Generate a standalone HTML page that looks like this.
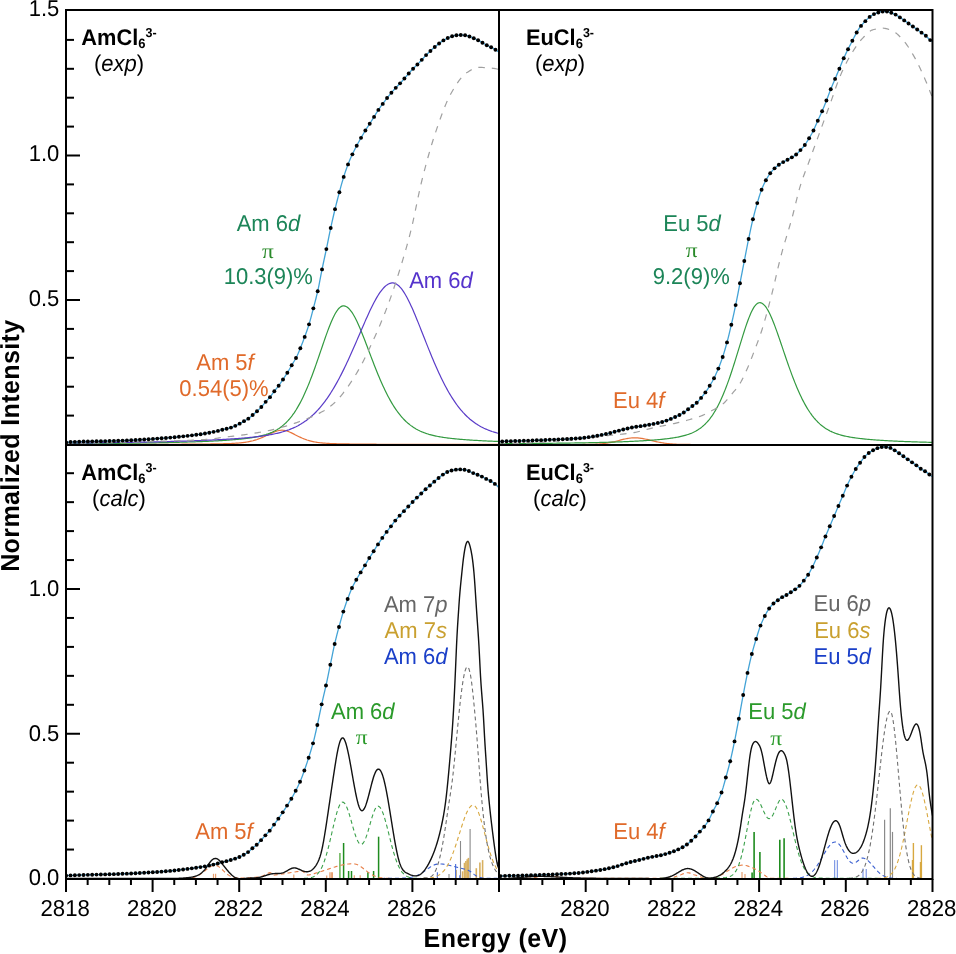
<!DOCTYPE html>
<html><head><meta charset="utf-8"><title>XANES spectra</title>
<style>html,body{margin:0;padding:0;background:#fff;}svg{display:block;}
text{font-family:"Liberation Sans",Arial,sans-serif;text-rendering:geometricPrecision;}
.t{font-size:21.5px;}
.b{font-weight:bold;}
.i{font-style:italic;}
.pi{font-family:"Liberation Serif","DejaVu Serif",serif;}
</style></head><body>
<svg width="956" height="954" viewBox="0 0 956 954">
<defs>
<clipPath id="cA"><rect x="66" y="10" width="433" height="435"/></clipPath>
<clipPath id="cB"><rect x="499" y="10" width="433.5" height="435"/></clipPath>
<clipPath id="cC"><rect x="66" y="445" width="433" height="434"/></clipPath>
<clipPath id="cD"><rect x="499" y="445" width="433.5" height="434"/></clipPath>
</defs>
<rect width="956" height="954" fill="#fff"/>
<path d="M66 444.44L67 444.44L68 444.44L69 444.44L70 444.44L71 444.44L72 444.44L73 444.43L74 444.43L75 444.43L76 444.43L77 444.43L78 444.43L79 444.43L80 444.43L81 444.43L82 444.43L83 444.43L84 444.43L85 444.43L86 444.43L87 444.42L88 444.42L89 444.42L90 444.42L91 444.42L92 444.42L93 444.42L94 444.42L95 444.42L96 444.42L97 444.42L98 444.42L99 444.41L100 444.41L101 444.41L102 444.41L103 444.41L104 444.41L105 444.41L106 444.41L107 444.41L108 444.41L109 444.4L110 444.4L111 444.4L112 444.4L113 444.4L114 444.4L115 444.4L116 444.4L117 444.4L118 444.39L119 444.39L120 444.39L121 444.39L122 444.39L123 444.39L124 444.39L125 444.38L126 444.38L127 444.38L128 444.38L129 444.38L130 444.38L131 444.38L132 444.37L133 444.37L134 444.37L135 444.37L136 444.37L137 444.37L138 444.36L139 444.36L140 444.36L141 444.36L142 444.36L143 444.35L144 444.35L145 444.35L146 444.35L147 444.34L148 444.34L149 444.34L150 444.34L151 444.34L152 444.33L153 444.33L154 444.33L155 444.33L156 444.32L157 444.32L158 444.32L159 444.31L160 444.31L161 444.31L162 444.3L163 444.3L164 444.3L165 444.3L166 444.29L167 444.29L168 444.28L169 444.28L170 444.28L171 444.27L172 444.27L173 444.26L174 444.26L175 444.26L176 444.25L177 444.25L178 444.24L179 444.24L180 444.23L181 444.23L182 444.22L183 444.22L184 444.21L185 444.21L186 444.2L187 444.19L188 444.19L189 444.18L190 444.17L191 444.17L192 444.16L193 444.15L194 444.15L195 444.14L196 444.13L197 444.12L198 444.11L199 444.1L200 444.09L201 444.09L202 444.08L203 444.06L204 444.05L205 444.04L206 444.03L207 444.02L208 444.01L209 444L210 443.98L211 443.97L212 443.95L213 443.94L214 443.92L215 443.91L216 443.89L217 443.87L218 443.85L219 443.83L220 443.81L221 443.79L222 443.77L223 443.74L224 443.72L225 443.69L226 443.66L227 443.63L228 443.59L229 443.56L230 443.52L231 443.48L232 443.43L233 443.38L234 443.33L235 443.27L236 443.21L237 443.14L238 443.06L239 442.98L240 442.89L241 442.79L242 442.69L243 442.57L244 442.44L245 442.3L246 442.15L247 441.99L248 441.82L249 441.63L250 441.42L251 441.2L252 440.96L253 440.71L254 440.43L255 440.14L256 439.83L257 439.51L258 439.16L259 438.8L260 438.42L261 438.02L262 437.6L263 437.17L264 436.73L265 436.27L266 435.81L267 435.33L268 434.85L269 434.37L270 433.9L271 433.42L272 432.96L273 432.52L274 432.1L275 431.7L276 431.34L277 431.02L278 430.75L279 430.53L280 430.36L281 430.26L282 430.22L283 430.24L284 430.34L285 430.51L286 430.74L287 431.03L288 431.38L289 431.77L290 432.2L291 432.66L292 433.14L293 433.64L294 434.15L295 434.66L296 435.18L297 435.69L298 436.19L299 436.68L300 437.15L301 437.61L302 438.06L303 438.48L304 438.89L305 439.27L306 439.63L307 439.98L308 440.3L309 440.6L310 440.88L311 441.14L312 441.38L313 441.6L314 441.81L315 442L316 442.17L317 442.33L318 442.47L319 442.61L320 442.73L321 442.84L322 442.94L323 443.03L324 443.11L325 443.19L326 443.26L327 443.32L328 443.38L329 443.43L330 443.48L331 443.52L332 443.57L333 443.6L334 443.64L335 443.67L336 443.7L337 443.73L338 443.76L339 443.78L340 443.81L341 443.83L342 443.85L343 443.87L344 443.89L345 443.91L346 443.93L347 443.94L348 443.96L349 443.97L350 443.99L351 444L352 444.02L353 444.03L354 444.04L355 444.05L356 444.06L357 444.08L358 444.09L359 444.1L360 444.11L361 444.12L362 444.12L363 444.13L364 444.14L365 444.15L366 444.16L367 444.17L368 444.17L369 444.18L370 444.19L371 444.19L372 444.2L373 444.21L374 444.21L375 444.22L376 444.22L377 444.23L378 444.24L379 444.24L380 444.25L381 444.25L382 444.26L383 444.26L384 444.26L385 444.27L386 444.27L387 444.28L388 444.28L389 444.29L390 444.29L391 444.29L392 444.3L393 444.3L394 444.3L395 444.31L396 444.31L397 444.31L398 444.32L399 444.32L400 444.32L401 444.33L402 444.33L403 444.33L404 444.33L405 444.34L406 444.34L407 444.34L408 444.34L409 444.35L410 444.35L411 444.35L412 444.35L413 444.36L414 444.36L415 444.36L416 444.36L417 444.36L418 444.37L419 444.37L420 444.37L421 444.37L422 444.37L423 444.37L424 444.38L425 444.38L426 444.38L427 444.38L428 444.38L429 444.38L430 444.39L431 444.39L432 444.39L433 444.39L434 444.39L435 444.39L436 444.39L437 444.4L438 444.4L439 444.4L440 444.4L441 444.4L442 444.4L443 444.4L444 444.4L445 444.41L446 444.41L447 444.41L448 444.41L449 444.41L450 444.41L451 444.41L452 444.41L453 444.41L454 444.42L455 444.42L456 444.42L457 444.42L458 444.42L459 444.42L460 444.42L461 444.42L462 444.42L463 444.42L464 444.42L465 444.43L466 444.43L467 444.43L468 444.43L469 444.43L470 444.43L471 444.43L472 444.43L473 444.43L474 444.43L475 444.43L476 444.43L477 444.43L478 444.43L479 444.44L480 444.44L481 444.44L482 444.44L483 444.44L484 444.44L485 444.44L486 444.44L487 444.44L488 444.44L489 444.44L490 444.44L491 444.44L492 444.44L493 444.44L494 444.44L495 444.44L496 444.45L497 444.45L498 444.45L499 444.45" fill="none" stroke="#e8743b" stroke-width="1.2" clip-path="url(#cA)"/>
<path d="M66 443.7L67 443.7L68 443.69L69 443.68L70 443.68L71 443.67L72 443.67L73 443.66L74 443.65L75 443.65L76 443.64L77 443.63L78 443.63L79 443.62L80 443.62L81 443.61L82 443.6L83 443.59L84 443.59L85 443.58L86 443.57L87 443.57L88 443.56L89 443.55L90 443.55L91 443.54L92 443.53L93 443.52L94 443.51L95 443.51L96 443.5L97 443.49L98 443.48L99 443.47L100 443.47L101 443.46L102 443.45L103 443.44L104 443.43L105 443.42L106 443.41L107 443.41L108 443.4L109 443.39L110 443.38L111 443.37L112 443.36L113 443.35L114 443.34L115 443.33L116 443.32L117 443.31L118 443.3L119 443.29L120 443.28L121 443.27L122 443.26L123 443.24L124 443.23L125 443.22L126 443.21L127 443.2L128 443.19L129 443.17L130 443.16L131 443.15L132 443.14L133 443.12L134 443.11L135 443.1L136 443.09L137 443.07L138 443.06L139 443.04L140 443.03L141 443.02L142 443L143 442.99L144 442.97L145 442.96L146 442.94L147 442.93L148 442.91L149 442.89L150 442.88L151 442.86L152 442.85L153 442.83L154 442.81L155 442.79L156 442.78L157 442.76L158 442.74L159 442.72L160 442.7L161 442.68L162 442.66L163 442.64L164 442.62L165 442.6L166 442.58L167 442.56L168 442.54L169 442.52L170 442.5L171 442.47L172 442.45L173 442.43L174 442.4L175 442.38L176 442.35L177 442.33L178 442.3L179 442.28L180 442.25L181 442.23L182 442.2L183 442.17L184 442.14L185 442.11L186 442.08L187 442.05L188 442.02L189 441.99L190 441.96L191 441.93L192 441.9L193 441.86L194 441.83L195 441.8L196 441.76L197 441.72L198 441.69L199 441.65L200 441.61L201 441.57L202 441.53L203 441.49L204 441.45L205 441.41L206 441.37L207 441.32L208 441.28L209 441.23L210 441.19L211 441.14L212 441.09L213 441.04L214 440.99L215 440.94L216 440.89L217 440.83L218 440.78L219 440.72L220 440.66L221 440.6L222 440.54L223 440.48L224 440.42L225 440.35L226 440.28L227 440.22L228 440.15L229 440.07L230 440L231 439.92L232 439.85L233 439.77L234 439.68L235 439.6L236 439.51L237 439.42L238 439.33L239 439.23L240 439.14L241 439.03L242 438.93L243 438.82L244 438.71L245 438.59L246 438.47L247 438.35L248 438.22L249 438.08L250 437.94L251 437.79L252 437.64L253 437.48L254 437.31L255 437.14L256 436.95L257 436.76L258 436.56L259 436.35L260 436.12L261 435.89L262 435.64L263 435.38L264 435.1L265 434.81L266 434.51L267 434.18L268 433.84L269 433.47L270 433.09L271 432.68L272 432.25L273 431.79L274 431.3L275 430.79L276 430.24L277 429.67L278 429.05L279 428.41L280 427.72L281 426.99L282 426.23L283 425.41L284 424.56L285 423.65L286 422.7L287 421.69L288 420.63L289 419.52L290 418.34L291 417.11L292 415.82L293 414.46L294 413.04L295 411.55L296 410L297 408.37L298 406.68L299 404.92L300 403.09L301 401.18L302 399.21L303 397.16L304 395.04L305 392.86L306 390.6L307 388.27L308 385.88L309 383.42L310 380.9L311 378.32L312 375.69L313 373L314 370.26L315 367.47L316 364.65L317 361.79L318 358.9L319 355.99L320 353.06L321 350.13L322 347.2L323 344.28L324 341.37L325 338.5L326 335.66L327 332.88L328 330.16L329 327.52L330 324.97L331 322.52L332 320.19L333 317.99L334 315.93L335 314.04L336 312.31L337 310.77L338 309.42L339 308.28L340 307.35L341 306.64L342 306.17L343 305.92L344 305.91L345 306.09L346 306.47L347 307.03L348 307.77L349 308.69L350 309.78L351 311.04L352 312.45L353 314.02L354 315.72L355 317.55L356 319.5L357 321.56L358 323.73L359 325.98L360 328.31L361 330.71L362 333.16L363 335.68L364 338.23L365 340.81L366 343.43L367 346.06L368 348.7L369 351.34L370 353.98L371 356.62L372 359.24L373 361.84L374 364.42L375 366.97L376 369.49L377 371.97L378 374.42L379 376.82L380 379.18L381 381.49L382 383.75L383 385.96L384 388.12L385 390.22L386 392.27L387 394.26L388 396.2L389 398.07L390 399.89L391 401.65L392 403.36L393 405L394 406.59L395 408.12L396 409.6L397 411.02L398 412.38L399 413.69L400 414.95L401 416.16L402 417.31L403 418.42L404 419.47L405 420.48L406 421.45L407 422.37L408 423.25L409 424.08L410 424.88L411 425.64L412 426.36L413 427.05L414 427.7L415 428.32L416 428.91L417 429.47L418 430.01L419 430.51L420 430.99L421 431.44L422 431.88L423 432.29L424 432.68L425 433.04L426 433.4L427 433.73L428 434.04L429 434.35L430 434.63L431 434.9L432 435.16L433 435.41L434 435.64L435 435.87L436 436.08L437 436.28L438 436.48L439 436.66L440 436.84L441 437.01L442 437.18L443 437.33L444 437.48L445 437.63L446 437.77L447 437.9L448 438.03L449 438.15L450 438.27L451 438.39L452 438.5L453 438.61L454 438.71L455 438.81L456 438.91L457 439.01L458 439.1L459 439.19L460 439.28L461 439.36L462 439.44L463 439.52L464 439.6L465 439.68L466 439.75L467 439.83L468 439.9L469 439.97L470 440.03L471 440.1L472 440.16L473 440.23L474 440.29L475 440.35L476 440.41L477 440.47L478 440.52L479 440.58L480 440.63L481 440.68L482 440.74L483 440.79L484 440.84L485 440.89L486 440.93L487 440.98L488 441.03L489 441.07L490 441.12L491 441.16L492 441.2L493 441.24L494 441.28L495 441.32L496 441.36L497 441.4L498 441.44L499 441.48" fill="none" stroke="#339a40" stroke-width="1.2" clip-path="url(#cA)"/>
<path d="M66 443.07L67 443.06L68 443.05L69 443.04L70 443.03L71 443.03L72 443.02L73 443.01L74 443L75 442.99L76 442.98L77 442.97L78 442.96L79 442.95L80 442.94L81 442.93L82 442.92L83 442.91L84 442.9L85 442.89L86 442.88L87 442.87L88 442.86L89 442.85L90 442.84L91 442.83L92 442.82L93 442.81L94 442.79L95 442.78L96 442.77L97 442.76L98 442.75L99 442.74L100 442.73L101 442.71L102 442.7L103 442.69L104 442.68L105 442.67L106 442.65L107 442.64L108 442.63L109 442.61L110 442.6L111 442.59L112 442.58L113 442.56L114 442.55L115 442.53L116 442.52L117 442.51L118 442.49L119 442.48L120 442.46L121 442.45L122 442.43L123 442.42L124 442.4L125 442.39L126 442.37L127 442.36L128 442.34L129 442.33L130 442.31L131 442.29L132 442.28L133 442.26L134 442.24L135 442.23L136 442.21L137 442.19L138 442.17L139 442.16L140 442.14L141 442.12L142 442.1L143 442.08L144 442.07L145 442.05L146 442.03L147 442.01L148 441.99L149 441.97L150 441.95L151 441.93L152 441.91L153 441.89L154 441.86L155 441.84L156 441.82L157 441.8L158 441.78L159 441.75L160 441.73L161 441.71L162 441.69L163 441.66L164 441.64L165 441.61L166 441.59L167 441.56L168 441.54L169 441.51L170 441.49L171 441.46L172 441.44L173 441.41L174 441.38L175 441.35L176 441.33L177 441.3L178 441.27L179 441.24L180 441.21L181 441.18L182 441.15L183 441.12L184 441.09L185 441.06L186 441.03L187 440.99L188 440.96L189 440.93L190 440.89L191 440.86L192 440.83L193 440.79L194 440.75L195 440.72L196 440.68L197 440.64L198 440.61L199 440.57L200 440.53L201 440.49L202 440.45L203 440.41L204 440.37L205 440.33L206 440.29L207 440.24L208 440.2L209 440.15L210 440.11L211 440.06L212 440.02L213 439.97L214 439.92L215 439.87L216 439.82L217 439.77L218 439.72L219 439.67L220 439.62L221 439.56L222 439.51L223 439.45L224 439.4L225 439.34L226 439.28L227 439.22L228 439.16L229 439.1L230 439.03L231 438.97L232 438.9L233 438.84L234 438.77L235 438.7L236 438.63L237 438.56L238 438.48L239 438.41L240 438.33L241 438.25L242 438.17L243 438.09L244 438L245 437.92L246 437.83L247 437.74L248 437.64L249 437.55L250 437.45L251 437.35L252 437.25L253 437.14L254 437.03L255 436.92L256 436.81L257 436.69L258 436.57L259 436.44L260 436.31L261 436.18L262 436.04L263 435.9L264 435.75L265 435.6L266 435.45L267 435.29L268 435.12L269 434.95L270 434.77L271 434.58L272 434.39L273 434.19L274 433.98L275 433.77L276 433.54L277 433.31L278 433.07L279 432.82L280 432.56L281 432.3L282 432.02L283 431.72L284 431.42L285 431.11L286 430.78L287 430.44L288 430.08L289 429.72L290 429.33L291 428.93L292 428.52L293 428.09L294 427.64L295 427.17L296 426.69L297 426.18L298 425.66L299 425.11L300 424.54L301 423.95L302 423.34L303 422.71L304 422.05L305 421.36L306 420.65L307 419.91L308 419.15L309 418.35L310 417.53L311 416.68L312 415.8L313 414.89L314 413.94L315 412.97L316 411.96L317 410.91L318 409.84L319 408.73L320 407.58L321 406.4L322 405.18L323 403.92L324 402.63L325 401.3L326 399.94L327 398.53L328 397.09L329 395.61L330 394.09L331 392.53L332 390.93L333 389.29L334 387.62L335 385.91L336 384.16L337 382.37L338 380.55L339 378.69L340 376.79L341 374.86L342 372.89L343 370.89L344 368.86L345 366.79L346 364.7L347 362.58L348 360.43L349 358.25L350 356.05L351 353.83L352 351.58L353 349.32L354 347.04L355 344.74L356 342.44L357 340.12L358 337.8L359 335.47L360 333.15L361 330.82L362 328.51L363 326.2L364 323.9L365 321.62L366 319.36L367 317.13L368 314.92L369 312.75L370 310.62L371 308.53L372 306.48L373 304.49L374 302.56L375 300.69L376 298.89L377 297.16L378 295.5L379 293.93L380 292.45L381 291.06L382 289.77L383 288.57L384 287.49L385 286.51L386 285.64L387 284.89L388 284.26L389 283.76L390 283.37L391 283.11L392 282.97L393 282.97L394 283.11L395 283.4L396 283.84L397 284.43L398 285.16L399 286.03L400 287.04L401 288.18L402 289.44L403 290.84L404 292.34L405 293.96L406 295.68L407 297.5L408 299.41L409 301.41L410 303.48L411 305.63L412 307.84L413 310.11L414 312.43L415 314.8L416 317.21L417 319.65L418 322.12L419 324.62L420 327.13L421 329.66L422 332.2L423 334.74L424 337.28L425 339.82L426 342.35L427 344.87L428 347.38L429 349.87L430 352.33L431 354.78L432 357.19L433 359.58L434 361.94L435 364.27L436 366.56L437 368.82L438 371.04L439 373.22L440 375.36L441 377.46L442 379.52L443 381.53L444 383.5L445 385.43L446 387.31L447 389.14L448 390.93L449 392.68L450 394.37L451 396.02L452 397.63L453 399.19L454 400.7L455 402.17L456 403.6L457 404.98L458 406.31L459 407.6L460 408.85L461 410.06L462 411.23L463 412.36L464 413.44L465 414.49L466 415.5L467 416.47L468 417.41L469 418.31L470 419.18L471 420.01L472 420.81L473 421.58L474 422.32L475 423.03L476 423.71L477 424.36L478 424.99L479 425.59L480 426.16L481 426.72L482 427.24L483 427.75L484 428.24L485 428.7L486 429.14L487 429.57L488 429.98L489 430.37L490 430.74L491 431.1L492 431.45L493 431.77L494 432.09L495 432.39L496 432.68L497 432.96L498 433.23L499 433.48" fill="none" stroke="#5a3cc8" stroke-width="1.2" clip-path="url(#cA)"/>
<path d="M66 443.5L67 443.48L68 443.47L69 443.45L70 443.44L71 443.42L72 443.4L73 443.39L74 443.37L75 443.35L76 443.33L77 443.32L78 443.3L79 443.28L80 443.26L81 443.24L82 443.22L83 443.2L84 443.18L85 443.16L86 443.14L87 443.12L88 443.1L89 443.08L90 443.06L91 443.04L92 443.02L93 443L94 442.98L95 442.95L96 442.93L97 442.91L98 442.89L99 442.86L100 442.84L101 442.82L102 442.79L103 442.77L104 442.75L105 442.72L106 442.7L107 442.68L108 442.65L109 442.63L110 442.6L111 442.58L112 442.55L113 442.53L114 442.5L115 442.48L116 442.45L117 442.42L118 442.4L119 442.37L120 442.35L121 442.32L122 442.29L123 442.27L124 442.24L125 442.21L126 442.19L127 442.16L128 442.13L129 442.1L130 442.08L131 442.05L132 442.02L133 441.99L134 441.96L135 441.94L136 441.91L137 441.88L138 441.85L139 441.82L140 441.79L141 441.76L142 441.74L143 441.71L144 441.68L145 441.65L146 441.62L147 441.59L148 441.56L149 441.53L150 441.5L151 441.47L152 441.44L153 441.41L154 441.38L155 441.36L156 441.33L157 441.3L158 441.27L159 441.25L160 441.22L161 441.19L162 441.17L163 441.14L164 441.11L165 441.08L166 441.06L167 441.03L168 441L169 440.98L170 440.95L171 440.92L172 440.89L173 440.86L174 440.83L175 440.8L176 440.77L177 440.74L178 440.71L179 440.68L180 440.65L181 440.61L182 440.58L183 440.55L184 440.51L185 440.47L186 440.44L187 440.4L188 440.36L189 440.32L190 440.28L191 440.24L192 440.2L193 440.15L194 440.11L195 440.06L196 440.01L197 439.96L198 439.91L199 439.86L200 439.81L201 439.76L202 439.7L203 439.64L204 439.59L205 439.53L206 439.46L207 439.4L208 439.34L209 439.27L210 439.2L211 439.12L212 439.01L213 438.89L214 438.75L215 438.6L216 438.44L217 438.27L218 438.1L219 437.93L220 437.77L221 437.61L222 437.47L223 437.34L224 437.21L225 437.09L226 436.97L227 436.86L228 436.74L229 436.63L230 436.52L231 436.41L232 436.3L233 436.19L234 436.08L235 435.96L236 435.85L237 435.73L238 435.6L239 435.47L240 435.34L241 435.21L242 435.07L243 434.94L244 434.8L245 434.66L246 434.51L247 434.37L248 434.22L249 434.07L250 433.91L251 433.76L252 433.6L253 433.44L254 433.28L255 433.12L256 432.96L257 432.79L258 432.62L259 432.45L260 432.28L261 432.1L262 431.92L263 431.73L264 431.54L265 431.35L266 431.15L267 430.95L268 430.74L269 430.52L270 430.3L271 430.07L272 429.84L273 429.6L274 429.35L275 429.1L276 428.84L277 428.58L278 428.32L279 428.05L280 427.78L281 427.5L282 427.22L283 426.94L284 426.66L285 426.37L286 426.07L287 425.77L288 425.47L289 425.16L290 424.84L291 424.52L292 424.19L293 423.86L294 423.52L295 423.17L296 422.82L297 422.46L298 422.09L299 421.73L300 421.37L301 421L302 420.63L303 420.26L304 419.88L305 419.5L306 419.12L307 418.73L308 418.33L309 417.92L310 417.51L311 417.09L312 416.66L313 416.23L314 415.78L315 415.32L316 414.86L317 414.38L318 413.89L319 413.39L320 412.87L321 412.34L322 411.8L323 411.24L324 410.66L325 410.05L326 409.41L327 408.73L328 408.03L329 407.3L330 406.54L331 405.76L332 404.94L333 404.1L334 403.24L335 402.35L336 401.43L337 400.42L338 399.34L339 398.19L340 397L341 395.78L342 394.54L343 393.26L344 391.96L345 390.64L346 389.29L347 387.91L348 386.5L349 385.07L350 383.61L351 382.12L352 380.6L353 379.06L354 377.49L355 375.89L356 374.26L357 372.6L358 370.9L359 369.15L360 367.35L361 365.51L362 363.62L363 361.69L364 359.72L365 357.72L366 355.69L367 353.62L368 351.53L369 349.42L370 347.29L371 345.14L372 342.97L373 340.79L374 338.6L375 336.39L376 334.16L377 331.91L378 329.62L379 327.3L380 324.95L381 322.57L382 320.16L383 317.71L384 315.22L385 312.69L386 310.13L387 307.52L388 304.87L389 302.16L390 299.4L391 296.58L392 293.7L393 290.76L394 287.78L395 284.75L396 281.67L397 278.55L398 275.4L399 272.21L400 268.99L401 265.74L402 262.46L403 259.15L404 255.78L405 252.36L406 248.88L407 245.32L408 241.68L409 237.96L410 234.13L411 230.2L412 226.04L413 221.62L414 217.01L415 212.27L416 207.45L417 202.61L418 197.8L419 193.07L420 188.49L421 184.12L422 180L423 176.06L424 172.17L425 168.35L426 164.59L427 160.89L428 157.27L429 153.72L430 150.24L431 146.84L432 143.52L433 140.28L434 137.13L435 134.06L436 131.09L437 128.18L438 125.29L439 122.42L440 119.59L441 116.81L442 114.08L443 111.42L444 108.82L445 106.31L446 103.89L447 101.57L448 99.35L449 97.26L450 95.29L451 93.45L452 91.72L453 90.01L454 88.33L455 86.7L456 85.1L457 83.56L458 82.08L459 80.66L460 79.32L461 78.06L462 76.88L463 75.8L464 74.83L465 73.96L466 73.2L467 72.54L468 71.89L469 71.24L470 70.62L471 70.03L472 69.48L473 68.97L474 68.52L475 68.13L476 67.82L477 67.58L478 67.44L479 67.4L480 67.41L481 67.42L482 67.45L483 67.49L484 67.54L485 67.59L486 67.66L487 67.73L488 67.81L489 67.89L490 67.98L491 68.08L492 68.18L493 68.29L494 68.4L495 68.54L496 68.74L497 68.98L498 69.24L499 69.5" fill="none" stroke="#a0a0a0" stroke-width="1.2" stroke-dasharray="6.5 7" clip-path="url(#cA)"/>
<path d="M66 442.5L67 442.38L68 442.26L69 442.16L70 442.09L71 442.04L72 441.99L73 441.94L74 441.89L75 441.85L76 441.81L77 441.77L78 441.73L79 441.69L80 441.66L81 441.63L82 441.59L83 441.56L84 441.53L85 441.51L86 441.48L87 441.45L88 441.43L89 441.4L90 441.38L91 441.36L92 441.34L93 441.32L94 441.3L95 441.28L96 441.26L97 441.24L98 441.22L99 441.2L100 441.18L101 441.16L102 441.14L103 441.12L104 441.1L105 441.08L106 441.06L107 441.04L108 441.02L109 441L110 440.98L111 440.95L112 440.93L113 440.9L114 440.88L115 440.85L116 440.82L117 440.79L118 440.76L119 440.73L120 440.69L121 440.66L122 440.62L123 440.58L124 440.54L125 440.5L126 440.46L127 440.41L128 440.37L129 440.32L130 440.27L131 440.22L132 440.18L133 440.12L134 440.07L135 440.02L136 439.97L137 439.91L138 439.86L139 439.8L140 439.74L141 439.68L142 439.62L143 439.56L144 439.5L145 439.44L146 439.37L147 439.31L148 439.25L149 439.18L150 439.11L151 439.05L152 438.98L153 438.91L154 438.84L155 438.77L156 438.7L157 438.63L158 438.55L159 438.48L160 438.41L161 438.33L162 438.26L163 438.18L164 438.1L165 438.02L166 437.94L167 437.86L168 437.78L169 437.69L170 437.61L171 437.52L172 437.43L173 437.34L174 437.25L175 437.16L176 437.07L177 436.97L178 436.87L179 436.78L180 436.68L181 436.57L182 436.47L183 436.37L184 436.26L185 436.15L186 436.04L187 435.93L188 435.81L189 435.7L190 435.58L191 435.46L192 435.34L193 435.22L194 435.09L195 434.97L196 434.84L197 434.71L198 434.57L199 434.44L200 434.29L201 434.14L202 433.99L203 433.83L204 433.66L205 433.49L206 433.31L207 433.13L208 432.95L209 432.76L210 432.57L211 432.37L212 432.17L213 431.96L214 431.76L215 431.54L216 431.33L217 431.11L218 430.87L219 430.62L220 430.36L221 430.09L222 429.83L223 429.58L224 429.34L225 429.12L226 428.89L227 428.67L228 428.43L229 428.18L230 427.9L231 427.6L232 427.25L233 426.86L234 426.44L235 425.98L236 425.49L237 424.99L238 424.48L239 423.96L240 423.44L241 422.9L242 422.33L243 421.74L244 421.16L245 420.6L246 420.05L247 419.48L248 418.87L249 418.17L250 417.36L251 416.5L252 415.62L253 414.76L254 413.92L255 413.07L256 412.2L257 411.3L258 410.36L259 409.39L260 408.38L261 407.33L262 406.23L263 405.05L264 403.83L265 402.62L266 401.46L267 400.39L268 399.34L269 398.27L270 397.12L271 395.85L272 394.48L273 393.07L274 391.67L275 390.35L276 389.09L277 387.85L278 386.58L279 385.26L280 383.88L281 382.45L282 380.98L283 379.5L284 378L285 376.48L286 374.94L287 373.35L288 371.71L289 369.99L290 368.24L291 366.49L292 364.76L293 363.11L294 361.48L295 359.8L296 357.99L297 355.98L298 353.79L299 351.46L300 349.06L301 346.62L302 344.08L303 341.46L304 338.77L305 336.02L306 333.27L307 330.46L308 327.53L309 324.42L310 321.04L311 317.4L312 313.59L313 309.73L314 305.89L315 302.09L316 298.22L317 294.18L318 289.85L319 285.02L320 279.82L321 274.55L322 269.51L323 264.75L324 260.11L325 255.5L326 250.83L327 246.01L328 241.06L329 236.1L330 231.27L331 226.65L332 222.15L333 217.76L334 213.48L335 209.3L336 205.22L337 201.24L338 197.35L339 193.56L340 189.85L341 186.19L342 182.63L343 179.2L344 175.97L345 172.89L346 169.95L347 167.15L348 164.5L349 162L350 159.62L351 157.34L352 155.15L353 153.02L354 150.97L355 148.98L356 147.05L357 145.14L358 143.29L359 141.47L360 139.69L361 137.92L362 136.18L363 134.47L364 132.78L365 131.13L366 129.52L367 127.96L368 126.43L369 124.89L370 123.33L371 121.76L372 120.18L373 118.59L374 117L375 115.37L376 113.71L377 112.07L378 110.5L379 109.03L380 107.61L381 106.24L382 104.88L383 103.51L384 102.14L385 100.79L386 99.45L387 98.14L388 96.86L389 95.59L390 94.36L391 93.15L392 91.99L393 90.86L394 89.75L395 88.66L396 87.59L397 86.53L398 85.5L399 84.47L400 83.41L401 82.32L402 81.21L403 80.09L404 78.96L405 77.81L406 76.64L407 75.46L408 74.3L409 73.16L410 72.04L411 70.93L412 69.85L413 68.8L414 67.8L415 66.83L416 65.88L417 64.9L418 63.88L419 62.83L420 61.75L421 60.67L422 59.58L423 58.48L424 57.36L425 56.26L426 55.2L427 54.2L428 53.23L429 52.29L430 51.36L431 50.43L432 49.5L433 48.59L434 47.7L435 46.83L436 45.98L437 45.16L438 44.35L439 43.58L440 42.82L441 42.07L442 41.35L443 40.68L444 40.06L445 39.48L446 38.94L447 38.43L448 37.95L449 37.48L450 37.03L451 36.62L452 36.26L453 35.96L454 35.67L455 35.43L456 35.25L457 35.16L458 35.1L459 35.05L460 35.01L461 35L462 35.01L463 35.05L464 35.11L465 35.18L466 35.3L467 35.56L468 35.91L469 36.28L470 36.64L471 37.02L472 37.42L473 37.85L474 38.29L475 38.75L476 39.23L477 39.73L478 40.25L479 40.78L480 41.33L481 41.89L482 42.46L483 43.03L484 43.63L485 44.23L486 44.81L487 45.35L488 45.83L489 46.28L490 46.72L491 47.2L492 47.72L493 48.28L494 48.87L495 49.48L496 50.13L497 50.81L498 51.54L499 52.3" fill="none" stroke="#43a3d6" stroke-width="1.3" clip-path="url(#cA)"/>
<g fill="#000" clip-path="url(#cA)"><circle cx="66.2" cy="442.48" r="1.95"/><circle cx="70.54" cy="442.06" r="1.95"/><circle cx="74.87" cy="441.86" r="1.95"/><circle cx="79.21" cy="441.69" r="1.95"/><circle cx="83.54" cy="441.55" r="1.95"/><circle cx="87.88" cy="441.43" r="1.95"/><circle cx="92.22" cy="441.33" r="1.95"/><circle cx="96.55" cy="441.25" r="1.95"/><circle cx="100.89" cy="441.16" r="1.95"/><circle cx="105.22" cy="441.08" r="1.95"/><circle cx="109.56" cy="440.99" r="1.95"/><circle cx="113.9" cy="440.88" r="1.95"/><circle cx="118.23" cy="440.75" r="1.95"/><circle cx="122.57" cy="440.6" r="1.95"/><circle cx="126.9" cy="440.42" r="1.95"/><circle cx="131.24" cy="440.21" r="1.95"/><circle cx="135.58" cy="439.99" r="1.95"/><circle cx="139.91" cy="439.75" r="1.95"/><circle cx="144.25" cy="439.49" r="1.95"/><circle cx="148.58" cy="439.21" r="1.95"/><circle cx="152.92" cy="438.91" r="1.95"/><circle cx="157.26" cy="438.61" r="1.95"/><circle cx="161.59" cy="438.29" r="1.95"/><circle cx="165.93" cy="437.95" r="1.95"/><circle cx="170.26" cy="437.59" r="1.95"/><circle cx="174.6" cy="437.2" r="1.95"/><circle cx="178.94" cy="436.78" r="1.95"/><circle cx="183.27" cy="436.34" r="1.95"/><circle cx="187.61" cy="435.86" r="1.95"/><circle cx="191.94" cy="435.35" r="1.95"/><circle cx="196.28" cy="434.8" r="1.95"/><circle cx="200.62" cy="434.2" r="1.95"/><circle cx="204.95" cy="433.5" r="1.95"/><circle cx="209.29" cy="432.71" r="1.95"/><circle cx="213.62" cy="431.83" r="1.95"/><circle cx="217.96" cy="430.88" r="1.95"/><circle cx="222.3" cy="429.75" r="1.95"/><circle cx="226.63" cy="428.75" r="1.95"/><circle cx="230.97" cy="427.61" r="1.95"/><circle cx="235.3" cy="425.83" r="1.95"/><circle cx="239.64" cy="423.63" r="1.95"/><circle cx="243.98" cy="421.17" r="1.95"/><circle cx="248.31" cy="418.66" r="1.95"/><circle cx="252.65" cy="415.06" r="1.95"/><circle cx="256.98" cy="411.31" r="1.95"/><circle cx="261.32" cy="406.99" r="1.95"/><circle cx="265.66" cy="401.85" r="1.95"/><circle cx="269.99" cy="397.13" r="1.95"/><circle cx="274.33" cy="391.23" r="1.95"/><circle cx="278.66" cy="385.72" r="1.95"/><circle cx="283" cy="379.5" r="1.95"/><circle cx="287.34" cy="372.8" r="1.95"/><circle cx="291.67" cy="365.32" r="1.95"/><circle cx="296.01" cy="357.97" r="1.95"/><circle cx="300.34" cy="348.22" r="1.95"/><circle cx="304.68" cy="336.91" r="1.95"/><circle cx="309.02" cy="324.37" r="1.95"/><circle cx="313.35" cy="308.37" r="1.95"/><circle cx="317.69" cy="291.24" r="1.95"/><circle cx="322.02" cy="269.4" r="1.95"/><circle cx="326.36" cy="249.11" r="1.95"/><circle cx="330.7" cy="228.04" r="1.95"/><circle cx="335.03" cy="209.17" r="1.95"/><circle cx="339.37" cy="192.19" r="1.95"/><circle cx="343.7" cy="176.9" r="1.95"/><circle cx="348.04" cy="164.4" r="1.95"/><circle cx="352.38" cy="154.34" r="1.95"/><circle cx="356.71" cy="145.69" r="1.95"/><circle cx="361.05" cy="137.84" r="1.95"/><circle cx="365.38" cy="130.5" r="1.95"/><circle cx="369.72" cy="123.77" r="1.95"/><circle cx="374.06" cy="116.91" r="1.95"/><circle cx="378.39" cy="109.91" r="1.95"/><circle cx="382.73" cy="103.89" r="1.95"/><circle cx="387.06" cy="98.06" r="1.95"/><circle cx="391.4" cy="92.68" r="1.95"/><circle cx="395.74" cy="87.87" r="1.95"/><circle cx="400.07" cy="83.33" r="1.95"/><circle cx="404.41" cy="78.49" r="1.95"/><circle cx="408.74" cy="73.45" r="1.95"/><circle cx="413.08" cy="68.72" r="1.95"/><circle cx="417.42" cy="64.49" r="1.95"/><circle cx="421.75" cy="59.85" r="1.95"/><circle cx="426.09" cy="55.11" r="1.95"/><circle cx="430.42" cy="50.96" r="1.95"/><circle cx="434.76" cy="47.03" r="1.95"/><circle cx="439.1" cy="43.5" r="1.95"/><circle cx="443.43" cy="40.4" r="1.95"/><circle cx="447.77" cy="38.06" r="1.95"/><circle cx="452.1" cy="36.23" r="1.95"/><circle cx="456.44" cy="35.2" r="1.95"/><circle cx="460.78" cy="35" r="1.95"/><circle cx="465.11" cy="35.19" r="1.95"/><circle cx="469.45" cy="36.45" r="1.95"/><circle cx="473.78" cy="38.19" r="1.95"/><circle cx="478.12" cy="40.31" r="1.95"/><circle cx="482.46" cy="42.72" r="1.95"/><circle cx="486.79" cy="45.24" r="1.95"/><circle cx="491.13" cy="47.26" r="1.95"/><circle cx="495.46" cy="49.78" r="1.95"/></g>
<path d="M499 444.5L500 444.5L501 444.5L502 444.5L503 444.5L504 444.5L505 444.5L506 444.5L507 444.5L508 444.5L509 444.5L510 444.5L511 444.5L512 444.5L513 444.5L514 444.5L515 444.5L516 444.5L517 444.5L518 444.5L519 444.5L520 444.5L521 444.5L522 444.5L523 444.5L524 444.5L525 444.5L526 444.5L527 444.5L528 444.5L529 444.5L530 444.5L531 444.5L532 444.5L533 444.5L534 444.5L535 444.5L536 444.5L537 444.5L538 444.5L539 444.5L540 444.5L541 444.5L542 444.5L543 444.5L544 444.5L545 444.5L546 444.5L547 444.5L548 444.5L549 444.5L550 444.5L551 444.5L552 444.5L553 444.5L554 444.5L555 444.5L556 444.5L557 444.5L558 444.5L559 444.5L560 444.5L561 444.5L562 444.5L563 444.5L564 444.5L565 444.5L566 444.5L567 444.5L568 444.5L569 444.5L570 444.5L571 444.5L572 444.5L573 444.5L574 444.5L575 444.5L576 444.49L577 444.49L578 444.49L579 444.49L580 444.49L581 444.48L582 444.48L583 444.47L584 444.47L585 444.46L586 444.45L587 444.44L588 444.43L589 444.41L590 444.39L591 444.37L592 444.35L593 444.32L594 444.28L595 444.24L596 444.2L597 444.15L598 444.09L599 444.02L600 443.94L601 443.86L602 443.76L603 443.66L604 443.54L605 443.42L606 443.28L607 443.12L608 442.96L609 442.78L610 442.6L611 442.4L612 442.18L613 441.96L614 441.73L615 441.49L616 441.24L617 440.98L618 440.72L619 440.46L620 440.2L621 439.94L622 439.69L623 439.44L624 439.2L625 438.98L626 438.76L627 438.57L628 438.39L629 438.24L630 438.1L631 438L632 437.91L633 437.86L634 437.83L635 437.83L636 437.85L637 437.9L638 437.97L639 438.06L640 438.17L641 438.31L642 438.46L643 438.63L644 438.82L645 439.01L646 439.23L647 439.45L648 439.68L649 439.91L650 440.15L651 440.39L652 440.64L653 440.88L654 441.12L655 441.35L656 441.58L657 441.8L658 442.01L659 442.22L660 442.41L661 442.6L662 442.77L663 442.94L664 443.09L665 443.24L666 443.37L667 443.49L668 443.6L669 443.71L670 443.8L671 443.89L672 443.96L673 444.03L674 444.09L675 444.15L676 444.19L677 444.24L678 444.27L679 444.31L680 444.34L681 444.36L682 444.38L683 444.4L684 444.42L685 444.43L686 444.44L687 444.45L688 444.46L689 444.47L690 444.47L691 444.48L692 444.48L693 444.49L694 444.49L695 444.49L696 444.49L697 444.49L698 444.5L699 444.5L700 444.5L701 444.5L702 444.5L703 444.5L704 444.5L705 444.5L706 444.5L707 444.5L708 444.5L709 444.5L710 444.5L711 444.5L712 444.5L713 444.5L714 444.5L715 444.5L716 444.5L717 444.5L718 444.5L719 444.5L720 444.5L721 444.5L722 444.5L723 444.5L724 444.5L725 444.5L726 444.5L727 444.5L728 444.5L729 444.5L730 444.5L731 444.5L732 444.5L733 444.5L734 444.5L735 444.5L736 444.5L737 444.5L738 444.5L739 444.5L740 444.5L741 444.5L742 444.5L743 444.5L744 444.5L745 444.5L746 444.5L747 444.5L748 444.5L749 444.5L750 444.5L751 444.5L752 444.5L753 444.5L754 444.5L755 444.5L756 444.5L757 444.5L758 444.5L759 444.5L760 444.5L761 444.5L762 444.5L763 444.5L764 444.5L765 444.5L766 444.5L767 444.5L768 444.5L769 444.5L770 444.5L771 444.5L772 444.5L773 444.5L774 444.5L775 444.5L776 444.5L777 444.5L778 444.5L779 444.5L780 444.5L781 444.5L782 444.5L783 444.5L784 444.5L785 444.5L786 444.5L787 444.5L788 444.5L789 444.5L790 444.5L791 444.5L792 444.5L793 444.5L794 444.5L795 444.5L796 444.5L797 444.5L798 444.5L799 444.5L800 444.5L801 444.5L802 444.5L803 444.5L804 444.5L805 444.5L806 444.5L807 444.5L808 444.5L809 444.5L810 444.5L811 444.5L812 444.5L813 444.5L814 444.5L815 444.5L816 444.5L817 444.5L818 444.5L819 444.5L820 444.5L821 444.5L822 444.5L823 444.5L824 444.5L825 444.5L826 444.5L827 444.5L828 444.5L829 444.5L830 444.5L831 444.5L832 444.5L833 444.5L834 444.5L835 444.5L836 444.5L837 444.5L838 444.5L839 444.5L840 444.5L841 444.5L842 444.5L843 444.5L844 444.5L845 444.5L846 444.5L847 444.5L848 444.5L849 444.5L850 444.5L851 444.5L852 444.5L853 444.5L854 444.5L855 444.5L856 444.5L857 444.5L858 444.5L859 444.5L860 444.5L861 444.5L862 444.5L863 444.5L864 444.5L865 444.5L866 444.5L867 444.5L868 444.5L869 444.5L870 444.5L871 444.5L872 444.5L873 444.5L874 444.5L875 444.5L876 444.5L877 444.5L878 444.5L879 444.5L880 444.5L881 444.5L882 444.5L883 444.5L884 444.5L885 444.5L886 444.5L887 444.5L888 444.5L889 444.5L890 444.5L891 444.5L892 444.5L893 444.5L894 444.5L895 444.5L896 444.5L897 444.5L898 444.5L899 444.5L900 444.5L901 444.5L902 444.5L903 444.5L904 444.5L905 444.5L906 444.5L907 444.5L908 444.5L909 444.5L910 444.5L911 444.5L912 444.5L913 444.5L914 444.5L915 444.5L916 444.5L917 444.5L918 444.5L919 444.5L920 444.5L921 444.5L922 444.5L923 444.5L924 444.5L925 444.5L926 444.5L927 444.5L928 444.5L929 444.5L930 444.5L931 444.5L932 444.5" fill="none" stroke="#e8743b" stroke-width="1.2" clip-path="url(#cB)"/>
<path d="M499 443.72L500 443.71L501 443.71L502 443.7L503 443.69L504 443.69L505 443.68L506 443.68L507 443.67L508 443.66L509 443.66L510 443.65L511 443.64L512 443.64L513 443.63L514 443.62L515 443.61L516 443.61L517 443.6L518 443.59L519 443.59L520 443.58L521 443.57L522 443.56L523 443.55L524 443.55L525 443.54L526 443.53L527 443.52L528 443.51L529 443.51L530 443.5L531 443.49L532 443.48L533 443.47L534 443.46L535 443.45L536 443.44L537 443.43L538 443.42L539 443.41L540 443.41L541 443.4L542 443.39L543 443.38L544 443.36L545 443.35L546 443.34L547 443.33L548 443.32L549 443.31L550 443.3L551 443.29L552 443.28L553 443.27L554 443.25L555 443.24L556 443.23L557 443.22L558 443.2L559 443.19L560 443.18L561 443.17L562 443.15L563 443.14L564 443.13L565 443.11L566 443.1L567 443.08L568 443.07L569 443.05L570 443.04L571 443.02L572 443.01L573 442.99L574 442.98L575 442.96L576 442.95L577 442.93L578 442.91L579 442.89L580 442.88L581 442.86L582 442.84L583 442.82L584 442.8L585 442.79L586 442.77L587 442.75L588 442.73L589 442.71L590 442.69L591 442.66L592 442.64L593 442.62L594 442.6L595 442.58L596 442.55L597 442.53L598 442.51L599 442.48L600 442.46L601 442.43L602 442.41L603 442.38L604 442.36L605 442.33L606 442.3L607 442.27L608 442.25L609 442.22L610 442.19L611 442.16L612 442.13L613 442.09L614 442.06L615 442.03L616 442L617 441.96L618 441.93L619 441.89L620 441.86L621 441.82L622 441.78L623 441.75L624 441.71L625 441.67L626 441.63L627 441.58L628 441.54L629 441.5L630 441.45L631 441.41L632 441.36L633 441.31L634 441.27L635 441.22L636 441.17L637 441.11L638 441.06L639 441.01L640 440.95L641 440.9L642 440.84L643 440.78L644 440.72L645 440.65L646 440.59L647 440.52L648 440.46L649 440.39L650 440.32L651 440.24L652 440.17L653 440.09L654 440.01L655 439.93L656 439.85L657 439.76L658 439.67L659 439.58L660 439.49L661 439.39L662 439.29L663 439.19L664 439.08L665 438.97L666 438.86L667 438.74L668 438.61L669 438.48L670 438.35L671 438.21L672 438.07L673 437.92L674 437.76L675 437.59L676 437.42L677 437.24L678 437.05L679 436.85L680 436.64L681 436.42L682 436.19L683 435.94L684 435.68L685 435.4L686 435.11L687 434.8L688 434.47L689 434.12L690 433.74L691 433.35L692 432.93L693 432.48L694 432L695 431.49L696 430.95L697 430.37L698 429.76L699 429.11L700 428.41L701 427.67L702 426.88L703 426.04L704 425.15L705 424.2L706 423.2L707 422.13L708 421.01L709 419.81L710 418.55L711 417.22L712 415.81L713 414.33L714 412.77L715 411.14L716 409.42L717 407.61L718 405.73L719 403.76L720 401.7L721 399.55L722 397.32L723 395L724 392.6L725 390.11L726 387.53L727 384.88L728 382.14L729 379.33L730 376.45L731 373.49L732 370.47L733 367.4L734 364.27L735 361.09L736 357.88L737 354.64L738 351.37L739 348.1L740 344.82L741 341.56L742 338.32L743 335.12L744 331.98L745 328.9L746 325.91L747 323.02L748 320.25L749 317.62L750 315.15L751 312.85L752 310.75L753 308.86L754 307.19L755 305.77L756 304.6L757 303.7L758 303.08L759 302.74L760 302.68L761 302.87L762 303.29L763 303.94L764 304.81L765 305.91L766 307.21L767 308.71L768 310.39L769 312.26L770 314.28L771 316.46L772 318.76L773 321.2L774 323.74L775 326.37L776 329.09L777 331.87L778 334.72L779 337.6L780 340.53L781 343.47L782 346.43L783 349.4L784 352.36L785 355.31L786 358.24L787 361.15L788 364.02L789 366.86L790 369.66L791 372.4L792 375.1L793 377.75L794 380.33L795 382.85L796 385.31L797 387.71L798 390.04L799 392.3L800 394.49L801 396.61L802 398.66L803 400.63L804 402.54L805 404.37L806 406.14L807 407.83L808 409.46L809 411.02L810 412.51L811 413.93L812 415.3L813 416.59L814 417.83L815 419.01L816 420.14L817 421.2L818 422.22L819 423.18L820 424.09L821 424.95L822 425.77L823 426.55L824 427.28L825 427.98L826 428.63L827 429.25L828 429.84L829 430.39L830 430.92L831 431.41L832 431.88L833 432.32L834 432.73L835 433.13L836 433.5L837 433.85L838 434.18L839 434.49L840 434.79L841 435.07L842 435.34L843 435.6L844 435.84L845 436.07L846 436.28L847 436.49L848 436.69L849 436.88L850 437.06L851 437.23L852 437.39L853 437.55L854 437.7L855 437.85L856 437.99L857 438.12L858 438.25L859 438.38L860 438.5L861 438.61L862 438.72L863 438.83L864 438.94L865 439.04L866 439.14L867 439.23L868 439.32L869 439.41L870 439.5L871 439.59L872 439.67L873 439.75L874 439.83L875 439.9L876 439.98L877 440.05L878 440.12L879 440.19L880 440.26L881 440.32L882 440.39L883 440.45L884 440.51L885 440.57L886 440.63L887 440.69L888 440.74L889 440.8L890 440.85L891 440.9L892 440.95L893 441.01L894 441.05L895 441.1L896 441.15L897 441.2L898 441.24L899 441.29L900 441.33L901 441.37L902 441.41L903 441.45L904 441.49L905 441.53L906 441.57L907 441.61L908 441.65L909 441.68L910 441.72L911 441.75L912 441.79L913 441.82L914 441.86L915 441.89L916 441.92L917 441.95L918 441.98L919 442.01L920 442.04L921 442.07L922 442.1L923 442.13L924 442.16L925 442.18L926 442.21L927 442.24L928 442.26L929 442.29L930 442.31L931 442.34L932 442.36" fill="none" stroke="#339a40" stroke-width="1.2" clip-path="url(#cB)"/>
<path d="M499 443.8L500 443.79L501 443.78L502 443.77L503 443.76L504 443.75L505 443.73L506 443.71L507 443.69L508 443.67L509 443.65L510 443.62L511 443.6L512 443.57L513 443.54L514 443.51L515 443.48L516 443.44L517 443.41L518 443.37L519 443.33L520 443.3L521 443.25L522 443.21L523 443.17L524 443.13L525 443.08L526 443.03L527 442.99L528 442.94L529 442.89L530 442.84L531 442.79L532 442.73L533 442.68L534 442.63L535 442.57L536 442.52L537 442.46L538 442.4L539 442.34L540 442.28L541 442.22L542 442.16L543 442.1L544 442.04L545 441.98L546 441.92L547 441.85L548 441.79L549 441.73L550 441.66L551 441.6L552 441.53L553 441.47L554 441.4L555 441.33L556 441.27L557 441.2L558 441.13L559 441.07L560 441L561 440.93L562 440.86L563 440.78L564 440.7L565 440.61L566 440.53L567 440.43L568 440.34L569 440.24L570 440.14L571 440.03L572 439.93L573 439.82L574 439.71L575 439.59L576 439.47L577 439.36L578 439.24L579 439.12L580 438.99L581 438.87L582 438.74L583 438.62L584 438.49L585 438.36L586 438.23L587 438.1L588 437.97L589 437.84L590 437.71L591 437.58L592 437.45L593 437.32L594 437.2L595 437.07L596 436.94L597 436.82L598 436.69L599 436.57L600 436.45L601 436.33L602 436.21L603 436.09L604 435.98L605 435.87L606 435.76L607 435.65L608 435.55L609 435.45L610 435.35L611 435.25L612 435.15L613 435.05L614 434.95L615 434.86L616 434.76L617 434.66L618 434.56L619 434.46L620 434.36L621 434.25L622 434.15L623 434.04L624 433.93L625 433.81L626 433.69L627 433.57L628 433.45L629 433.32L630 433.18L631 433.04L632 432.89L633 432.74L634 432.58L635 432.41L636 432.22L637 432.01L638 431.78L639 431.54L640 431.29L641 431.03L642 430.76L643 430.48L644 430.2L645 429.92L646 429.64L647 429.36L648 429.08L649 428.81L650 428.55L651 428.3L652 428.06L653 427.83L654 427.61L655 427.4L656 427.19L657 426.99L658 426.79L659 426.6L660 426.4L661 426.21L662 426.02L663 425.82L664 425.63L665 425.44L666 425.24L667 425.04L668 424.84L669 424.64L670 424.43L671 424.21L672 423.99L673 423.76L674 423.54L675 423.31L676 423.08L677 422.84L678 422.6L679 422.36L680 422.12L681 421.87L682 421.61L683 421.36L684 421.1L685 420.83L686 420.56L687 420.29L688 420.02L689 419.74L690 419.46L691 419.18L692 418.9L693 418.61L694 418.31L695 418.01L696 417.7L697 417.37L698 417.04L699 416.7L700 416.34L701 415.97L702 415.58L703 415.17L704 414.72L705 414.26L706 413.76L707 413.26L708 412.73L709 412.2L710 411.65L711 411.1L712 410.55L713 410L714 409.46L715 408.93L716 408.4L717 407.86L718 407.3L719 406.71L720 406.09L721 405.42L722 404.7L723 403.91L724 403.01L725 402.01L726 400.93L727 399.79L728 398.6L729 397.39L730 396.17L731 394.95L732 393.77L733 392.61L734 391.45L735 390.29L736 389.09L737 387.83L738 386.49L739 385.06L740 383.48L741 381.75L742 379.88L743 377.9L744 375.83L745 373.68L746 371.49L747 369.28L748 366.99L749 364.6L750 362.13L751 359.59L752 357L753 354.38L754 351.75L755 349.13L756 346.51L757 343.88L758 341.21L759 338.48L760 335.66L761 332.74L762 329.69L763 326.49L764 323.16L765 319.7L766 316.15L767 312.5L768 308.78L769 305L770 301.17L771 297.32L772 293.44L773 289.4L774 285.22L775 280.95L776 276.62L777 272.28L778 267.98L779 263.76L780 259.67L781 255.76L782 252.04L783 248.46L784 245L785 241.63L786 238.31L787 235.03L788 231.74L789 228.42L790 225.04L791 221.58L792 218L793 214.23L794 210.27L795 206.21L796 202.1L797 198.04L798 194.09L799 190.34L800 186.86L801 183.66L802 180.63L803 177.74L804 174.96L805 172.27L806 169.62L807 167.01L808 164.39L809 161.75L810 159.05L811 156.3L812 153.55L813 150.8L814 148.06L815 145.32L816 142.58L817 139.84L818 137.1L819 134.36L820 131.62L821 128.88L822 126.14L823 123.4L824 120.66L825 117.92L826 115.18L827 112.44L828 109.69L829 106.95L830 104.2L831 101.43L832 98.6L833 95.72L834 92.81L835 89.91L836 87.05L837 84.24L838 81.52L839 78.91L840 76.44L841 74.12L842 71.86L843 69.67L844 67.54L845 65.47L846 63.47L847 61.53L848 59.66L849 57.86L850 56.14L851 54.47L852 52.84L853 51.24L854 49.66L855 48.13L856 46.64L857 45.19L858 43.8L859 42.47L860 41.19L861 39.99L862 38.86L863 37.8L864 36.79L865 35.76L866 34.75L867 33.77L868 32.84L869 31.99L870 31.23L871 30.59L872 30.08L873 29.73L874 29.48L875 29.25L876 29.03L877 28.83L878 28.66L879 28.51L880 28.38L881 28.29L882 28.23L883 28.2L884 28.23L885 28.35L886 28.54L887 28.8L888 29.12L889 29.49L890 29.9L891 30.34L892 30.79L893 31.26L894 31.76L895 32.37L896 33.08L897 33.88L898 34.76L899 35.72L900 36.73L901 37.78L902 38.86L903 39.97L904 41.1L905 42.33L906 43.65L907 45.05L908 46.51L909 48.04L910 49.63L911 51.26L912 52.92L913 54.62L914 56.34L915 58.14L916 60.01L917 61.95L918 63.94L919 65.99L920 68.09L921 70.23L922 72.41L923 74.61L924 76.85L925 79.14L926 81.49L927 83.89L928 86.35L929 88.86L930 91.41L931 94.01L932 96.66" fill="none" stroke="#a0a0a0" stroke-width="1.2" stroke-dasharray="6.5 7" clip-path="url(#cB)"/>
<path d="M499 441.8L500 441.67L501 441.55L502 441.48L503 441.42L504 441.37L505 441.33L506 441.29L507 441.25L508 441.22L509 441.19L510 441.16L511 441.13L512 441.1L513 441.08L514 441.06L515 441.04L516 441.01L517 440.99L518 440.97L519 440.94L520 440.92L521 440.89L522 440.86L523 440.83L524 440.8L525 440.76L526 440.73L527 440.69L528 440.66L529 440.62L530 440.58L531 440.54L532 440.51L533 440.47L534 440.43L535 440.39L536 440.35L537 440.31L538 440.27L539 440.23L540 440.19L541 440.15L542 440.11L543 440.06L544 440.02L545 439.98L546 439.94L547 439.89L548 439.85L549 439.81L550 439.76L551 439.72L552 439.67L553 439.63L554 439.59L555 439.55L556 439.5L557 439.46L558 439.42L559 439.38L560 439.34L561 439.3L562 439.26L563 439.21L564 439.17L565 439.13L566 439.08L567 439.03L568 438.98L569 438.93L570 438.88L571 438.83L572 438.77L573 438.71L574 438.65L575 438.58L576 438.51L577 438.44L578 438.37L579 438.29L580 438.2L581 438.1L582 438L583 437.89L584 437.77L585 437.65L586 437.52L587 437.38L588 437.24L589 437.1L590 436.94L591 436.79L592 436.63L593 436.46L594 436.3L595 436.12L596 435.95L597 435.77L598 435.59L599 435.41L600 435.22L601 435.03L602 434.84L603 434.65L604 434.46L605 434.26L606 434.04L607 433.81L608 433.57L609 433.32L610 433.06L611 432.79L612 432.52L613 432.25L614 431.97L615 431.7L616 431.42L617 431.15L618 430.89L619 430.63L620 430.37L621 430.12L622 429.86L623 429.59L624 429.33L625 429.07L626 428.82L627 428.57L628 428.33L629 428.11L630 427.9L631 427.7L632 427.52L633 427.34L634 427.17L635 427.01L636 426.85L637 426.69L638 426.54L639 426.38L640 426.23L641 426.08L642 425.92L643 425.76L644 425.6L645 425.42L646 425.25L647 425.07L648 424.89L649 424.72L650 424.55L651 424.37L652 424.19L653 424.01L654 423.83L655 423.64L656 423.44L657 423.23L658 423.02L659 422.79L660 422.55L661 422.3L662 422.04L663 421.75L664 421.44L665 421.11L666 420.77L667 420.4L668 420.02L669 419.63L670 419.22L671 418.81L672 418.38L673 417.94L674 417.5L675 417.05L676 416.6L677 416.15L678 415.68L679 415.21L680 414.71L681 414.19L682 413.63L683 413.05L684 412.41L685 411.69L686 410.92L687 410.14L688 409.37L689 408.6L690 407.83L691 407.06L692 406.3L693 405.59L694 404.91L695 404.21L696 403.44L697 402.54L698 401.49L699 400.33L700 399.13L701 397.95L702 396.75L703 395.53L704 394.26L705 392.94L706 391.54L707 390.06L708 388.53L709 386.94L710 385.33L711 383.68L712 381.98L713 380.19L714 378.3L715 376.27L716 374.09L717 371.81L718 369.43L719 366.97L720 364.42L721 361.75L722 358.95L723 355.99L724 352.85L725 349.52L726 346.03L727 342.4L728 338.58L729 334.55L730 330.36L731 326.09L732 321.76L733 317.32L734 312.78L735 308.12L736 303.36L737 298.42L738 293.35L739 288.22L740 283.1L741 277.99L742 272.84L743 267.69L744 262.54L745 257.38L746 252.18L747 247L748 241.94L749 237.08L750 232.31L751 227.67L752 223.21L753 218.99L754 214.99L755 211.16L756 207.49L757 203.98L758 200.59L759 197.29L760 194.16L761 191.27L762 188.67L763 186.26L764 184.03L765 181.96L766 180.04L767 178.25L768 176.57L769 175.02L770 173.6L771 172.29L772 171.08L773 169.95L774 168.9L775 167.92L776 167.01L777 166.16L778 165.37L779 164.65L780 163.98L781 163.36L782 162.76L783 162.19L784 161.63L785 161.11L786 160.59L787 160.05L788 159.51L789 158.97L790 158.42L791 157.85L792 157.26L793 156.66L794 156.04L795 155.37L796 154.62L797 153.74L798 152.76L799 151.7L800 150.62L801 149.54L802 148.43L803 147.28L804 146.05L805 144.72L806 143.25L807 141.68L808 140.05L809 138.41L810 136.75L811 135.04L812 133.27L813 131.39L814 129.35L815 127.11L816 124.76L817 122.43L818 120.2L819 118.04L820 115.89L821 113.71L822 111.44L823 109.08L824 106.65L825 104.17L826 101.65L827 99.07L828 96.41L829 93.73L830 91.12L831 88.61L832 86.18L833 83.79L834 81.42L835 79.05L836 76.71L837 74.38L838 72.04L839 69.66L840 67.21L841 64.71L842 62.23L843 59.86L844 57.62L845 55.46L846 53.37L847 51.32L848 49.29L849 47.31L850 45.36L851 43.43L852 41.5L853 39.53L854 37.54L855 35.58L856 33.73L857 31.99L858 30.3L859 28.7L860 27.22L861 25.89L862 24.7L863 23.6L864 22.55L865 21.51L866 20.44L867 19.38L868 18.36L869 17.43L870 16.63L871 15.89L872 15.21L873 14.62L874 14.11L875 13.65L876 13.24L877 12.88L878 12.57L879 12.26L880 11.96L881 11.72L882 11.6L883 11.6L884 11.6L885 11.6L886 11.6L887 11.62L888 11.79L889 12.06L890 12.38L891 12.69L892 13.03L893 13.41L894 13.84L895 14.3L896 14.83L897 15.44L898 16.1L899 16.77L900 17.43L901 18.12L902 18.83L903 19.54L904 20.24L905 20.93L906 21.63L907 22.33L908 23.03L909 23.74L910 24.47L911 25.19L912 25.92L913 26.62L914 27.32L915 28.01L916 28.71L917 29.41L918 30.13L919 30.84L920 31.56L921 32.27L922 32.95L923 33.61L924 34.29L925 35.04L926 35.92L927 36.93L928 38L929 39.04L930 39.97L931 40.82L932 41.62" fill="none" stroke="#43a3d6" stroke-width="1.3" clip-path="url(#cB)"/>
<g fill="#000" clip-path="url(#cB)"><circle cx="502.2" cy="441.47" r="1.95"/><circle cx="506.52" cy="441.27" r="1.95"/><circle cx="510.85" cy="441.13" r="1.95"/><circle cx="515.17" cy="441.03" r="1.95"/><circle cx="519.49" cy="440.93" r="1.95"/><circle cx="523.81" cy="440.81" r="1.95"/><circle cx="528.14" cy="440.65" r="1.95"/><circle cx="532.46" cy="440.49" r="1.95"/><circle cx="536.78" cy="440.32" r="1.95"/><circle cx="541.11" cy="440.14" r="1.95"/><circle cx="545.43" cy="439.96" r="1.95"/><circle cx="549.75" cy="439.77" r="1.95"/><circle cx="554.08" cy="439.58" r="1.95"/><circle cx="558.4" cy="439.41" r="1.95"/><circle cx="562.72" cy="439.23" r="1.95"/><circle cx="567.04" cy="439.03" r="1.95"/><circle cx="571.37" cy="438.8" r="1.95"/><circle cx="575.69" cy="438.54" r="1.95"/><circle cx="580.01" cy="438.2" r="1.95"/><circle cx="584.34" cy="437.73" r="1.95"/><circle cx="588.66" cy="437.15" r="1.95"/><circle cx="592.98" cy="436.47" r="1.95"/><circle cx="597.31" cy="435.72" r="1.95"/><circle cx="601.63" cy="434.91" r="1.95"/><circle cx="605.95" cy="434.05" r="1.95"/><circle cx="610.27" cy="432.98" r="1.95"/><circle cx="614.6" cy="431.81" r="1.95"/><circle cx="618.92" cy="430.65" r="1.95"/><circle cx="623.24" cy="429.53" r="1.95"/><circle cx="627.57" cy="428.43" r="1.95"/><circle cx="631.89" cy="427.54" r="1.95"/><circle cx="636.21" cy="426.81" r="1.95"/><circle cx="640.54" cy="426.15" r="1.95"/><circle cx="644.86" cy="425.45" r="1.95"/><circle cx="649.18" cy="424.69" r="1.95"/><circle cx="653.5" cy="423.92" r="1.95"/><circle cx="657.83" cy="423.05" r="1.95"/><circle cx="662.15" cy="422" r="1.95"/><circle cx="666.47" cy="420.6" r="1.95"/><circle cx="670.8" cy="418.89" r="1.95"/><circle cx="675.12" cy="417" r="1.95"/><circle cx="679.44" cy="414.99" r="1.95"/><circle cx="683.77" cy="412.57" r="1.95"/><circle cx="688.09" cy="409.3" r="1.95"/><circle cx="692.41" cy="406" r="1.95"/><circle cx="696.73" cy="402.79" r="1.95"/><circle cx="701.06" cy="397.88" r="1.95"/><circle cx="705.38" cy="392.41" r="1.95"/><circle cx="709.7" cy="385.81" r="1.95"/><circle cx="714.03" cy="378.25" r="1.95"/><circle cx="718.35" cy="368.58" r="1.95"/><circle cx="722.67" cy="356.98" r="1.95"/><circle cx="727" cy="342.41" r="1.95"/><circle cx="731.32" cy="324.72" r="1.95"/><circle cx="735.64" cy="305.08" r="1.95"/><circle cx="739.96" cy="283.28" r="1.95"/><circle cx="744.29" cy="261.06" r="1.95"/><circle cx="748.61" cy="238.95" r="1.95"/><circle cx="752.93" cy="219.26" r="1.95"/><circle cx="757.26" cy="203.11" r="1.95"/><circle cx="761.58" cy="189.73" r="1.95"/><circle cx="765.9" cy="180.22" r="1.95"/><circle cx="770.23" cy="173.3" r="1.95"/><circle cx="774.55" cy="168.36" r="1.95"/><circle cx="778.87" cy="164.73" r="1.95"/><circle cx="783.19" cy="162.08" r="1.95"/><circle cx="787.52" cy="159.77" r="1.95"/><circle cx="791.84" cy="157.36" r="1.95"/><circle cx="796.16" cy="154.49" r="1.95"/><circle cx="800.49" cy="150.09" r="1.95"/><circle cx="804.81" cy="144.98" r="1.95"/><circle cx="809.13" cy="138.19" r="1.95"/><circle cx="813.46" cy="130.49" r="1.95"/><circle cx="817.78" cy="120.68" r="1.95"/><circle cx="822.1" cy="111.2" r="1.95"/><circle cx="826.42" cy="100.57" r="1.95"/><circle cx="830.75" cy="89.23" r="1.95"/><circle cx="835.07" cy="78.89" r="1.95"/><circle cx="839.39" cy="68.7" r="1.95"/><circle cx="843.72" cy="58.24" r="1.95"/><circle cx="848.04" cy="49.21" r="1.95"/><circle cx="852.36" cy="40.79" r="1.95"/><circle cx="856.69" cy="32.53" r="1.95"/><circle cx="861.01" cy="25.88" r="1.95"/><circle cx="865.33" cy="21.15" r="1.95"/><circle cx="869.65" cy="16.9" r="1.95"/><circle cx="873.98" cy="14.12" r="1.95"/><circle cx="878.3" cy="12.48" r="1.95"/><circle cx="882.62" cy="11.6" r="1.95"/><circle cx="886.95" cy="11.62" r="1.95"/><circle cx="891.27" cy="12.78" r="1.95"/><circle cx="895.59" cy="14.6" r="1.95"/><circle cx="899.92" cy="17.38" r="1.95"/><circle cx="904.24" cy="20.41" r="1.95"/><circle cx="908.56" cy="23.43" r="1.95"/><circle cx="912.88" cy="26.54" r="1.95"/><circle cx="917.21" cy="29.56" r="1.95"/><circle cx="921.53" cy="32.63" r="1.95"/><circle cx="925.85" cy="35.78" r="1.95"/><circle cx="930.18" cy="40.12" r="1.95"/></g>
<g stroke="#e8a070" stroke-width="1.2"><line x1="326.7" y1="878.5" x2="326.7" y2="875.5"/><line x1="329.9" y1="878.5" x2="329.9" y2="872.3"/><line x1="331.3" y1="878.5" x2="331.3" y2="872.3"/><line x1="332.4" y1="878.5" x2="332.4" y2="872.3"/><line x1="354.3" y1="878.5" x2="354.3" y2="875.2"/><line x1="360.2" y1="878.5" x2="360.2" y2="875.2"/><line x1="213.5" y1="878.5" x2="213.5" y2="873.8"/><line x1="215.6" y1="878.5" x2="215.6" y2="873.8"/><line x1="293.8" y1="878.5" x2="293.8" y2="874.5"/></g>
<g stroke="#7fbf6f" stroke-width="1.8"><line x1="339.9" y1="878.5" x2="339.9" y2="853.1"/></g>
<g stroke="#1f8c1f" stroke-width="1.5"><line x1="343.6" y1="878.5" x2="343.6" y2="843"/><line x1="348.6" y1="878.5" x2="348.6" y2="871"/><line x1="351.5" y1="878.5" x2="351.5" y2="871"/><line x1="367.9" y1="878.5" x2="367.9" y2="872.3"/><line x1="373.6" y1="878.5" x2="373.6" y2="871"/><line x1="378.6" y1="878.5" x2="378.6" y2="836.7"/></g>
<g stroke="#d8b060" stroke-width="1.6"><line x1="456.1" y1="878.5" x2="456.1" y2="869.9"/><line x1="462.6" y1="878.5" x2="462.6" y2="871.3"/><line x1="464.5" y1="878.5" x2="464.5" y2="862.8"/><line x1="465.9" y1="878.5" x2="465.9" y2="861"/><line x1="467.2" y1="878.5" x2="467.2" y2="859.2"/><line x1="468.4" y1="878.5" x2="468.4" y2="857.9"/><line x1="476.3" y1="878.5" x2="476.3" y2="868.2"/><line x1="479.9" y1="878.5" x2="479.9" y2="862.4"/><line x1="482.6" y1="878.5" x2="482.6" y2="860.1"/></g>
<g stroke="#8a8a8a" stroke-width="1.1"><line x1="449" y1="878.5" x2="449" y2="874"/><line x1="460.5" y1="878.5" x2="460.5" y2="841"/><line x1="470.1" y1="878.5" x2="470.1" y2="829"/></g>
<g stroke="#5577dd" stroke-width="1.2"><line x1="437.4" y1="878.5" x2="437.4" y2="872.3"/><line x1="455.6" y1="878.5" x2="455.6" y2="864"/><line x1="459.8" y1="878.5" x2="459.8" y2="875.3"/></g>
<path d="M66 878.5L67 878.5L68 878.5L69 878.5L70 878.5L71 878.5L72 878.5L73 878.5L74 878.5L75 878.5L76 878.5L77 878.5L78 878.5L79 878.5L80 878.5L81 878.5L82 878.5L83 878.5L84 878.5L85 878.5L86 878.5L87 878.5L88 878.5L89 878.5L90 878.5L91 878.5L92 878.5L93 878.5L94 878.5L95 878.5L96 878.5L97 878.5L98 878.5L99 878.5L100 878.5L101 878.5L102 878.5L103 878.5L104 878.5L105 878.5L106 878.5L107 878.5L108 878.5L109 878.5L110 878.5L111 878.5L112 878.5L113 878.5L114 878.5L115 878.5L116 878.5L117 878.5L118 878.5L119 878.5L120 878.5L121 878.5L122 878.5L123 878.5L124 878.5L125 878.5L126 878.5L127 878.5L128 878.5L129 878.5L130 878.5L131 878.5L132 878.5L133 878.5L134 878.5L135 878.5L136 878.5L137 878.5L138 878.5L139 878.5L140 878.5L141 878.5L142 878.5L143 878.5L144 878.5L145 878.5L146 878.5L147 878.5L148 878.5L149 878.5L150 878.5L151 878.5L152 878.5L153 878.5L154 878.5L155 878.5L156 878.5L157 878.5L158 878.5L159 878.5L160 878.5L161 878.5L162 878.5L163 878.5L164 878.5L165 878.5L166 878.5L167 878.5L168 878.5L169 878.5L170 878.5L171 878.5L172 878.5L173 878.5L174 878.5L175 878.5L176 878.5L177 878.49L178 878.49L179 878.49L180 878.48L181 878.47L182 878.46L183 878.45L184 878.42L185 878.39L186 878.35L187 878.3L188 878.23L189 878.15L190 878.03L191 877.89L192 877.72L193 877.51L194 877.25L195 876.94L196 876.58L197 876.16L198 875.68L199 875.13L200 874.52L201 873.85L202 873.13L203 872.36L204 871.56L205 870.74L206 869.91L207 869.1L208 868.32L209 867.59L210 866.94L211 866.37L212 865.92L213 865.59L214 865.39L215 865.33L216 865.45L217 865.75L218 866.23L219 866.87L220 867.63L221 868.49L222 869.41L223 870.37L224 871.33L225 872.27L226 873.15L227 873.98L228 874.72L229 875.38L230 875.95L231 876.43L232 876.84L233 877.16L234 877.42L235 877.62L236 877.77L237 877.88L238 877.95L239 878L240 878.02L241 878.03L242 878.02L243 878L244 877.97L245 877.94L246 877.9L247 877.85L248 877.81L249 877.75L250 877.69L251 877.63L252 877.57L253 877.5L254 877.42L255 877.34L256 877.26L257 877.16L258 877.04L259 876.9L260 876.72L261 876.48L262 876.18L263 875.81L264 875.36L265 874.84L266 874.29L267 873.74L268 873.25L269 872.87L270 872.64L271 872.99L272 874.03L273 874.83L274 875.08L275 875.04L276 874.91L277 874.77L278 874.62L279 874.46L280 874.31L281 874.16L282 874L283 873.85L284 873.69L285 873.53L286 873.37L287 873.22L288 873.06L289 872.9L290 872.74L291 872.58L292 872.42L293 872.26L294 872.11L295 871.95L296 871.79L297 871.63L298 871.47L299 871.31L300 871.15L301 870.99L302 870.84L303 871.28L304 872.35L305 873.52L306 874.4L307 874.85L308 874.96L309 874.86L310 874.67L311 874.44L312 874.19L313 873.93L314 873.66L315 873.38L316 873.09L317 872.8L318 872.49L319 872.18L320 871.87L321 871.55L322 871.22L323 870.89L324 870.56L325 870.22L326 869.88L327 869.54L328 869.2L329 868.86L330 868.53L331 868.19L332 867.86L333 867.54L334 867.22L335 866.91L336 866.61L337 866.32L338 866.04L339 865.77L340 865.52L341 865.28L342 865.05L343 864.84L344 864.65L345 864.47L346 864.31L347 864.18L348 864.06L349 863.96L350 863.88L351 863.82L352 863.78L353 863.77L354 863.8L355 863.95L356 864.2L357 864.55L358 865L359 865.54L360 866.15L361 866.82L362 867.53L363 868.29L364 869.06L365 869.84L366 870.62L367 871.38L368 872.12L369 872.83L370 873.49L371 874.11L372 874.69L373 875.21L374 875.68L375 876.11L376 876.48L377 876.81L378 877.1L379 877.35L380 877.56L381 877.73L382 877.88L383 878.01L384 878.11L385 878.19L386 878.26L387 878.31L388 878.36L389 878.39L390 878.42L391 878.44L392 878.45L393 878.47L394 878.47L395 878.48L396 878.49L397 878.49L398 878.49L399 878.5L400 878.5L401 878.5L402 878.5L403 878.5L404 878.5L405 878.5L406 878.5L407 878.5L408 878.5L409 878.5L410 878.5L411 878.5L412 878.5L413 878.5L414 878.5L415 878.5L416 878.5L417 878.5L418 878.5L419 878.5L420 878.5L421 878.5L422 878.5L423 878.5L424 878.5L425 878.5L426 878.5L427 878.5L428 878.5L429 878.5L430 878.5L431 878.5L432 878.5L433 878.5L434 878.5L435 878.5L436 878.5L437 878.5L438 878.5L439 878.5L440 878.5L441 878.5L442 878.5L443 878.5L444 878.5L445 878.5L446 878.5L447 878.5L448 878.5L449 878.5L450 878.5L451 878.5L452 878.5L453 878.5L454 878.5L455 878.5L456 878.5L457 878.5L458 878.5L459 878.5L460 878.5L461 878.5L462 878.5L463 878.5L464 878.5L465 878.5L466 878.5L467 878.5L468 878.5L469 878.5L470 878.5L471 878.5L472 878.5L473 878.5L474 878.5L475 878.5L476 878.5L477 878.5L478 878.5L479 878.5L480 878.5L481 878.5L482 878.5L483 878.5L484 878.5L485 878.5L486 878.5L487 878.5L488 878.5L489 878.5L490 878.5L491 878.5L492 878.5L493 878.5L494 878.5L495 878.5L496 878.5L497 878.5L498 878.5L499 878.5" fill="none" stroke="#e8804a" stroke-width="1.1" stroke-dasharray="4 3" clip-path="url(#cC)"/>
<path d="M66 878.5L67 878.5L68 878.5L69 878.5L70 878.5L71 878.5L72 878.5L73 878.5L74 878.5L75 878.5L76 878.5L77 878.5L78 878.5L79 878.5L80 878.5L81 878.5L82 878.5L83 878.5L84 878.5L85 878.5L86 878.5L87 878.5L88 878.5L89 878.5L90 878.5L91 878.5L92 878.5L93 878.5L94 878.5L95 878.5L96 878.5L97 878.5L98 878.5L99 878.5L100 878.5L101 878.5L102 878.5L103 878.5L104 878.5L105 878.5L106 878.5L107 878.5L108 878.5L109 878.5L110 878.5L111 878.5L112 878.5L113 878.5L114 878.5L115 878.5L116 878.5L117 878.5L118 878.5L119 878.5L120 878.5L121 878.5L122 878.5L123 878.5L124 878.5L125 878.5L126 878.5L127 878.5L128 878.5L129 878.5L130 878.5L131 878.5L132 878.5L133 878.5L134 878.5L135 878.5L136 878.5L137 878.5L138 878.5L139 878.5L140 878.5L141 878.5L142 878.5L143 878.5L144 878.5L145 878.5L146 878.5L147 878.5L148 878.5L149 878.5L150 878.5L151 878.5L152 878.5L153 878.5L154 878.5L155 878.5L156 878.5L157 878.5L158 878.5L159 878.5L160 878.5L161 878.5L162 878.5L163 878.5L164 878.5L165 878.5L166 878.5L167 878.5L168 878.5L169 878.5L170 878.5L171 878.5L172 878.5L173 878.5L174 878.5L175 878.5L176 878.5L177 878.5L178 878.5L179 878.5L180 878.5L181 878.5L182 878.5L183 878.5L184 878.5L185 878.5L186 878.5L187 878.5L188 878.5L189 878.5L190 878.5L191 878.5L192 878.5L193 878.5L194 878.5L195 878.5L196 878.5L197 878.5L198 878.5L199 878.5L200 878.5L201 878.5L202 878.5L203 878.5L204 878.5L205 878.5L206 878.5L207 878.5L208 878.5L209 878.5L210 878.5L211 878.5L212 878.5L213 878.5L214 878.5L215 878.5L216 878.5L217 878.5L218 878.5L219 878.5L220 878.5L221 878.49L222 878.49L223 878.49L224 878.49L225 878.49L226 878.49L227 878.49L228 878.49L229 878.49L230 878.49L231 878.49L232 878.49L233 878.49L234 878.49L235 878.49L236 878.49L237 878.49L238 878.49L239 878.49L240 878.49L241 878.49L242 878.49L243 878.49L244 878.49L245 878.49L246 878.49L247 878.49L248 878.49L249 878.49L250 878.49L251 878.49L252 878.49L253 878.49L254 878.49L255 878.49L256 878.49L257 878.49L258 878.49L259 878.49L260 878.49L261 878.49L262 878.49L263 878.49L264 878.49L265 878.49L266 878.49L267 878.49L268 878.49L269 878.49L270 878.49L271 878.49L272 878.49L273 878.49L274 878.49L275 878.49L276 878.49L277 878.49L278 878.49L279 878.49L280 878.49L281 878.49L282 878.49L283 878.49L284 878.49L285 878.49L286 878.49L287 878.49L288 878.49L289 878.49L290 878.49L291 878.49L292 878.49L293 878.49L294 878.49L295 878.49L296 878.49L297 878.49L298 878.49L299 878.49L300 878.49L301 878.49L302 878.49L303 878.49L304 878.49L305 878.49L306 878.49L307 878.49L308 878.49L309 878.49L310 878.49L311 878.49L312 878.49L313 878.48L314 878.48L315 878.48L316 878.48L317 878.48L318 878.48L319 878.48L320 878.48L321 878.48L322 878.48L323 878.48L324 878.48L325 878.48L326 878.48L327 878.48L328 878.48L329 878.48L330 878.48L331 878.48L332 878.48L333 878.48L334 878.48L335 878.48L336 878.48L337 878.48L338 878.48L339 878.48L340 878.48L341 878.48L342 878.47L343 878.47L344 878.47L345 878.47L346 878.47L347 878.47L348 878.47L349 878.47L350 878.47L351 878.47L352 878.47L353 878.47L354 878.47L355 878.47L356 878.47L357 878.46L358 878.46L359 878.46L360 878.46L361 878.46L362 878.46L363 878.46L364 878.46L365 878.46L366 878.46L367 878.45L368 878.45L369 878.45L370 878.45L371 878.45L372 878.45L373 878.45L374 878.44L375 878.44L376 878.44L377 878.44L378 878.44L379 878.43L380 878.43L381 878.43L382 878.43L383 878.43L384 878.42L385 878.42L386 878.42L387 878.41L388 878.41L389 878.41L390 878.4L391 878.4L392 878.39L393 878.38L394 878.37L395 878.37L396 878.35L397 878.34L398 878.32L399 878.3L400 878.28L401 878.25L402 878.21L403 878.17L404 878.12L405 878.05L406 877.97L407 877.88L408 877.76L409 877.63L410 877.47L411 877.29L412 877.07L413 876.82L414 876.54L415 876.22L416 875.85L417 875.45L418 875L419 874.51L420 873.98L421 873.4L422 872.79L423 872.14L424 871.47L425 870.77L426 870.06L427 869.34L428 868.63L429 867.93L430 867.25L431 866.61L432 866.02L433 865.49L434 865.03L435 864.64L436 864.34L437 864.13L438 864.01L439 863.95L440 863.94L441 863.96L442 864.03L443 864.14L444 864.27L445 864.44L446 864.63L447 864.83L448 865.06L449 865.29L450 865.53L451 865.78L452 866.03L453 866.28L454 866.53L455 866.78L456 867.02L457 867.27L458 867.51L459 867.75L460 867.99L461 868.23L462 868.47L463 868.72L464 868.98L465 869.24L466 869.52L467 869.8L468 870.17L469 870.68L470 871.31L471 872.04L472 872.81L473 873.6L474 874.37L475 875.08L476 875.72L477 876.27L478 876.74L479 877.12L480 877.42L481 877.65L482 877.82L483 877.96L484 878.05L485 878.13L486 878.18L487 878.22L488 878.25L489 878.28L490 878.3L491 878.32L492 878.33L493 878.34L494 878.35L495 878.36L496 878.37L497 878.38L498 878.38L499 878.39" fill="none" stroke="#3a5fd0" stroke-width="1.1" stroke-dasharray="4 3" clip-path="url(#cC)"/>
<path d="M66 878.5L67 878.5L68 878.5L69 878.5L70 878.5L71 878.5L72 878.5L73 878.5L74 878.5L75 878.5L76 878.5L77 878.5L78 878.5L79 878.5L80 878.5L81 878.5L82 878.5L83 878.5L84 878.5L85 878.5L86 878.5L87 878.5L88 878.5L89 878.5L90 878.5L91 878.5L92 878.5L93 878.5L94 878.5L95 878.5L96 878.5L97 878.5L98 878.5L99 878.5L100 878.5L101 878.5L102 878.5L103 878.5L104 878.5L105 878.5L106 878.5L107 878.5L108 878.5L109 878.5L110 878.5L111 878.5L112 878.5L113 878.5L114 878.5L115 878.5L116 878.5L117 878.5L118 878.5L119 878.5L120 878.5L121 878.5L122 878.5L123 878.5L124 878.5L125 878.5L126 878.5L127 878.5L128 878.5L129 878.5L130 878.5L131 878.5L132 878.5L133 878.5L134 878.5L135 878.5L136 878.5L137 878.5L138 878.5L139 878.5L140 878.5L141 878.5L142 878.5L143 878.5L144 878.5L145 878.5L146 878.5L147 878.5L148 878.5L149 878.5L150 878.5L151 878.5L152 878.5L153 878.5L154 878.5L155 878.5L156 878.5L157 878.5L158 878.5L159 878.5L160 878.5L161 878.5L162 878.5L163 878.5L164 878.5L165 878.5L166 878.5L167 878.5L168 878.5L169 878.5L170 878.5L171 878.5L172 878.5L173 878.5L174 878.5L175 878.5L176 878.5L177 878.5L178 878.5L179 878.5L180 878.5L181 878.5L182 878.5L183 878.5L184 878.5L185 878.5L186 878.5L187 878.5L188 878.5L189 878.5L190 878.5L191 878.5L192 878.5L193 878.5L194 878.5L195 878.5L196 878.5L197 878.5L198 878.5L199 878.5L200 878.5L201 878.5L202 878.5L203 878.5L204 878.5L205 878.5L206 878.5L207 878.5L208 878.5L209 878.5L210 878.5L211 878.5L212 878.5L213 878.5L214 878.5L215 878.5L216 878.5L217 878.5L218 878.5L219 878.5L220 878.5L221 878.5L222 878.5L223 878.5L224 878.5L225 878.5L226 878.5L227 878.5L228 878.5L229 878.5L230 878.5L231 878.5L232 878.5L233 878.5L234 878.5L235 878.5L236 878.5L237 878.5L238 878.5L239 878.5L240 878.5L241 878.5L242 878.5L243 878.5L244 878.5L245 878.5L246 878.5L247 878.5L248 878.5L249 878.5L250 878.5L251 878.5L252 878.5L253 878.5L254 878.5L255 878.5L256 878.5L257 878.5L258 878.5L259 878.5L260 878.5L261 878.5L262 878.5L263 878.5L264 878.5L265 878.5L266 878.5L267 878.5L268 878.5L269 878.5L270 878.5L271 878.5L272 878.5L273 878.5L274 878.5L275 878.5L276 878.5L277 878.5L278 878.5L279 878.5L280 878.5L281 878.5L282 878.5L283 878.5L284 878.5L285 878.5L286 878.5L287 878.5L288 878.5L289 878.5L290 878.5L291 878.5L292 878.5L293 878.5L294 878.5L295 878.5L296 878.5L297 878.5L298 878.5L299 878.5L300 878.5L301 878.5L302 878.5L303 878.5L304 878.5L305 878.5L306 878.5L307 878.5L308 878.5L309 878.5L310 878.5L311 878.5L312 878.5L313 878.5L314 878.5L315 878.5L316 878.5L317 878.5L318 878.5L319 878.5L320 878.5L321 878.5L322 878.5L323 878.5L324 878.5L325 878.5L326 878.5L327 878.5L328 878.5L329 878.5L330 878.5L331 878.5L332 878.5L333 878.5L334 878.5L335 878.5L336 878.5L337 878.5L338 878.5L339 878.5L340 878.5L341 878.5L342 878.5L343 878.5L344 878.5L345 878.5L346 878.5L347 878.5L348 878.5L349 878.5L350 878.5L351 878.5L352 878.5L353 878.5L354 878.5L355 878.5L356 878.5L357 878.5L358 878.5L359 878.5L360 878.5L361 878.5L362 878.5L363 878.5L364 878.5L365 878.5L366 878.5L367 878.5L368 878.5L369 878.5L370 878.5L371 878.5L372 878.5L373 878.5L374 878.5L375 878.5L376 878.5L377 878.5L378 878.5L379 878.5L380 878.5L381 878.5L382 878.5L383 878.5L384 878.5L385 878.5L386 878.5L387 878.5L388 878.5L389 878.5L390 878.5L391 878.5L392 878.5L393 878.5L394 878.5L395 878.5L396 878.5L397 878.5L398 878.5L399 878.5L400 878.5L401 878.5L402 878.5L403 878.5L404 878.5L405 878.5L406 878.5L407 878.5L408 878.5L409 878.5L410 878.5L411 878.5L412 878.5L413 878.49L414 878.49L415 878.49L416 878.49L417 878.48L418 878.47L419 878.47L420 878.46L421 878.44L422 878.42L423 878.4L424 878.37L425 878.33L426 878.28L427 878.22L428 878.15L429 878.06L430 877.94L431 877.8L432 877.63L433 877.43L434 877.18L435 876.88L436 876.53L437 876.11L438 875.62L439 875.05L440 874.38L441 873.61L442 872.73L443 871.72L444 870.58L445 869.3L446 867.86L447 866.26L448 864.5L449 862.57L450 860.47L451 858.19L452 855.75L453 853.15L454 850.4L455 847.51L456 844.51L457 841.41L458 838.23L459 835.02L460 831.8L461 828.6L462 825.46L463 822.42L464 819.52L465 816.79L466 814.27L467 812L468 810.01L469 808.33L470 806.99L471 806L472 805.39L473 805.15L474 805.36L475 806.09L476 807.34L477 809.07L478 811.25L479 813.82L480 816.76L481 819.98L482 823.44L483 827.06L484 830.8L485 834.58L486 838.36L487 842.08L488 845.69L489 849.15L490 852.45L491 855.53L492 858.4L493 861.04L494 863.44L495 865.61L496 867.54L497 869.25L498 870.75L499 872.06" fill="none" stroke="#d8a840" stroke-width="1.1" stroke-dasharray="4 3" clip-path="url(#cC)"/>
<path d="M66 878.5L67 884.96L68 891.35L69 897.66L70 903.91L71 910.08L72 916.19L73 922.22L74 928.18L75 934.08L76 939.9L77 945.66L78 951.34L79 956.96L80 962.51L81 967.99L82 973.4L83 978.75L84 984.03L85 989.24L86 994.38L87 999.46L88 1004.48L89 1009.43L90 1014.31L91 1019.13L92 1023.88L93 1028.57L94 1033.19L95 1037.75L96 1042.25L97 1046.69L98 1051.06L99 1055.37L100 1059.61L101 1063.8L102 1067.92L103 1071.98L104 1075.98L105 1079.92L106 1083.8L107 1087.62L108 1091.38L109 1095.08L110 1098.72L111 1102.3L112 1105.83L113 1109.29L114 1112.7L115 1116.05L116 1119.34L117 1122.57L118 1125.75L119 1128.87L120 1131.93L121 1134.94L122 1137.9L123 1140.79L124 1143.64L125 1146.42L126 1149.16L127 1151.84L128 1154.46L129 1157.03L130 1159.55L131 1162.02L132 1164.43L133 1166.79L134 1169.1L135 1171.36L136 1173.56L137 1175.72L138 1177.82L139 1179.88L140 1181.88L141 1183.83L142 1185.74L143 1187.59L144 1189.39L145 1191.15L146 1192.86L147 1194.52L148 1196.13L149 1197.69L150 1199.21L151 1200.68L152 1202.1L153 1203.48L154 1204.81L155 1206.1L156 1207.34L157 1208.53L158 1209.68L159 1210.79L160 1211.85L161 1212.87L162 1213.84L163 1214.77L164 1215.66L165 1216.51L166 1217.31L167 1218.07L168 1218.79L169 1219.46L170 1220.1L171 1220.69L172 1221.25L173 1221.76L174 1222.24L175 1222.67L176 1223.07L177 1223.42L178 1223.74L179 1224.02L180 1224.26L181 1224.46L182 1224.62L183 1224.75L184 1224.84L185 1224.89L186 1224.91L187 1224.89L188 1224.84L189 1224.75L190 1224.62L191 1224.46L192 1224.27L193 1224.04L194 1223.78L195 1223.48L196 1223.15L197 1222.79L198 1222.39L199 1221.96L200 1221.5L201 1221.01L202 1220.48L203 1219.93L204 1219.34L205 1218.72L206 1218.08L207 1217.4L208 1216.69L209 1215.95L210 1215.19L211 1214.39L212 1213.57L213 1212.72L214 1211.84L215 1210.93L216 1210L217 1209.03L218 1208.05L219 1207.03L220 1205.99L221 1204.92L222 1203.83L223 1202.71L224 1201.57L225 1200.4L226 1199.21L227 1197.99L228 1196.75L229 1195.49L230 1194.2L231 1192.89L232 1191.56L233 1190.2L234 1188.83L235 1187.43L236 1186.01L237 1184.57L238 1183.11L239 1181.63L240 1180.13L241 1178.6L242 1177.06L243 1175.5L244 1173.92L245 1172.32L246 1170.71L247 1169.07L248 1167.42L249 1165.75L250 1164.06L251 1162.36L252 1160.64L253 1158.9L254 1157.15L255 1155.38L256 1153.6L257 1151.8L258 1149.99L259 1148.16L260 1146.32L261 1144.46L262 1142.59L263 1140.71L264 1138.81L265 1136.91L266 1134.98L267 1133.05L268 1131.11L269 1129.15L270 1127.18L271 1125.21L272 1123.22L273 1121.22L274 1119.21L275 1117.19L276 1115.17L277 1113.13L278 1111.08L279 1109.03L280 1106.97L281 1104.9L282 1102.82L283 1100.74L284 1098.65L285 1096.55L286 1094.44L287 1092.33L288 1090.22L289 1088.1L290 1085.97L291 1083.84L292 1081.7L293 1079.56L294 1077.42L295 1075.27L296 1073.12L297 1070.96L298 1068.81L299 1066.65L300 1064.49L301 1062.32L302 1060.16L303 1057.99L304 1055.82L305 1053.66L306 1051.49L307 1049.32L308 1047.15L309 1044.99L310 1042.82L311 1040.65L312 1038.49L313 1036.33L314 1034.17L315 1032.01L316 1029.86L317 1027.71L318 1025.56L319 1023.41L320 1021.27L321 1019.14L322 1017L323 1014.88L324 1012.75L325 1010.64L326 1008.53L327 1006.42L328 1004.32L329 1002.23L330 1000.14L331 998.07L332 996L333 993.93L334 991.88L335 989.83L336 987.79L337 985.77L338 983.75L339 981.74L340 979.74L341 977.75L342 975.77L343 973.8L344 971.84L345 969.9L346 967.96L347 966.04L348 964.13L349 962.23L350 960.35L351 958.48L352 956.62L353 954.78L354 952.95L355 951.13L356 949.33L357 947.54L358 945.77L359 944.02L360 942.28L361 940.56L362 938.85L363 937.16L364 935.49L365 933.84L366 932.2L367 930.58L368 928.98L369 927.4L370 925.84L371 924.29L372 922.77L373 921.26L374 919.78L375 918.31L376 916.87L377 915.45L378 914.05L379 912.67L380 911.31L381 909.98L382 908.66L383 907.38L384 906.11L385 904.87L386 903.65L387 902.45L388 901.28L389 900.13L390 899.01L391 897.92L392 896.85L393 895.8L394 894.78L395 893.79L396 892.82L397 891.89L398 890.97L399 890.09L400 889.24L401 888.41L402 887.61L403 886.84L404 886.1L405 885.39L406 884.71L407 884.06L408 883.43L409 882.84L410 882.28L411 881.76L412 881.26L413 880.79L414 880.36L415 879.96L416 879.59L417 879.26L418 878.96L419 878.69L420 878.46L421 878.26L422 878.09L423 877.96L424 877.87L425 877.81L426 877.78L427 877.74L428 877.65L429 877.46L430 877.13L431 876.61L432 875.87L433 874.85L434 873.51L435 871.82L436 869.71L437 867.16L438 864.16L439 860.69L440 856.75L441 852.35L442 847.46L443 842.09L444 836.22L445 829.88L446 823.2L447 816.34L448 809.46L449 802.74L450 796.32L451 789.9L452 782.85L453 774.58L454 765.15L455 754.99L456 744.51L457 733.96L458 723.56L459 713.51L460 704.04L461 695.33L462 687.59L463 680.91L464 675.4L465 671.16L466 668.29L467 666.89L468 667.06L469 668.9L470 672.52L471 678.02L472 685.45L473 694.39L474 704.33L475 714.86L476 726.1L477 738.33L478 751.54L479 765.15L480 778.51L481 790.99L482 802.34L483 812.55L484 821.64L485 829.69L486 836.76L487 842.95L488 848.32L489 852.95L490 856.91L491 860.3L492 863.17L493 865.61L494 867.7L495 869.51L496 871.11L497 872.51L498 873.74L499 874.8" fill="none" stroke="#707070" stroke-width="1.1" stroke-dasharray="4 3" clip-path="url(#cC)"/>
<path d="M66 878.5L67 878.5L68 878.5L69 878.5L70 878.5L71 878.5L72 878.5L73 878.5L74 878.5L75 878.5L76 878.5L77 878.5L78 878.5L79 878.5L80 878.5L81 878.5L82 878.5L83 878.5L84 878.5L85 878.5L86 878.5L87 878.5L88 878.5L89 878.5L90 878.5L91 878.5L92 878.5L93 878.5L94 878.5L95 878.5L96 878.5L97 878.5L98 878.5L99 878.5L100 878.5L101 878.5L102 878.5L103 878.5L104 878.5L105 878.5L106 878.5L107 878.5L108 878.5L109 878.5L110 878.5L111 878.5L112 878.5L113 878.5L114 878.5L115 878.5L116 878.5L117 878.5L118 878.5L119 878.5L120 878.5L121 878.5L122 878.5L123 878.5L124 878.5L125 878.5L126 878.5L127 878.5L128 878.5L129 878.5L130 878.5L131 878.5L132 878.5L133 878.5L134 878.5L135 878.5L136 878.5L137 878.5L138 878.5L139 878.5L140 878.5L141 878.5L142 878.5L143 878.5L144 878.5L145 878.5L146 878.5L147 878.5L148 878.5L149 878.5L150 878.5L151 878.5L152 878.5L153 878.5L154 878.5L155 878.5L156 878.5L157 878.5L158 878.5L159 878.5L160 878.5L161 878.5L162 878.5L163 878.5L164 878.5L165 878.5L166 878.5L167 878.5L168 878.5L169 878.5L170 878.5L171 878.5L172 878.5L173 878.5L174 878.5L175 878.5L176 878.5L177 878.5L178 878.5L179 878.5L180 878.5L181 878.5L182 878.5L183 878.5L184 878.5L185 878.5L186 878.5L187 878.5L188 878.5L189 878.5L190 878.5L191 878.5L192 878.5L193 878.5L194 878.5L195 878.5L196 878.5L197 878.5L198 878.5L199 878.5L200 878.5L201 878.5L202 878.5L203 878.5L204 878.5L205 878.5L206 878.5L207 878.5L208 878.5L209 878.5L210 878.5L211 878.5L212 878.5L213 878.5L214 878.5L215 878.5L216 878.5L217 878.5L218 878.5L219 878.5L220 878.5L221 878.5L222 878.5L223 878.5L224 878.5L225 878.5L226 878.5L227 878.5L228 878.5L229 878.5L230 878.5L231 878.5L232 878.5L233 878.5L234 878.5L235 878.5L236 878.5L237 878.5L238 878.5L239 878.5L240 878.5L241 878.5L242 878.5L243 878.5L244 878.5L245 878.5L246 878.5L247 878.5L248 878.5L249 878.5L250 878.5L251 878.5L252 878.5L253 878.5L254 878.5L255 878.5L256 878.5L257 878.5L258 878.5L259 878.5L260 878.5L261 878.5L262 878.5L263 878.5L264 878.5L265 878.5L266 878.5L267 878.5L268 878.5L269 878.5L270 878.5L271 878.5L272 878.5L273 878.5L274 878.5L275 878.5L276 878.5L277 878.5L278 878.5L279 878.5L280 878.5L281 878.5L282 878.5L283 878.5L284 878.5L285 878.5L286 878.5L287 878.5L288 878.5L289 878.5L290 878.5L291 878.5L292 878.5L293 878.5L294 878.5L295 878.5L296 878.5L297 878.49L298 878.49L299 878.48L300 878.48L301 878.47L302 878.45L303 878.43L304 878.4L305 878.36L306 878.3L307 878.23L308 878.13L309 878L310 877.83L311 877.61L312 877.32L313 876.96L314 876.5L315 875.94L316 875.24L317 874.38L318 873.35L319 872.12L320 870.66L321 868.95L322 866.98L323 864.72L324 862.16L325 859.3L326 856.14L327 852.69L328 848.98L329 845.03L330 840.88L331 836.6L332 832.25L333 827.89L334 823.61L335 819.51L336 815.65L337 812.14L338 809.05L339 806.46L340 804.43L341 803.01L342 802.25L343 802.14L344 802.66L345 803.79L346 805.48L347 807.69L348 810.35L349 813.38L350 816.68L351 820.18L352 823.76L353 827.32L354 830.76L355 833.99L356 836.9L357 839.43L358 841.49L359 843.03L360 844L361 844.38L362 844.13L363 843.28L364 841.84L365 839.86L366 837.38L367 834.5L368 831.29L369 827.87L370 824.34L371 820.83L372 817.45L373 814.34L374 811.6L375 809.33L376 807.63L377 806.57L378 806.18L379 806.46L380 807.32L381 808.76L382 810.72L383 813.19L384 816.09L385 819.36L386 822.93L387 826.73L388 830.67L389 834.69L390 838.71L391 842.67L392 846.51L393 850.17L394 853.63L395 856.86L396 859.82L397 862.52L398 864.94L399 867.09L400 868.99L401 870.63L402 872.05L403 873.25L404 874.27L405 875.12L406 875.82L407 876.39L408 876.86L409 877.23L410 877.53L411 877.76L412 877.94L413 878.09L414 878.19L415 878.27L416 878.34L417 878.38L418 878.42L419 878.44L420 878.46L421 878.47L422 878.48L423 878.49L424 878.49L425 878.49L426 878.5L427 878.5L428 878.5L429 878.5L430 878.5L431 878.5L432 878.5L433 878.5L434 878.5L435 878.5L436 878.5L437 878.5L438 878.5L439 878.5L440 878.5L441 878.5L442 878.5L443 878.5L444 878.5L445 878.5L446 878.5L447 878.5L448 878.5L449 878.5L450 878.5L451 878.5L452 878.5L453 878.5L454 878.5L455 878.5L456 878.5L457 878.5L458 878.5L459 878.5L460 878.5L461 878.5L462 878.5L463 878.5L464 878.5L465 878.5L466 878.5L467 878.5L468 878.5L469 878.5L470 878.5L471 878.5L472 878.5L473 878.5L474 878.5L475 878.5L476 878.5L477 878.5L478 878.5L479 878.5L480 878.5L481 878.5L482 878.5L483 878.5L484 878.5L485 878.5L486 878.5L487 878.5L488 878.5L489 878.5L490 878.5L491 878.5L492 878.5L493 878.5L494 878.5L495 878.5L496 878.5L497 878.5L498 878.5L499 878.5" fill="none" stroke="#3aa04a" stroke-width="1.1" stroke-dasharray="4 3" clip-path="url(#cC)"/>
<path d="M66 878.43L66.5 878.43L67 878.43L67.5 878.43L68 878.43L68.5 878.44L69 878.44L69.5 878.44L70 878.44L70.5 878.44L71 878.44L71.5 878.44L72 878.44L72.5 878.44L73 878.44L73.5 878.44L74 878.44L74.5 878.44L75 878.44L75.5 878.44L76 878.44L76.5 878.44L77 878.44L77.5 878.44L78 878.44L78.5 878.44L79 878.44L79.5 878.44L80 878.44L80.5 878.44L81 878.44L81.5 878.44L82 878.44L82.5 878.44L83 878.43L83.5 878.43L84 878.43L84.5 878.43L85 878.43L85.5 878.43L86 878.43L86.5 878.43L87 878.43L87.5 878.43L88 878.43L88.5 878.43L89 878.43L89.5 878.43L90 878.42L90.5 878.42L91 878.42L91.5 878.42L92 878.42L92.5 878.42L93 878.42L93.5 878.42L94 878.42L94.5 878.42L95 878.41L95.5 878.41L96 878.41L96.5 878.41L97 878.41L97.5 878.41L98 878.41L98.5 878.41L99 878.41L99.5 878.4L100 878.4L100.5 878.4L101 878.4L101.5 878.4L102 878.4L102.5 878.4L103 878.4L103.5 878.4L104 878.39L104.5 878.39L105 878.39L105.5 878.39L106 878.39L106.5 878.39L107 878.39L107.5 878.39L108 878.38L108.5 878.38L109 878.38L109.5 878.38L110 878.38L110.5 878.38L111 878.38L111.5 878.38L112 878.37L112.5 878.37L113 878.37L113.5 878.37L114 878.37L114.5 878.37L115 878.37L115.5 878.37L116 878.37L116.5 878.36L117 878.36L117.5 878.36L118 878.36L118.5 878.36L119 878.36L119.5 878.36L120 878.36L120.5 878.36L121 878.35L121.5 878.35L122 878.35L122.5 878.35L123 878.35L123.5 878.35L124 878.35L124.5 878.35L125 878.35L125.5 878.35L126 878.35L126.5 878.35L127 878.35L127.5 878.34L128 878.34L128.5 878.34L129 878.34L129.5 878.34L130 878.34L130.5 878.34L131 878.34L131.5 878.34L132 878.34L132.5 878.34L133 878.34L133.5 878.34L134 878.34L134.5 878.34L135 878.34L135.5 878.34L136 878.34L136.5 878.34L137 878.34L137.5 878.34L138 878.34L138.5 878.34L139 878.34L139.5 878.34L140 878.34L140.5 878.34L141 878.34L141.5 878.34L142 878.34L142.5 878.34L143 878.34L143.5 878.34L144 878.34L144.5 878.34L145 878.34L145.5 878.35L146 878.35L146.5 878.35L147 878.35L147.5 878.35L148 878.35L148.5 878.35L149 878.35L149.5 878.35L150 878.35L150.5 878.36L151 878.36L151.5 878.36L152 878.36L152.5 878.36L153 878.36L153.5 878.37L154 878.37L154.5 878.37L155 878.37L155.5 878.37L156 878.37L156.5 878.38L157 878.38L157.5 878.38L158 878.38L158.5 878.39L159 878.39L159.5 878.39L160 878.39L160.5 878.4L161 878.4L161.5 878.4L162 878.4L162.5 878.41L163 878.41L163.5 878.41L164 878.42L164.5 878.42L165 878.42L165.5 878.43L166 878.43L166.5 878.43L167 878.44L167.5 878.44L168 878.44L168.5 878.44L169 878.45L169.5 878.45L170 878.45L170.5 878.45L171 878.45L171.5 878.45L172 878.45L172.5 878.45L173 878.44L173.5 878.44L174 878.43L174.5 878.43L175 878.42L175.5 878.41L176 878.4L176.5 878.39L177 878.38L177.5 878.37L178 878.35L178.5 878.34L179 878.32L179.5 878.3L180 878.28L180.5 878.25L181 878.23L181.5 878.2L182 878.17L182.5 878.14L183 878.11L183.5 878.07L184 878.04L184.5 878L185 877.95L185.5 877.91L186 877.86L186.5 877.81L187 877.76L187.5 877.7L188 877.65L188.5 877.59L189 877.52L189.5 877.46L190 877.39L190.5 877.32L191 877.24L191.5 877.16L192 877.07L192.5 876.98L193 876.87L193.5 876.76L194 876.64L194.5 876.5L195 876.36L195.5 876.2L196 876.03L196.5 875.84L197 875.63L197.5 875.41L198 875.17L198.5 874.91L199 874.63L199.5 874.33L200 874.01L200.5 873.66L201 873.29L201.5 872.89L202 872.47L202.5 872.02L203 871.55L203.5 871.05L204 870.52L204.5 869.96L205 869.37L205.5 868.75L206 868.1L206.5 867.42L207 866.71L207.5 865.96L208 865.21L208.5 864.45L209 863.7L209.5 862.97L210 862.27L210.5 861.62L211 861.03L211.5 860.49L212 860.02L212.5 859.6L213 859.25L213.5 858.96L214 858.73L214.5 858.57L215 858.47L215.5 858.44L216 858.47L216.5 858.58L217 858.75L217.5 858.99L218 859.3L218.5 859.68L219 860.13L219.5 860.62L220 861.17L220.5 861.75L221 862.35L221.5 862.97L222 863.61L222.5 864.24L223 864.88L223.5 865.52L224 866.16L224.5 866.8L225 867.43L225.5 868.06L226 868.68L226.5 869.29L227 869.9L227.5 870.5L228 871.08L228.5 871.66L229 872.21L229.5 872.76L230 873.28L230.5 873.79L231 874.28L231.5 874.75L232 875.2L232.5 875.62L233 876.02L233.5 876.39L234 876.74L234.5 877.05L235 877.34L235.5 877.6L236 877.82L236.5 878.02L237 878.18L237.5 878.33L238 878.44L238.5 878.54L239 878.61L239.5 878.66L240 878.7L240.5 878.72L241 878.72L241.5 878.72L242 878.7L242.5 878.67L243 878.63L243.5 878.59L244 878.54L244.5 878.49L245 878.43L245.5 878.38L246 878.33L246.5 878.28L247 878.23L247.5 878.2L248 878.17L248.5 878.14L249 878.11L249.5 878.09L250 878.08L250.5 878.06L251 878.05L251.5 878.04L252 878.02L252.5 878.01L253 877.99L253.5 877.98L254 877.96L254.5 877.94L255 877.91L255.5 877.88L256 877.84L256.5 877.8L257 877.75L257.5 877.69L258 877.63L258.5 877.56L259 877.48L259.5 877.38L260 877.28L260.5 877.17L261 877.04L261.5 876.91L262 876.76L262.5 876.61L263 876.45L263.5 876.29L264 876.12L264.5 875.95L265 875.78L265.5 875.6L266 875.43L266.5 875.26L267 875.09L267.5 874.92L268 874.76L268.5 874.61L269 874.46L269.5 874.32L270 874.19L270.5 874.07L271 873.97L271.5 873.87L272 873.79L272.5 873.73L273 873.68L273.5 873.64L274 873.61L274.5 873.59L275 873.57L275.5 873.56L276 873.55L276.5 873.55L277 873.54L277.5 873.54L278 873.52L278.5 873.51L279 873.48L279.5 873.45L280 873.4L280.5 873.34L281 873.27L281.5 873.18L282 873.08L282.5 872.95L283 872.8L283.5 872.63L284 872.44L284.5 872.21L285 871.97L285.5 871.71L286 871.44L286.5 871.16L287 870.86L287.5 870.57L288 870.27L288.5 869.98L289 869.69L289.5 869.41L290 869.15L290.5 868.9L291 868.67L291.5 868.47L292 868.29L292.5 868.14L293 868.03L293.5 867.95L294 867.92L294.5 867.92L295 867.96L295.5 868.04L296 868.15L296.5 868.29L297 868.44L297.5 868.63L298 868.82L298.5 869.03L299 869.26L299.5 869.49L300 869.72L300.5 869.95L301 870.18L301.5 870.4L302 870.62L302.5 870.81L303 871L303.5 871.16L304 871.31L304.5 871.44L305 871.54L305.5 871.62L306 871.68L306.5 871.71L307 871.71L307.5 871.69L308 871.63L308.5 871.54L309 871.42L309.5 871.26L310 871.06L310.5 870.83L311 870.56L311.5 870.25L312 869.89L312.5 869.49L313 869.04L313.5 868.55L314 868.01L314.5 867.42L315 866.78L315.5 866.08L316 865.33L316.5 864.52L317 863.66L317.5 862.74L318 861.74L318.5 860.64L319 859.45L319.5 858.12L320 856.66L320.5 855.05L321 853.26L321.5 851.28L322 849.11L322.5 846.74L323 844.21L323.5 841.52L324 838.7L324.5 835.75L325 832.7L325.5 829.56L326 826.35L326.5 823.09L327 819.77L327.5 816.41L328 813.03L328.5 809.63L329 806.22L329.5 802.81L330 799.41L330.5 796.01L331 792.62L331.5 789.24L332 785.87L332.5 782.53L333 779.2L333.5 775.9L334 772.64L334.5 769.4L335 766.2L335.5 763.04L336 759.97L336.5 757L337 754.18L337.5 751.54L338 749.1L338.5 746.88L339 744.88L339.5 743.12L340 741.6L340.5 740.32L341 739.3L341.5 738.54L342 738.06L342.5 737.85L343 737.93L343.5 738.29L344 738.92L344.5 739.8L345 740.93L345.5 742.27L346 743.82L346.5 745.57L347 747.49L347.5 749.57L348 751.8L348.5 754.16L349 756.64L349.5 759.21L350 761.87L350.5 764.6L351 767.39L351.5 770.21L352 773.05L352.5 775.91L353 778.75L353.5 781.57L354 784.35L354.5 787.08L355 789.73L355.5 792.29L356 794.76L356.5 797.1L357 799.31L357.5 801.36L358 803.25L358.5 804.96L359 806.47L359.5 807.76L360 808.82L360.5 809.64L361 810.21L361.5 810.55L362 810.66L362.5 810.55L363 810.24L363.5 809.73L364 809.03L364.5 808.16L365 807.12L365.5 805.93L366 804.59L366.5 803.12L367 801.52L367.5 799.81L368 798.02L368.5 796.15L369 794.23L369.5 792.27L370 790.29L370.5 788.31L371 786.34L371.5 784.4L372 782.51L372.5 780.69L373 778.95L373.5 777.31L374 775.79L374.5 774.4L375 773.16L375.5 772.09L376 771.18L376.5 770.44L377 769.87L377.5 769.46L378 769.22L378.5 769.16L379 769.27L379.5 769.56L380 770.02L380.5 770.66L381 771.49L381.5 772.49L382 773.67L382.5 775.04L383 776.59L383.5 778.3L384 780.18L384.5 782.21L385 784.38L385.5 786.69L386 789.13L386.5 791.68L387 794.35L387.5 797.11L388 799.96L388.5 802.88L389 805.86L389.5 808.9L390 811.97L390.5 815.07L391 818.19L391.5 821.31L392 824.43L392.5 827.53L393 830.6L393.5 833.62L394 836.6L394.5 839.51L395 842.34L395.5 845.08L396 847.73L396.5 850.26L397 852.67L397.5 854.95L398 857.08L398.5 859.06L399 860.86L399.5 862.5L400 863.97L400.5 865.29L401 866.47L401.5 867.52L402 868.45L402.5 869.26L403 869.97L403.5 870.59L404 871.13L404.5 871.6L405 872.01L405.5 872.36L406 872.68L406.5 872.96L407 873.22L407.5 873.47L408 873.72L408.5 873.96L409 874.2L409.5 874.42L410 874.64L410.5 874.84L411 875.03L411.5 875.21L412 875.37L412.5 875.51L413 875.64L413.5 875.74L414 875.82L414.5 875.87L415 875.9L415.5 875.91L416 875.88L416.5 875.83L417 875.75L417.5 875.63L418 875.49L418.5 875.31L419 875.09L419.5 874.84L420 874.55L420.5 874.23L421 873.87L421.5 873.47L422 873.03L422.5 872.56L423 872.05L423.5 871.5L424 870.91L424.5 870.29L425 869.64L425.5 868.95L426 868.22L426.5 867.46L427 866.67L427.5 865.84L428 864.97L428.5 864.07L429 863.14L429.5 862.18L430 861.18L430.5 860.15L431 859.09L431.5 857.99L432 856.86L432.5 855.7L433 854.5L433.5 853.26L434 851.98L434.5 850.65L435 849.27L435.5 847.84L436 846.36L436.5 844.82L437 843.22L437.5 841.55L438 839.82L438.5 838.02L439 836.15L439.5 834.21L440 832.19L440.5 830.08L441 827.9L441.5 825.62L442 823.26L442.5 820.81L443 818.25L443.5 815.54L444 812.66L444.5 809.56L445 806.22L445.5 802.59L446 798.63L446.5 794.36L447 789.78L447.5 784.94L448 779.86L448.5 774.57L449 769.1L449.5 763.49L450 757.77L450.5 751.96L451 746.05L451.5 739.91L452 733.42L452.5 726.44L453 718.84L453.5 710.48L454 701.33L454.5 691.41L455 680.77L455.5 669.44L456 657.66L456.5 646.21L457 635.91L457.5 627.16L458 619.39L458.5 611.93L459 604.55L459.5 597.57L460 591.37L460.5 585.98L461 581.04L461.5 576.18L462 571.27L462.5 566.47L463 562L463.5 557.94L464 554.31L464.5 551.11L465 548.35L465.5 546.03L466 544.18L466.5 542.79L467 541.88L467.5 541.45L468 541.51L468.5 542.05L469 543.03L469.5 544.41L470 546.14L470.5 548.17L471 550.46L471.5 553.03L472 555.96L472.5 559.35L473 563.3L473.5 567.91L474 573.27L474.5 579.48L475 586.56L475.5 594.18L476 601.92L476.5 609.51L477 616.87L477.5 623.97L478 630.97L478.5 638.38L479 646.8L479.5 656.37L480 666.3L480.5 675.69L481 683.74L481.5 690.62L482 696.87L482.5 703.07L483 709.79L483.5 717.6L484 726.59L484.5 735.86L485 744.4L485.5 752.09L486 759.52L486.5 767.23L487 775.13L487.5 782.66L488 789.31L488.5 795.1L489 800.34L489.5 805.28L490 810.03L490.5 814.6L491 819.01L491.5 823.28L492 827.43L492.5 831.47L493 835.43L493.5 839.32L494 843.16L494.5 846.9L495 850.5L495.5 853.92L496 857.09L496.5 859.98L497 862.53L497.5 864.71L498 866.45L498.5 867.78L499 868.83" fill="none" stroke="#111" stroke-width="1.4" clip-path="url(#cC)"/>
<path d="M66 875.6L67 875.55L68 875.5L69 875.46L70 875.41L71 875.37L72 875.33L73 875.3L74 875.26L75 875.23L76 875.19L77 875.16L78 875.12L79 875.09L80 875.06L81 875.03L82 875L83 874.97L84 874.94L85 874.91L86 874.88L87 874.86L88 874.83L89 874.8L90 874.78L91 874.75L92 874.72L93 874.7L94 874.67L95 874.64L96 874.62L97 874.59L98 874.57L99 874.54L100 874.52L101 874.49L102 874.46L103 874.44L104 874.41L105 874.38L106 874.36L107 874.33L108 874.3L109 874.27L110 874.24L111 874.21L112 874.18L113 874.15L114 874.12L115 874.09L116 874.06L117 874.02L118 873.99L119 873.95L120 873.92L121 873.88L122 873.84L123 873.8L124 873.76L125 873.72L126 873.68L127 873.64L128 873.59L129 873.55L130 873.5L131 873.46L132 873.41L133 873.36L134 873.32L135 873.27L136 873.22L137 873.17L138 873.12L139 873.06L140 873.01L141 872.96L142 872.9L143 872.85L144 872.79L145 872.73L146 872.67L147 872.61L148 872.55L149 872.49L150 872.43L151 872.37L152 872.3L153 872.24L154 872.17L155 872.1L156 872.03L157 871.96L158 871.89L159 871.82L160 871.74L161 871.67L162 871.59L163 871.51L164 871.43L165 871.35L166 871.27L167 871.19L168 871.1L169 871.01L170 870.93L171 870.84L172 870.75L173 870.66L174 870.56L175 870.47L176 870.37L177 870.25L178 870.12L179 869.98L180 869.83L181 869.69L182 869.56L183 869.44L184 869.32L185 869.21L186 869.09L187 868.98L188 868.85L189 868.72L190 868.59L191 868.45L192 868.32L193 868.18L194 868.04L195 867.9L196 867.75L197 867.61L198 867.46L199 867.3L200 867.15L201 866.99L202 866.82L203 866.66L204 866.49L205 866.32L206 866.14L207 865.96L208 865.76L209 865.57L210 865.36L211 865.15L212 864.94L213 864.71L214 864.48L215 864.24L216 863.98L217 863.72L218 863.45L219 863.17L220 862.89L221 862.62L222 862.35L223 862.08L224 861.81L225 861.55L226 861.28L227 861.01L228 860.73L229 860.45L230 860.16L231 859.87L232 859.57L233 859.28L234 858.98L235 858.67L236 858.35L237 858L238 857.63L239 857.24L240 856.79L241 856.3L242 855.77L243 855.22L244 854.66L245 854.08L246 853.47L247 852.83L248 852.14L249 851.39L250 850.51L251 849.57L252 848.62L253 847.73L254 846.93L255 846.16L256 845.37L257 844.5L258 843.52L259 842.45L260 841.33L261 840.22L262 839.12L263 838.01L264 836.89L265 835.78L266 834.67L267 833.61L268 832.56L269 831.47L270 830.3L271 828.99L272 827.58L273 826.12L274 824.68L275 823.29L276 821.92L277 820.55L278 819.16L279 817.75L280 816.32L281 814.87L282 813.4L283 811.9L284 810.37L285 808.81L286 807.23L287 805.66L288 804.09L289 802.54L290 800.97L291 799.34L292 797.64L293 795.87L294 794.04L295 792.15L296 790.21L297 788.23L298 786.21L299 784.09L300 781.86L301 779.47L302 776.92L303 774.24L304 771.48L305 768.67L306 765.8L307 762.84L308 759.8L309 756.67L310 753.5L311 750.27L312 746.91L313 743.36L314 739.55L315 735.4L316 731.01L317 726.48L318 721.93L319 717.19L320 712.34L321 707.51L322 702.85L323 698.42L324 694.12L325 689.84L326 685.46L327 680.87L328 676.09L329 671.19L330 666.29L331 661.45L332 656.55L333 651.65L334 646.91L335 642.47L336 638.35L337 634.42L338 630.64L339 626.94L340 623.26L341 619.62L342 616.07L343 612.66L344 609.46L345 606.45L346 603.57L347 600.79L348 598.07L349 595.36L350 592.7L351 590.19L352 587.93L353 585.86L354 583.93L355 582.09L356 580.28L357 578.51L358 576.79L359 575.12L360 573.46L361 571.81L362 570.19L363 568.57L364 566.95L365 565.3L366 563.61L367 561.89L368 560.2L369 558.54L370 556.93L371 555.35L372 553.78L373 552.22L374 550.63L375 549.04L376 547.45L377 545.88L378 544.33L379 542.79L380 541.27L381 539.77L382 538.31L383 536.87L384 535.45L385 534.06L386 532.7L387 531.38L388 530.1L389 528.84L390 527.58L391 526.27L392 524.92L393 523.56L394 522.22L395 520.95L396 519.74L397 518.57L398 517.43L399 516.31L400 515.23L401 514.18L402 513.16L403 512.12L404 511.06L405 509.99L406 508.92L407 507.84L408 506.78L409 505.73L410 504.68L411 503.64L412 502.6L413 501.56L414 500.52L415 499.5L416 498.5L417 497.54L418 496.61L419 495.7L420 494.78L421 493.81L422 492.8L423 491.78L424 490.77L425 489.8L426 488.88L427 488L428 487.13L429 486.26L430 485.38L431 484.49L432 483.61L433 482.72L434 481.85L435 480.98L436 480.11L437 479.25L438 478.42L439 477.6L440 476.79L441 476.01L442 475.27L443 474.56L444 473.85L445 473.19L446 472.61L447 472.11L448 471.67L449 471.26L450 470.91L451 470.61L452 470.34L453 470.09L454 469.88L455 469.72L456 469.62L457 469.52L458 469.45L459 469.41L460 469.41L461 469.45L462 469.52L463 469.62L464 469.72L465 469.89L466 470.12L467 470.39L468 470.7L469 471.08L470 471.56L471 472.08L472 472.57L473 472.99L474 473.39L475 473.78L476 474.16L477 474.56L478 474.94L479 475.32L480 475.72L481 476.15L482 476.64L483 477.19L484 477.75L485 478.3L486 478.79L487 479.24L488 479.68L489 480.14L490 480.66L491 481.23L492 481.83L493 482.49L494 483.2L495 483.98L496 484.84L497 485.76L498 486.75L499 487.8" fill="none" stroke="#43a3d6" stroke-width="1.3" clip-path="url(#cC)"/>
<g fill="#000" clip-path="url(#cC)"><circle cx="66.2" cy="875.59" r="1.95"/><circle cx="70.53" cy="875.39" r="1.95"/><circle cx="74.86" cy="875.23" r="1.95"/><circle cx="79.19" cy="875.09" r="1.95"/><circle cx="83.52" cy="874.95" r="1.95"/><circle cx="87.85" cy="874.83" r="1.95"/><circle cx="92.18" cy="874.72" r="1.95"/><circle cx="96.51" cy="874.61" r="1.95"/><circle cx="100.84" cy="874.49" r="1.95"/><circle cx="105.17" cy="874.38" r="1.95"/><circle cx="109.5" cy="874.26" r="1.95"/><circle cx="113.83" cy="874.13" r="1.95"/><circle cx="118.16" cy="873.98" r="1.95"/><circle cx="122.49" cy="873.82" r="1.95"/><circle cx="126.82" cy="873.64" r="1.95"/><circle cx="131.15" cy="873.45" r="1.95"/><circle cx="135.48" cy="873.24" r="1.95"/><circle cx="139.81" cy="873.02" r="1.95"/><circle cx="144.14" cy="872.78" r="1.95"/><circle cx="148.47" cy="872.53" r="1.95"/><circle cx="152.8" cy="872.25" r="1.95"/><circle cx="157.13" cy="871.95" r="1.95"/><circle cx="161.46" cy="871.63" r="1.95"/><circle cx="165.79" cy="871.29" r="1.95"/><circle cx="170.12" cy="870.92" r="1.95"/><circle cx="174.45" cy="870.52" r="1.95"/><circle cx="178.78" cy="870.01" r="1.95"/><circle cx="183.11" cy="869.43" r="1.95"/><circle cx="187.44" cy="868.92" r="1.95"/><circle cx="191.77" cy="868.35" r="1.95"/><circle cx="196.1" cy="867.74" r="1.95"/><circle cx="200.43" cy="867.08" r="1.95"/><circle cx="204.76" cy="866.36" r="1.95"/><circle cx="209.09" cy="865.55" r="1.95"/><circle cx="213.42" cy="864.62" r="1.95"/><circle cx="217.75" cy="863.51" r="1.95"/><circle cx="222.08" cy="862.32" r="1.95"/><circle cx="226.41" cy="861.17" r="1.95"/><circle cx="230.74" cy="859.94" r="1.95"/><circle cx="235.07" cy="858.65" r="1.95"/><circle cx="239.4" cy="857.06" r="1.95"/><circle cx="243.73" cy="854.81" r="1.95"/><circle cx="248.06" cy="852.1" r="1.95"/><circle cx="252.39" cy="848.26" r="1.95"/><circle cx="256.72" cy="844.75" r="1.95"/><circle cx="261.05" cy="840.16" r="1.95"/><circle cx="265.38" cy="835.35" r="1.95"/><circle cx="269.71" cy="830.65" r="1.95"/><circle cx="274.04" cy="824.62" r="1.95"/><circle cx="278.37" cy="818.64" r="1.95"/><circle cx="282.7" cy="812.35" r="1.95"/><circle cx="287.03" cy="805.61" r="1.95"/><circle cx="291.36" cy="798.74" r="1.95"/><circle cx="295.69" cy="790.81" r="1.95"/><circle cx="300.02" cy="781.82" r="1.95"/><circle cx="304.35" cy="770.5" r="1.95"/><circle cx="308.68" cy="757.68" r="1.95"/><circle cx="313.01" cy="743.33" r="1.95"/><circle cx="317.34" cy="724.94" r="1.95"/><circle cx="321.67" cy="704.36" r="1.95"/><circle cx="326" cy="685.46" r="1.95"/><circle cx="330.33" cy="664.68" r="1.95"/><circle cx="334.66" cy="643.94" r="1.95"/><circle cx="338.99" cy="626.97" r="1.95"/><circle cx="343.32" cy="611.62" r="1.95"/><circle cx="347.65" cy="599.02" r="1.95"/><circle cx="351.98" cy="587.97" r="1.95"/><circle cx="356.31" cy="579.72" r="1.95"/><circle cx="360.64" cy="572.4" r="1.95"/><circle cx="364.97" cy="565.35" r="1.95"/><circle cx="369.3" cy="558.05" r="1.95"/><circle cx="373.63" cy="551.22" r="1.95"/><circle cx="377.96" cy="544.39" r="1.95"/><circle cx="382.29" cy="537.89" r="1.95"/><circle cx="386.62" cy="531.88" r="1.95"/><circle cx="390.95" cy="526.34" r="1.95"/><circle cx="395.28" cy="520.61" r="1.95"/><circle cx="399.61" cy="515.65" r="1.95"/><circle cx="403.94" cy="511.13" r="1.95"/><circle cx="408.27" cy="506.5" r="1.95"/><circle cx="412.6" cy="501.98" r="1.95"/><circle cx="416.93" cy="497.6" r="1.95"/><circle cx="421.26" cy="493.55" r="1.95"/><circle cx="425.59" cy="489.25" r="1.95"/><circle cx="429.92" cy="485.45" r="1.95"/><circle cx="434.25" cy="481.63" r="1.95"/><circle cx="438.58" cy="477.94" r="1.95"/><circle cx="442.91" cy="474.62" r="1.95"/><circle cx="447.24" cy="472" r="1.95"/><circle cx="451.57" cy="470.46" r="1.95"/><circle cx="455.9" cy="469.63" r="1.95"/><circle cx="460.23" cy="469.41" r="1.95"/><circle cx="464.56" cy="469.81" r="1.95"/><circle cx="468.89" cy="471.04" r="1.95"/><circle cx="473.22" cy="473.08" r="1.95"/><circle cx="477.55" cy="474.77" r="1.95"/><circle cx="481.88" cy="476.58" r="1.95"/><circle cx="486.21" cy="478.89" r="1.95"/><circle cx="490.54" cy="480.96" r="1.95"/><circle cx="494.87" cy="483.88" r="1.95"/></g>
<g stroke="#1f8c1f" stroke-width="1.6"><line x1="752.1" y1="878.5" x2="752.1" y2="872.4"/><line x1="754.1" y1="878.5" x2="754.1" y2="832"/><line x1="759.9" y1="878.5" x2="759.9" y2="851.9"/><line x1="779.8" y1="878.5" x2="779.8" y2="839.7"/><line x1="784.1" y1="878.5" x2="784.1" y2="838.2"/></g>
<g stroke="#5577dd" stroke-width="0.9"><line x1="834.7" y1="878.5" x2="834.7" y2="860.1"/><line x1="837.3" y1="878.5" x2="837.3" y2="860.1"/><line x1="863" y1="878.5" x2="863" y2="868.5"/><line x1="866.2" y1="878.5" x2="866.2" y2="869"/></g>
<g stroke="#8a8a8a" stroke-width="1.2"><line x1="884.6" y1="878.5" x2="884.6" y2="819.7"/><line x1="890.3" y1="878.5" x2="890.3" y2="808.2"/><line x1="892.5" y1="878.5" x2="892.5" y2="831.9"/></g>
<g stroke="#d8a840" stroke-width="1.4"><line x1="912.5" y1="878.5" x2="912.5" y2="860"/><line x1="913.4" y1="878.5" x2="913.4" y2="843"/><line x1="921.4" y1="878.5" x2="921.4" y2="845.2"/><line x1="920.5" y1="878.5" x2="920.5" y2="862"/></g>
<g stroke="#e8a070" stroke-width="1.2"><line x1="742" y1="878.5" x2="742" y2="872"/><line x1="745" y1="878.5" x2="745" y2="874"/></g>
<path d="M499 878.5L500 878.5L501 878.5L502 878.5L503 878.5L504 878.5L505 878.5L506 878.5L507 878.5L508 878.49L509 878.49L510 878.49L511 878.49L512 878.49L513 878.48L514 878.48L515 878.48L516 878.48L517 878.47L518 878.47L519 878.47L520 878.46L521 878.46L522 878.45L523 878.45L524 878.44L525 878.44L526 878.43L527 878.42L528 878.42L529 878.41L530 878.4L531 878.33L532 878.17L533 877.95L534 877.69L535 877.42L536 877.18L537 877L538 876.85L539 876.7L540 876.55L541 876.41L542 876.27L543 876.14L544 876.03L545 875.93L546 875.86L547 875.82L548 875.8L549 875.82L550 875.88L551 875.97L552 876.08L553 876.22L554 876.38L555 876.54L556 876.71L557 876.88L558 877.05L559 877.2L560 877.37L561 877.59L562 877.82L563 878.04L564 878.22L565 878.35L566 878.4L567 878.4L568 878.4L569 878.4L570 878.4L571 878.4L572 878.4L573 878.4L574 878.4L575 878.4L576 878.4L577 878.4L578 878.4L579 878.4L580 878.4L581 878.4L582 878.4L583 878.4L584 878.4L585 878.4L586 878.4L587 878.4L588 878.4L589 878.4L590 878.4L591 878.4L592 878.4L593 878.4L594 878.4L595 878.4L596 878.4L597 878.4L598 878.4L599 878.4L600 878.4L601 878.4L602 878.4L603 878.4L604 878.4L605 878.4L606 878.4L607 878.4L608 878.4L609 878.4L610 878.4L611 878.4L612 878.4L613 878.4L614 878.4L615 878.4L616 878.4L617 878.4L618 878.4L619 878.4L620 878.4L621 878.4L622 878.4L623 878.4L624 878.4L625 878.4L626 878.4L627 878.4L628 878.4L629 878.4L630 878.4L631 878.4L632 878.4L633 878.4L634 878.4L635 878.4L636 878.4L637 878.4L638 878.4L639 878.4L640 878.4L641 878.4L642 878.4L643 878.4L644 878.4L645 878.4L646 878.4L647 878.4L648 878.4L649 878.4L650 878.4L651 878.4L652 878.4L653 878.39L654 878.38L655 878.38L656 878.37L657 878.35L658 878.34L659 878.32L660 878.3L661 878.28L662 878.26L663 878.24L664 878.21L665 878.18L666 878.15L667 878.11L668 878.08L669 878.04L670 878L671 877.91L672 877.73L673 877.48L674 877.17L675 876.82L676 876.45L677 876.06L678 875.68L679 875.32L680 875L681 874.66L682 874.28L683 873.88L684 873.49L685 873.15L686 872.88L687 872.73L688 872.71L689 872.85L690 873.11L691 873.45L692 873.85L693 874.26L694 874.66L695 875L696 875.32L697 875.67L698 876.04L699 876.41L700 876.77L701 877.1L702 877.41L703 877.67L704 877.87L705 878L706 878.09L707 878.17L708 878.25L709 878.31L710 878.36L711 878.39L712 878.4L713 878.31L714 878.08L715 877.76L716 877.41L717 877.06L718 876.65L719 876.19L720 875.68L721 875.13L722 874.56L723 873.99L724 873.41L725 872.78L726 872.11L727 871.42L728 870.75L729 870.1L730 869.5L731 868.93L732 868.35L733 867.79L734 867.28L735 866.84L736 866.5L737 866.21L738 865.93L739 865.67L740 865.45L741 865.27L742 865.15L743 865.1L744 865.15L745 865.29L746 865.52L747 865.81L748 866.13L749 866.47L750 866.8L751 867.15L752 867.54L753 867.97L754 868.44L755 868.94L756 869.46L757 870L758 870.59L759 871.24L760 871.93L761 872.64L762 873.34L763 874L764 874.69L765 875.44L766 876.19L767 876.87L768 877.41L769 877.76L770 877.94L771 878.09L772 878.21L773 878.31L774 878.38L775 878.4L776 878.4L777 878.4L778 878.41L779 878.41L780 878.41L781 878.41L782 878.41L783 878.41L784 878.42L785 878.42L786 878.42L787 878.42L788 878.42L789 878.42L790 878.42L791 878.43L792 878.43L793 878.43L794 878.43L795 878.43L796 878.43L797 878.43L798 878.44L799 878.44L800 878.44L801 878.44L802 878.44L803 878.44L804 878.44L805 878.45L806 878.45L807 878.45L808 878.45L809 878.45L810 878.45L811 878.45L812 878.45L813 878.45L814 878.46L815 878.46L816 878.46L817 878.46L818 878.46L819 878.46L820 878.46L821 878.46L822 878.46L823 878.46L824 878.47L825 878.47L826 878.47L827 878.47L828 878.47L829 878.47L830 878.47L831 878.47L832 878.47L833 878.47L834 878.47L835 878.47L836 878.48L837 878.48L838 878.48L839 878.48L840 878.48L841 878.48L842 878.48L843 878.48L844 878.48L845 878.48L846 878.48L847 878.48L848 878.48L849 878.48L850 878.48L851 878.48L852 878.48L853 878.49L854 878.49L855 878.49L856 878.49L857 878.49L858 878.49L859 878.49L860 878.49L861 878.49L862 878.49L863 878.49L864 878.49L865 878.49L866 878.49L867 878.49L868 878.49L869 878.49L870 878.49L871 878.49L872 878.49L873 878.49L874 878.49L875 878.49L876 878.49L877 878.49L878 878.49L879 878.5L880 878.5L881 878.5L882 878.5L883 878.5L884 878.5L885 878.5L886 878.5L887 878.5L888 878.5L889 878.5L890 878.5L891 878.5L892 878.5L893 878.5L894 878.5L895 878.5L896 878.5L897 878.5L898 878.5L899 878.5L900 878.5L901 878.5L902 878.5L903 878.5L904 878.5L905 878.5L906 878.5L907 878.5L908 878.5L909 878.5L910 878.5L911 878.5L912 878.5L913 878.5L914 878.5L915 878.5L916 878.5L917 878.5L918 878.5L919 878.5L920 878.5L921 878.5L922 878.5L923 878.5L924 878.5L925 878.5L926 878.5L927 878.5L928 878.5L929 878.5L930 878.5L931 878.5L932 878.5" fill="none" stroke="#e8804a" stroke-width="1.1" stroke-dasharray="4 3" clip-path="url(#cD)"/>
<path d="M499 878.5L500 878.5L501 878.5L502 878.5L503 878.5L504 878.5L505 878.5L506 878.5L507 878.5L508 878.5L509 878.5L510 878.5L511 878.5L512 878.5L513 878.5L514 878.5L515 878.5L516 878.5L517 878.5L518 878.5L519 878.5L520 878.5L521 878.5L522 878.5L523 878.5L524 878.5L525 878.5L526 878.5L527 878.5L528 878.5L529 878.5L530 878.5L531 878.5L532 878.5L533 878.5L534 878.5L535 878.5L536 878.5L537 878.5L538 878.5L539 878.5L540 878.5L541 878.5L542 878.5L543 878.5L544 878.5L545 878.5L546 878.5L547 878.5L548 878.5L549 878.5L550 878.5L551 878.5L552 878.5L553 878.5L554 878.5L555 878.5L556 878.5L557 878.5L558 878.5L559 878.5L560 878.5L561 878.5L562 878.5L563 878.5L564 878.5L565 878.5L566 878.5L567 878.5L568 878.5L569 878.5L570 878.5L571 878.5L572 878.5L573 878.5L574 878.5L575 878.5L576 878.5L577 878.5L578 878.5L579 878.5L580 878.5L581 878.5L582 878.5L583 878.5L584 878.5L585 878.5L586 878.5L587 878.5L588 878.5L589 878.5L590 878.5L591 878.5L592 878.5L593 878.5L594 878.5L595 878.5L596 878.5L597 878.5L598 878.5L599 878.5L600 878.5L601 878.5L602 878.5L603 878.5L604 878.5L605 878.5L606 878.5L607 878.5L608 878.5L609 878.5L610 878.5L611 878.5L612 878.5L613 878.5L614 878.5L615 878.5L616 878.5L617 878.5L618 878.5L619 878.5L620 878.5L621 878.5L622 878.5L623 878.5L624 878.5L625 878.5L626 878.5L627 878.5L628 878.5L629 878.5L630 878.5L631 878.5L632 878.5L633 878.5L634 878.5L635 878.5L636 878.5L637 878.5L638 878.5L639 878.5L640 878.5L641 878.5L642 878.5L643 878.5L644 878.5L645 878.5L646 878.5L647 878.5L648 878.5L649 878.5L650 878.5L651 878.5L652 878.5L653 878.5L654 878.5L655 878.5L656 878.5L657 878.5L658 878.5L659 878.5L660 878.5L661 878.5L662 878.5L663 878.5L664 878.5L665 878.5L666 878.5L667 878.5L668 878.5L669 878.5L670 878.5L671 878.5L672 878.5L673 878.5L674 878.5L675 878.5L676 878.5L677 878.5L678 878.5L679 878.5L680 878.5L681 878.5L682 878.5L683 878.5L684 878.5L685 878.5L686 878.5L687 878.5L688 878.5L689 878.5L690 878.5L691 878.5L692 878.5L693 878.5L694 878.5L695 878.5L696 878.5L697 878.5L698 878.5L699 878.5L700 878.5L701 878.5L702 878.5L703 878.5L704 878.5L705 878.5L706 878.5L707 878.5L708 878.5L709 878.5L710 878.5L711 878.5L712 878.5L713 878.5L714 878.5L715 878.5L716 878.5L717 878.5L718 878.5L719 878.5L720 878.5L721 878.5L722 878.5L723 878.5L724 878.5L725 878.5L726 878.5L727 878.5L728 878.5L729 878.5L730 878.5L731 878.5L732 878.5L733 878.5L734 878.5L735 878.5L736 878.5L737 878.5L738 878.5L739 878.5L740 878.5L741 878.5L742 878.5L743 878.5L744 878.5L745 878.5L746 878.5L747 878.5L748 878.5L749 878.5L750 878.5L751 878.5L752 878.5L753 878.5L754 878.5L755 878.5L756 878.5L757 878.5L758 878.5L759 878.5L760 878.5L761 878.5L762 878.5L763 878.5L764 878.5L765 878.5L766 878.5L767 878.5L768 878.5L769 878.5L770 878.5L771 878.5L772 878.5L773 878.5L774 878.5L775 878.5L776 878.5L777 878.5L778 878.5L779 878.5L780 878.5L781 878.5L782 878.5L783 878.49L784 878.49L785 878.49L786 878.48L787 878.48L788 878.47L789 878.46L790 878.44L791 878.42L792 878.4L793 878.37L794 878.33L795 878.28L796 878.22L797 878.14L798 878.04L799 877.92L800 877.77L801 877.6L802 877.38L803 877.13L804 876.82L805 876.47L806 876.05L807 875.56L808 875L809 874.36L810 873.63L811 872.81L812 871.89L813 870.87L814 869.75L815 868.53L816 867.21L817 865.79L818 864.28L819 862.7L820 861.05L821 859.34L822 857.6L823 855.85L824 854.1L825 852.39L826 850.72L827 849.13L828 847.65L829 846.3L830 845.09L831 844.06L832 843.22L833 842.58L834 842.16L835 841.96L836 842.01L837 842.38L838 843.07L839 844.05L840 845.29L841 846.76L842 848.41L843 850.19L844 852.05L845 853.92L846 855.76L847 857.5L848 859.08L849 860.46L850 861.59L851 862.44L852 862.99L853 863.23L854 863.17L855 862.84L856 862.28L857 861.55L858 860.74L859 859.91L860 859.15L861 858.54L862 858.16L863 858.06L864 858.26L865 858.63L866 859.15L867 859.82L868 860.62L869 861.55L870 862.57L871 863.67L872 864.83L873 866.03L874 867.22L875 868.41L876 869.56L877 870.66L878 871.69L879 872.64L880 873.51L881 874.3L882 874.99L883 875.6L884 876.13L885 876.58L886 876.96L887 877.28L888 877.54L889 877.76L890 877.93L891 878.06L892 878.17L893 878.25L894 878.32L895 878.37L896 878.4L897 878.43L898 878.45L899 878.47L900 878.48L901 878.48L902 878.49L903 878.49L904 878.49L905 878.5L906 878.5L907 878.5L908 878.5L909 878.5L910 878.5L911 878.5L912 878.5L913 878.5L914 878.5L915 878.5L916 878.5L917 878.5L918 878.5L919 878.5L920 878.5L921 878.5L922 878.5L923 878.5L924 878.5L925 878.5L926 878.5L927 878.5L928 878.5L929 878.5L930 878.5L931 878.5L932 878.5" fill="none" stroke="#3a5fd0" stroke-width="1.1" stroke-dasharray="4 3" clip-path="url(#cD)"/>
<path d="M499 878.5L500 878.5L501 878.5L502 878.5L503 878.5L504 878.5L505 878.5L506 878.5L507 878.5L508 878.5L509 878.5L510 878.5L511 878.5L512 878.5L513 878.5L514 878.5L515 878.5L516 878.5L517 878.5L518 878.5L519 878.5L520 878.5L521 878.5L522 878.5L523 878.5L524 878.5L525 878.5L526 878.5L527 878.5L528 878.5L529 878.5L530 878.5L531 878.5L532 878.5L533 878.5L534 878.5L535 878.5L536 878.5L537 878.5L538 878.5L539 878.5L540 878.5L541 878.5L542 878.5L543 878.5L544 878.5L545 878.5L546 878.5L547 878.5L548 878.5L549 878.5L550 878.5L551 878.5L552 878.5L553 878.5L554 878.5L555 878.5L556 878.5L557 878.5L558 878.5L559 878.5L560 878.5L561 878.5L562 878.5L563 878.5L564 878.5L565 878.5L566 878.5L567 878.5L568 878.5L569 878.5L570 878.5L571 878.5L572 878.5L573 878.5L574 878.5L575 878.5L576 878.5L577 878.5L578 878.5L579 878.5L580 878.5L581 878.5L582 878.5L583 878.5L584 878.5L585 878.5L586 878.5L587 878.5L588 878.5L589 878.5L590 878.5L591 878.5L592 878.5L593 878.5L594 878.5L595 878.5L596 878.5L597 878.5L598 878.5L599 878.5L600 878.5L601 878.5L602 878.5L603 878.5L604 878.5L605 878.5L606 878.5L607 878.5L608 878.5L609 878.5L610 878.5L611 878.5L612 878.5L613 878.5L614 878.5L615 878.5L616 878.5L617 878.5L618 878.5L619 878.5L620 878.5L621 878.5L622 878.5L623 878.5L624 878.5L625 878.5L626 878.5L627 878.5L628 878.5L629 878.5L630 878.5L631 878.5L632 878.5L633 878.5L634 878.5L635 878.5L636 878.5L637 878.5L638 878.5L639 878.5L640 878.5L641 878.5L642 878.5L643 878.5L644 878.5L645 878.5L646 878.5L647 878.5L648 878.5L649 878.5L650 878.5L651 878.5L652 878.5L653 878.5L654 878.5L655 878.5L656 878.5L657 878.5L658 878.5L659 878.5L660 878.5L661 878.5L662 878.5L663 878.5L664 878.5L665 878.5L666 878.5L667 878.5L668 878.5L669 878.5L670 878.5L671 878.5L672 878.5L673 878.5L674 878.5L675 878.5L676 878.5L677 878.5L678 878.5L679 878.5L680 878.5L681 878.5L682 878.5L683 878.5L684 878.5L685 878.5L686 878.5L687 878.5L688 878.5L689 878.5L690 878.5L691 878.5L692 878.5L693 878.5L694 878.5L695 878.5L696 878.5L697 878.5L698 878.5L699 878.5L700 878.5L701 878.5L702 878.5L703 878.5L704 878.5L705 878.5L706 878.5L707 878.5L708 878.5L709 878.5L710 878.5L711 878.5L712 878.5L713 878.5L714 878.5L715 878.5L716 878.5L717 878.5L718 878.5L719 878.5L720 878.5L721 878.5L722 878.5L723 878.5L724 878.5L725 878.5L726 878.5L727 878.5L728 878.5L729 878.5L730 878.5L731 878.5L732 878.5L733 878.5L734 878.5L735 878.5L736 878.5L737 878.5L738 878.5L739 878.5L740 878.5L741 878.5L742 878.5L743 878.5L744 878.5L745 878.5L746 878.5L747 878.5L748 878.5L749 878.5L750 878.5L751 878.5L752 878.5L753 878.5L754 878.5L755 878.5L756 878.5L757 878.5L758 878.5L759 878.5L760 878.5L761 878.5L762 878.5L763 878.5L764 878.5L765 878.5L766 878.5L767 878.5L768 878.5L769 878.5L770 878.5L771 878.5L772 878.5L773 878.5L774 878.5L775 878.5L776 878.5L777 878.5L778 878.5L779 878.5L780 878.5L781 878.5L782 878.5L783 878.5L784 878.5L785 878.5L786 878.5L787 878.5L788 878.5L789 878.5L790 878.5L791 878.5L792 878.5L793 878.5L794 878.5L795 878.5L796 878.5L797 878.5L798 878.5L799 878.5L800 878.5L801 878.5L802 878.5L803 878.5L804 878.5L805 878.5L806 878.5L807 878.5L808 878.5L809 878.5L810 878.5L811 878.5L812 878.5L813 878.5L814 878.5L815 878.5L816 878.5L817 878.5L818 878.5L819 878.5L820 878.5L821 878.5L822 878.5L823 878.5L824 878.5L825 878.5L826 878.5L827 878.5L828 878.5L829 878.5L830 878.5L831 878.5L832 878.5L833 878.5L834 878.5L835 878.5L836 878.5L837 878.5L838 878.5L839 878.5L840 878.5L841 878.5L842 878.5L843 878.5L844 878.5L845 878.5L846 878.5L847 878.5L848 878.5L849 878.5L850 878.5L851 878.5L852 878.5L853 878.5L854 878.5L855 878.5L856 878.5L857 878.5L858 878.5L859 878.5L860 878.5L861 878.5L862 878.5L863 878.5L864 878.5L865 878.5L866 878.5L867 878.5L868 878.5L869 878.5L870 878.49L871 878.49L872 878.49L873 878.48L874 878.48L875 878.46L876 878.45L877 878.43L878 878.4L879 878.35L880 878.3L881 878.22L882 878.12L883 877.98L884 877.81L885 877.58L886 877.28L887 876.9L888 876.43L889 875.84L890 875.1L891 874.21L892 873.12L893 871.81L894 870.26L895 868.43L896 866.31L897 863.86L898 861.07L899 857.93L900 854.42L901 850.57L902 846.37L903 841.86L904 837.07L905 832.06L906 826.89L907 821.63L908 816.38L909 811.22L910 806.25L911 801.59L912 797.32L913 793.55L914 790.36L915 787.84L916 786.05L917 785.03L918 784.8L919 785.37L920 786.72L921 788.82L922 791.6L923 795.02L924 798.97L925 803.38L926 808.14L927 813.16L928 818.33L929 823.56L930 828.76L931 833.84L932 838.75" fill="none" stroke="#d8a840" stroke-width="1.1" stroke-dasharray="4 3" clip-path="url(#cD)"/>
<path d="M499 878.5L500 878.5L501 878.5L502 878.5L503 878.5L504 878.5L505 878.5L506 878.5L507 878.5L508 878.5L509 878.5L510 878.5L511 878.5L512 878.5L513 878.5L514 878.5L515 878.5L516 878.5L517 878.5L518 878.5L519 878.5L520 878.5L521 878.5L522 878.5L523 878.5L524 878.5L525 878.5L526 878.5L527 878.5L528 878.5L529 878.5L530 878.5L531 878.5L532 878.5L533 878.5L534 878.5L535 878.5L536 878.5L537 878.5L538 878.5L539 878.5L540 878.5L541 878.5L542 878.5L543 878.5L544 878.5L545 878.5L546 878.5L547 878.5L548 878.5L549 878.5L550 878.5L551 878.5L552 878.5L553 878.5L554 878.5L555 878.5L556 878.5L557 878.5L558 878.5L559 878.5L560 878.5L561 878.5L562 878.5L563 878.5L564 878.5L565 878.5L566 878.5L567 878.5L568 878.5L569 878.5L570 878.5L571 878.5L572 878.5L573 878.5L574 878.5L575 878.5L576 878.5L577 878.5L578 878.5L579 878.5L580 878.5L581 878.5L582 878.5L583 878.5L584 878.5L585 878.5L586 878.5L587 878.5L588 878.5L589 878.5L590 878.5L591 878.5L592 878.5L593 878.5L594 878.5L595 878.5L596 878.5L597 878.5L598 878.5L599 878.5L600 878.5L601 878.5L602 878.5L603 878.5L604 878.5L605 878.5L606 878.5L607 878.5L608 878.5L609 878.5L610 878.5L611 878.5L612 878.5L613 878.5L614 878.5L615 878.5L616 878.5L617 878.5L618 878.5L619 878.5L620 878.5L621 878.5L622 878.5L623 878.5L624 878.5L625 878.5L626 878.5L627 878.5L628 878.5L629 878.5L630 878.5L631 878.5L632 878.5L633 878.5L634 878.5L635 878.5L636 878.5L637 878.5L638 878.5L639 878.5L640 878.5L641 878.5L642 878.5L643 878.5L644 878.5L645 878.5L646 878.5L647 878.5L648 878.5L649 878.5L650 878.5L651 878.5L652 878.5L653 878.5L654 878.5L655 878.5L656 878.5L657 878.5L658 878.5L659 878.5L660 878.5L661 878.5L662 878.5L663 878.5L664 878.5L665 878.5L666 878.5L667 878.5L668 878.5L669 878.5L670 878.5L671 878.5L672 878.5L673 878.5L674 878.5L675 878.5L676 878.5L677 878.5L678 878.5L679 878.5L680 878.5L681 878.5L682 878.5L683 878.5L684 878.5L685 878.5L686 878.5L687 878.5L688 878.5L689 878.5L690 878.5L691 878.5L692 878.5L693 878.5L694 878.5L695 878.5L696 878.5L697 878.5L698 878.5L699 878.5L700 878.5L701 878.5L702 878.5L703 878.5L704 878.5L705 878.5L706 878.5L707 878.5L708 878.5L709 878.5L710 878.5L711 878.5L712 878.5L713 878.5L714 878.5L715 878.5L716 878.5L717 878.5L718 878.5L719 878.5L720 878.5L721 878.5L722 878.5L723 878.5L724 878.5L725 878.5L726 878.5L727 878.5L728 878.5L729 878.5L730 878.5L731 878.5L732 878.5L733 878.5L734 878.5L735 878.5L736 878.5L737 878.5L738 878.5L739 878.5L740 878.5L741 878.5L742 878.5L743 878.5L744 878.5L745 878.5L746 878.5L747 878.5L748 878.5L749 878.5L750 878.5L751 878.5L752 878.5L753 878.5L754 878.5L755 878.5L756 878.5L757 878.5L758 878.5L759 878.5L760 878.5L761 878.5L762 878.5L763 878.5L764 878.5L765 878.5L766 878.5L767 878.5L768 878.5L769 878.5L770 878.5L771 878.5L772 878.5L773 878.5L774 878.5L775 878.5L776 878.5L777 878.5L778 878.5L779 878.5L780 878.5L781 878.5L782 878.5L783 878.5L784 878.5L785 878.5L786 878.5L787 878.5L788 878.5L789 878.5L790 878.5L791 878.5L792 878.5L793 878.5L794 878.5L795 878.5L796 878.5L797 878.5L798 878.5L799 878.5L800 878.5L801 878.5L802 878.5L803 878.5L804 878.5L805 878.5L806 878.5L807 878.5L808 878.5L809 878.5L810 878.5L811 878.5L812 878.5L813 878.5L814 878.5L815 878.5L816 878.5L817 878.5L818 878.5L819 878.5L820 878.5L821 878.5L822 878.5L823 878.5L824 878.5L825 878.5L826 878.5L827 878.5L828 878.5L829 878.5L830 878.5L831 878.5L832 878.5L833 878.5L834 878.5L835 878.5L836 878.5L837 878.5L838 878.5L839 878.5L840 878.49L841 878.49L842 878.49L843 878.48L844 878.47L845 878.46L846 878.44L847 878.41L848 878.38L849 878.33L850 878.26L851 878.17L852 878.04L853 877.88L854 877.66L855 877.38L856 877.02L857 876.56L858 875.97L859 875.23L860 874.31L861 873.17L862 871.77L863 870.08L864 868.05L865 865.64L866 862.79L867 859.47L868 855.63L869 851.24L870 846.27L871 840.7L872 834.53L873 827.76L874 820.43L875 812.56L876 804.24L877 795.55L878 786.58L879 777.46L880 768.34L881 759.37L882 750.7L883 742.51L884 734.96L885 728.22L886 722.43L887 717.73L888 714.22L889 711.99L890 711.09L891 711.86L892 714.84L893 719.91L894 726.88L895 735.48L896 745.4L897 756.29L898 767.79L899 779.55L900 791.25L901 802.59L902 813.34L903 823.31L904 832.39L905 840.49L906 847.58L907 853.69L908 858.86L909 863.16L910 866.67L911 869.51L912 871.75L913 873.51L914 874.85L915 875.87L916 876.63L917 877.19L918 877.59L919 877.88L920 878.08L921 878.22L922 878.32L923 878.38L924 878.43L925 878.45L926 878.47L927 878.48L928 878.49L929 878.49L930 878.5L931 878.5L932 878.5" fill="none" stroke="#707070" stroke-width="1.1" stroke-dasharray="4 3" clip-path="url(#cD)"/>
<path d="M499 878.49L500 878.49L501 878.49L502 878.49L503 878.49L504 878.49L505 878.49L506 878.49L507 878.49L508 878.49L509 878.49L510 878.49L511 878.49L512 878.49L513 878.49L514 878.49L515 878.49L516 878.49L517 878.49L518 878.49L519 878.49L520 878.49L521 878.49L522 878.49L523 878.49L524 878.49L525 878.49L526 878.49L527 878.49L528 878.49L529 878.49L530 878.49L531 878.49L532 878.49L533 878.49L534 878.49L535 878.49L536 878.49L537 878.49L538 878.49L539 878.49L540 878.49L541 878.49L542 878.48L543 878.48L544 878.48L545 878.48L546 878.48L547 878.48L548 878.48L549 878.48L550 878.48L551 878.48L552 878.48L553 878.48L554 878.48L555 878.48L556 878.48L557 878.48L558 878.48L559 878.48L560 878.48L561 878.48L562 878.48L563 878.48L564 878.48L565 878.48L566 878.48L567 878.48L568 878.48L569 878.48L570 878.48L571 878.48L572 878.48L573 878.48L574 878.48L575 878.48L576 878.48L577 878.48L578 878.48L579 878.48L580 878.48L581 878.48L582 878.48L583 878.48L584 878.48L585 878.48L586 878.48L587 878.48L588 878.48L589 878.48L590 878.48L591 878.47L592 878.47L593 878.47L594 878.47L595 878.47L596 878.47L597 878.47L598 878.47L599 878.47L600 878.47L601 878.47L602 878.47L603 878.47L604 878.47L605 878.47L606 878.47L607 878.47L608 878.47L609 878.47L610 878.47L611 878.47L612 878.47L613 878.47L614 878.47L615 878.47L616 878.46L617 878.46L618 878.46L619 878.46L620 878.46L621 878.46L622 878.46L623 878.46L624 878.46L625 878.46L626 878.46L627 878.46L628 878.46L629 878.46L630 878.46L631 878.46L632 878.46L633 878.45L634 878.45L635 878.45L636 878.45L637 878.45L638 878.45L639 878.45L640 878.45L641 878.45L642 878.45L643 878.45L644 878.45L645 878.44L646 878.44L647 878.44L648 878.44L649 878.44L650 878.44L651 878.44L652 878.44L653 878.44L654 878.43L655 878.43L656 878.43L657 878.43L658 878.43L659 878.43L660 878.43L661 878.42L662 878.42L663 878.42L664 878.42L665 878.42L666 878.42L667 878.41L668 878.41L669 878.41L670 878.41L671 878.41L672 878.4L673 878.4L674 878.4L675 878.4L676 878.39L677 878.39L678 878.39L679 878.39L680 878.38L681 878.38L682 878.38L683 878.37L684 878.37L685 878.37L686 878.36L687 878.36L688 878.36L689 878.35L690 878.35L691 878.34L692 878.34L693 878.33L694 878.33L695 878.32L696 878.32L697 878.31L698 878.3L699 878.3L700 878.29L701 878.28L702 878.27L703 878.27L704 878.26L705 878.25L706 878.24L707 878.23L708 878.22L709 878.21L710 878.19L711 878.18L712 878.17L713 878.15L714 878.14L715 878.12L716 878.1L717 878.08L718 878.05L719 878.03L720 877.99L721 877.95L722 877.91L723 877.85L724 877.77L725 877.68L726 877.55L727 877.38L728 877.17L729 876.88L730 876.51L731 876.03L732 875.41L733 874.62L734 873.63L735 872.4L736 870.88L737 869.05L738 866.86L739 864.27L740 861.28L741 857.85L742 854L743 849.75L744 845.13L745 840.2L746 835.04L747 829.76L748 824.49L749 819.35L750 814.5L751 810.09L752 806.26L753 803.16L754 800.89L755 799.54L756 799.13L757 799.4L758 800.21L759 801.51L760 803.21L761 805.23L762 807.44L763 809.74L764 811.99L765 814.07L766 815.88L767 817.3L768 818.25L769 818.68L770 818.53L771 817.82L772 816.57L773 814.84L774 812.73L775 810.35L776 807.85L777 805.39L778 803.13L779 801.25L780 799.89L781 799.18L782 799.21L783 800.03L784 801.39L785 803.26L786 805.6L787 808.41L788 811.62L789 815.18L790 819.03L791 823.1L792 827.31L793 831.59L794 835.86L795 840.07L796 844.14L797 848.04L798 851.72L799 855.14L800 858.29L801 861.16L802 863.74L803 866.03L804 868.04L805 869.8L806 871.3L807 872.59L808 873.67L809 874.58L810 875.33L811 875.94L812 876.44L813 876.84L814 877.16L815 877.41L816 877.61L817 877.77L818 877.89L819 877.98L820 878.05L821 878.11L822 878.15L823 878.18L824 878.21L825 878.23L826 878.25L827 878.26L828 878.27L829 878.28L830 878.29L831 878.29L832 878.3L833 878.31L834 878.31L835 878.32L836 878.32L837 878.33L838 878.33L839 878.34L840 878.34L841 878.34L842 878.35L843 878.35L844 878.35L845 878.36L846 878.36L847 878.36L848 878.37L849 878.37L850 878.37L851 878.38L852 878.38L853 878.38L854 878.38L855 878.39L856 878.39L857 878.39L858 878.39L859 878.39L860 878.4L861 878.4L862 878.4L863 878.4L864 878.4L865 878.41L866 878.41L867 878.41L868 878.41L869 878.41L870 878.41L871 878.42L872 878.42L873 878.42L874 878.42L875 878.42L876 878.42L877 878.42L878 878.43L879 878.43L880 878.43L881 878.43L882 878.43L883 878.43L884 878.43L885 878.43L886 878.43L887 878.44L888 878.44L889 878.44L890 878.44L891 878.44L892 878.44L893 878.44L894 878.44L895 878.44L896 878.44L897 878.44L898 878.45L899 878.45L900 878.45L901 878.45L902 878.45L903 878.45L904 878.45L905 878.45L906 878.45L907 878.45L908 878.45L909 878.45L910 878.45L911 878.45L912 878.45L913 878.46L914 878.46L915 878.46L916 878.46L917 878.46L918 878.46L919 878.46L920 878.46L921 878.46L922 878.46L923 878.46L924 878.46L925 878.46L926 878.46L927 878.46L928 878.46L929 878.46L930 878.46L931 878.46L932 878.46" fill="none" stroke="#3aa04a" stroke-width="1.1" stroke-dasharray="4 3" clip-path="url(#cD)"/>
<path d="M499 879.12L499.5 879.11L500 879.09L500.5 879.06L501 879.04L501.5 879.02L502 878.99L502.5 878.96L503 878.94L503.5 878.91L504 878.88L504.5 878.84L505 878.81L505.5 878.78L506 878.74L506.5 878.71L507 878.67L507.5 878.63L508 878.59L508.5 878.55L509 878.51L509.5 878.47L510 878.43L510.5 878.39L511 878.34L511.5 878.3L512 878.26L512.5 878.21L513 878.17L513.5 878.12L514 878.08L514.5 878.03L515 877.98L515.5 877.94L516 877.89L516.5 877.85L517 877.8L517.5 877.75L518 877.71L518.5 877.66L519 877.61L519.5 877.57L520 877.52L520.5 877.48L521 877.43L521.5 877.39L522 877.34L522.5 877.3L523 877.25L523.5 877.21L524 877.17L524.5 877.13L525 877.09L525.5 877.05L526 877.01L526.5 876.97L527 876.93L527.5 876.89L528 876.86L528.5 876.82L529 876.79L529.5 876.75L530 876.72L530.5 876.69L531 876.66L531.5 876.63L532 876.61L532.5 876.58L533 876.56L533.5 876.53L534 876.51L534.5 876.49L535 876.47L535.5 876.46L536 876.44L536.5 876.43L537 876.42L537.5 876.41L538 876.4L538.5 876.39L539 876.39L539.5 876.39L540 876.38L540.5 876.38L541 876.39L541.5 876.39L542 876.39L542.5 876.4L543 876.41L543.5 876.42L544 876.43L544.5 876.44L545 876.45L545.5 876.46L546 876.48L546.5 876.49L547 876.51L547.5 876.53L548 876.55L548.5 876.57L549 876.59L549.5 876.61L550 876.63L550.5 876.65L551 876.68L551.5 876.7L552 876.72L552.5 876.75L553 876.78L553.5 876.8L554 876.83L554.5 876.86L555 876.88L555.5 876.91L556 876.94L556.5 876.97L557 877L557.5 877.03L558 877.06L558.5 877.09L559 877.12L559.5 877.15L560 877.18L560.5 877.21L561 877.23L561.5 877.26L562 877.29L562.5 877.32L563 877.35L563.5 877.38L564 877.41L564.5 877.44L565 877.46L565.5 877.49L566 877.52L566.5 877.54L567 877.57L567.5 877.59L568 877.62L568.5 877.64L569 877.66L569.5 877.69L570 877.71L570.5 877.73L571 877.75L571.5 877.77L572 877.79L572.5 877.81L573 877.83L573.5 877.85L574 877.87L574.5 877.89L575 877.91L575.5 877.92L576 877.94L576.5 877.96L577 877.97L577.5 877.99L578 878L578.5 878.02L579 878.03L579.5 878.05L580 878.06L580.5 878.07L581 878.09L581.5 878.1L582 878.11L582.5 878.12L583 878.13L583.5 878.14L584 878.16L584.5 878.17L585 878.18L585.5 878.19L586 878.19L586.5 878.2L587 878.21L587.5 878.22L588 878.23L588.5 878.24L589 878.24L589.5 878.25L590 878.26L590.5 878.27L591 878.27L591.5 878.28L592 878.28L592.5 878.29L593 878.3L593.5 878.3L594 878.31L594.5 878.31L595 878.31L595.5 878.32L596 878.32L596.5 878.33L597 878.33L597.5 878.33L598 878.34L598.5 878.34L599 878.34L599.5 878.35L600 878.35L600.5 878.35L601 878.35L601.5 878.35L602 878.36L602.5 878.36L603 878.36L603.5 878.36L604 878.36L604.5 878.36L605 878.36L605.5 878.37L606 878.37L606.5 878.37L607 878.37L607.5 878.37L608 878.37L608.5 878.37L609 878.37L609.5 878.37L610 878.37L610.5 878.37L611 878.37L611.5 878.37L612 878.37L612.5 878.37L613 878.37L613.5 878.37L614 878.37L614.5 878.37L615 878.37L615.5 878.37L616 878.37L616.5 878.37L617 878.37L617.5 878.37L618 878.36L618.5 878.36L619 878.36L619.5 878.36L620 878.36L620.5 878.36L621 878.36L621.5 878.36L622 878.36L622.5 878.36L623 878.36L623.5 878.36L624 878.36L624.5 878.36L625 878.36L625.5 878.36L626 878.36L626.5 878.37L627 878.37L627.5 878.37L628 878.37L628.5 878.37L629 878.37L629.5 878.37L630 878.37L630.5 878.37L631 878.38L631.5 878.38L632 878.38L632.5 878.38L633 878.39L633.5 878.39L634 878.39L634.5 878.39L635 878.4L635.5 878.4L636 878.4L636.5 878.41L637 878.41L637.5 878.42L638 878.42L638.5 878.42L639 878.43L639.5 878.43L640 878.44L640.5 878.44L641 878.45L641.5 878.46L642 878.46L642.5 878.47L643 878.48L643.5 878.48L644 878.49L644.5 878.5L645 878.51L645.5 878.52L646 878.52L646.5 878.53L647 878.54L647.5 878.55L648 878.56L648.5 878.57L649 878.58L649.5 878.59L650 878.6L650.5 878.62L651 878.63L651.5 878.64L652 878.65L652.5 878.66L653 878.67L653.5 878.68L654 878.69L654.5 878.69L655 878.69L655.5 878.7L656 878.69L656.5 878.69L657 878.68L657.5 878.67L658 878.66L658.5 878.64L659 878.62L659.5 878.6L660 878.57L660.5 878.53L661 878.49L661.5 878.45L662 878.4L662.5 878.34L663 878.28L663.5 878.21L664 878.14L664.5 878.06L665 877.97L665.5 877.87L666 877.77L666.5 877.66L667 877.54L667.5 877.41L668 877.28L668.5 877.13L669 876.98L669.5 876.82L670 876.64L670.5 876.46L671 876.27L671.5 876.07L672 875.86L672.5 875.63L673 875.4L673.5 875.15L674 874.9L674.5 874.63L675 874.35L675.5 874.06L676 873.77L676.5 873.47L677 873.16L677.5 872.85L678 872.55L678.5 872.24L679 871.93L679.5 871.63L680 871.34L680.5 871.05L681 870.76L681.5 870.49L682 870.23L682.5 869.98L683 869.75L683.5 869.53L684 869.33L684.5 869.15L685 868.99L685.5 868.86L686 868.74L686.5 868.65L687 868.59L687.5 868.56L688 868.55L688.5 868.58L689 868.63L689.5 868.71L690 868.81L690.5 868.94L691 869.08L691.5 869.26L692 869.45L692.5 869.66L693 869.89L693.5 870.13L694 870.39L694.5 870.67L695 870.95L695.5 871.25L696 871.57L696.5 871.88L697 872.21L697.5 872.54L698 872.88L698.5 873.22L699 873.56L699.5 873.89L700 874.23L700.5 874.56L701 874.89L701.5 875.21L702 875.52L702.5 875.82L703 876.11L703.5 876.38L704 876.64L704.5 876.89L705 877.11L705.5 877.32L706 877.5L706.5 877.66L707 877.8L707.5 877.91L708 877.99L708.5 878.05L709 878.09L709.5 878.11L710 878.11L710.5 878.09L711 878.05L711.5 878L712 877.93L712.5 877.85L713 877.76L713.5 877.65L714 877.54L714.5 877.42L715 877.28L715.5 877.13L716 876.97L716.5 876.79L717 876.6L717.5 876.4L718 876.18L718.5 875.94L719 875.69L719.5 875.43L720 875.14L720.5 874.85L721 874.53L721.5 874.19L722 873.84L722.5 873.47L723 873.07L723.5 872.66L724 872.23L724.5 871.78L725 871.3L725.5 870.8L726 870.29L726.5 869.74L727 869.18L727.5 868.59L728 867.97L728.5 867.32L729 866.62L729.5 865.88L730 865.09L730.5 864.24L731 863.33L731.5 862.35L732 861.29L732.5 860.15L733 858.93L733.5 857.62L734 856.21L734.5 854.7L735 853.08L735.5 851.35L736 849.5L736.5 847.52L737 845.41L737.5 843.17L738 840.78L738.5 838.25L739 835.57L739.5 832.72L740 829.71L740.5 826.54L741 823.24L741.5 819.9L742 816.59L742.5 813.39L743 810.36L743.5 807.4L744 804.39L744.5 801.21L745 797.74L745.5 793.92L746 789.8L746.5 785.46L747 780.97L747.5 776.41L748 771.87L748.5 767.44L749 763.21L749.5 759.26L750 755.67L750.5 752.54L751 749.93L751.5 747.79L752 746.08L752.5 744.72L753 743.65L753.5 742.82L754 742.2L754.5 741.79L755 741.56L755.5 741.51L756 741.61L756.5 741.86L757 742.24L757.5 742.74L758 743.34L758.5 744.03L759 744.8L759.5 745.69L760 746.74L760.5 748L761 749.51L761.5 751.32L762 753.4L762.5 755.72L763 758.22L763.5 760.85L764 763.56L764.5 766.29L765 769L765.5 771.63L766 774.13L766.5 776.45L767 778.54L767.5 780.34L768 781.81L768.5 782.9L769 783.55L769.5 783.71L770 783.34L770.5 782.51L771 781.26L771.5 779.68L772 777.83L772.5 775.78L773 773.59L773.5 771.33L774 769.07L774.5 766.86L775 764.72L775.5 762.67L776 760.72L776.5 758.91L777 757.26L777.5 755.77L778 754.48L778.5 753.39L779 752.49L779.5 751.78L780 751.25L780.5 750.91L781 750.74L781.5 750.73L782 750.89L782.5 751.21L783 751.68L783.5 752.31L784 753.07L784.5 753.97L785 755.02L785.5 756.26L786 757.74L786.5 759.54L787 761.71L787.5 764.29L788 767.27L788.5 770.6L789 774.25L789.5 778.16L790 782.29L790.5 786.59L791 791.01L791.5 795.52L792 800.06L792.5 804.59L793 809.06L793.5 813.43L794 817.65L794.5 821.68L795 825.47L795.5 828.98L796 832.23L796.5 835.24L797 838.04L797.5 840.64L798 843.08L798.5 845.37L799 847.53L799.5 849.6L800 851.58L800.5 853.5L801 855.35L801.5 857.13L802 858.84L802.5 860.48L803 862.04L803.5 863.53L804 864.94L804.5 866.28L805 867.53L805.5 868.71L806 869.81L806.5 870.82L807 871.76L807.5 872.6L808 873.37L808.5 874.05L809 874.64L809.5 875.14L810 875.55L810.5 875.88L811 876.11L811.5 876.24L812 876.29L812.5 876.24L813 876.09L813.5 875.85L814 875.5L814.5 875.06L815 874.52L815.5 873.87L816 873.12L816.5 872.27L817 871.31L817.5 870.25L818 869.08L818.5 867.81L819 866.44L819.5 864.99L820 863.47L820.5 861.87L821 860.21L821.5 858.5L822 856.74L822.5 854.94L823 853.12L823.5 851.27L824 849.41L824.5 847.55L825 845.69L825.5 843.83L826 842L826.5 840.19L827 838.42L827.5 836.68L828 835L828.5 833.38L829 831.82L829.5 830.34L830 828.94L830.5 827.63L831 826.42L831.5 825.31L832 824.31L832.5 823.43L833 822.66L833.5 822.02L834 821.5L834.5 821.12L835 820.87L835.5 820.75L836 820.78L836.5 820.96L837 821.28L837.5 821.76L838 822.4L838.5 823.2L839 824.17L839.5 825.3L840 826.61L840.5 828.06L841 829.63L841.5 831.28L842 832.99L842.5 834.72L843 836.44L843.5 838.14L844 839.76L844.5 841.3L845 842.73L845.5 844.06L846 845.29L846.5 846.42L847 847.45L847.5 848.39L848 849.24L848.5 850.01L849 850.69L849.5 851.28L850 851.8L850.5 852.23L851 852.59L851.5 852.88L852 853.1L852.5 853.24L853 853.32L853.5 853.34L854 853.3L854.5 853.19L855 853.03L855.5 852.82L856 852.56L856.5 852.24L857 851.87L857.5 851.45L858 850.97L858.5 850.44L859 849.84L859.5 849.18L860 848.46L860.5 847.67L861 846.8L861.5 845.87L862 844.86L862.5 843.78L863 842.62L863.5 841.37L864 840.05L864.5 838.64L865 837.14L865.5 835.55L866 833.86L866.5 832.05L867 830.12L867.5 828.04L868 825.81L868.5 823.4L869 820.82L869.5 818.03L870 815.04L870.5 811.82L871 808.36L871.5 804.66L872 800.68L872.5 796.43L873 791.88L873.5 787.03L874 781.86L874.5 776.34L875 770.46L875.5 764.2L876 757.52L876.5 750.41L877 742.86L877.5 734.99L878 727.19L878.5 719.71L879 712.47L879.5 705.37L880 698.16L880.5 690.43L881 681.88L881.5 672.68L882 663.22L882.5 653.94L883 645.34L883.5 637.96L884 631.94L884.5 626.93L885 622.61L885.5 618.91L886 615.79L886.5 613.23L887 611.19L887.5 609.66L888 608.6L888.5 607.99L889 607.8L889.5 608.01L890 608.6L890.5 609.57L891 610.94L891.5 612.71L892 614.87L892.5 617.43L893 620.4L893.5 623.77L894 627.56L894.5 631.76L895 636.37L895.5 641.41L896 646.85L896.5 652.68L897 658.87L897.5 665.4L898 672.25L898.5 679.4L899 686.72L899.5 693.9L900 700.61L900.5 706.7L901 712.19L901.5 717.12L902 721.49L902.5 725.35L903 728.7L903.5 731.57L904 734L904.5 735.99L905 737.57L905.5 738.77L906 739.62L906.5 740.12L907 740.31L907.5 740.22L908 739.86L908.5 739.27L909 738.48L909.5 737.53L910 736.44L910.5 735.24L911 733.97L911.5 732.65L912 731.33L912.5 730.02L913 728.76L913.5 727.58L914 726.52L914.5 725.6L915 724.86L915.5 724.32L916 724.02L916.5 723.98L917 724.25L917.5 724.83L918 725.76L918.5 727.03L919 728.68L919.5 730.71L920 733.15L920.5 736.01L921 739.23L921.5 742.64L922 746.08L922.5 749.38L923 752.37L923.5 754.96L924 757.27L924.5 759.44L925 761.62L925.5 763.93L926 766.53L926.5 769.54L927 773.12L927.5 777.36L928 782.09L928.5 787.01L929 791.82L929.5 796.23L930 800.17L930.5 803.72L931 806.95L931.5 809.96L932 812.83L932.5 815.65" fill="none" stroke="#111" stroke-width="1.4" clip-path="url(#cD)"/>
<path d="M499 876.3L500 876.13L501 876.06L502 876.01L503 875.97L504 875.93L505 875.89L506 875.86L507 875.83L508 875.81L509 875.78L510 875.76L511 875.74L512 875.73L513 875.71L514 875.7L515 875.68L516 875.67L517 875.65L518 875.63L519 875.62L520 875.6L521 875.58L522 875.56L523 875.53L524 875.5L525 875.47L526 875.44L527 875.41L528 875.38L529 875.35L530 875.32L531 875.28L532 875.25L533 875.22L534 875.18L535 875.15L536 875.11L537 875.08L538 875.04L539 875L540 874.97L541 874.93L542 874.89L543 874.85L544 874.81L545 874.77L546 874.73L547 874.69L548 874.65L549 874.61L550 874.57L551 874.52L552 874.48L553 874.44L554 874.4L555 874.35L556 874.31L557 874.27L558 874.22L559 874.18L560 874.13L561 874.08L562 874.04L563 873.99L564 873.94L565 873.88L566 873.83L567 873.77L568 873.71L569 873.65L570 873.59L571 873.53L572 873.46L573 873.39L574 873.32L575 873.25L576 873.17L577 873.08L578 872.99L579 872.89L580 872.79L581 872.69L582 872.58L583 872.46L584 872.34L585 872.22L586 872.09L587 871.96L588 871.83L589 871.69L590 871.55L591 871.41L592 871.26L593 871.11L594 870.96L595 870.8L596 870.65L597 870.49L598 870.33L599 870.17L600 870L601 869.83L602 869.65L603 869.47L604 869.28L605 869.09L606 868.89L607 868.68L608 868.47L609 868.25L610 868.03L611 867.79L612 867.56L613 867.31L614 867.06L615 866.8L616 866.54L617 866.27L618 865.98L619 865.66L620 865.31L621 864.94L622 864.56L623 864.19L624 863.85L625 863.55L626 863.27L627 862.99L628 862.73L629 862.47L630 862.22L631 861.98L632 861.74L633 861.5L634 861.26L635 861.02L636 860.77L637 860.53L638 860.27L639 860.02L640 859.76L641 859.5L642 859.25L643 858.99L644 858.74L645 858.49L646 858.24L647 858L648 857.76L649 857.53L650 857.31L651 857.1L652 856.91L653 856.72L654 856.53L655 856.35L656 856.17L657 855.99L658 855.8L659 855.6L660 855.4L661 855.18L662 854.95L663 854.7L664 854.44L665 854.17L666 853.88L667 853.58L668 853.27L669 852.95L670 852.62L671 852.27L672 851.92L673 851.55L674 851.17L675 850.78L676 850.38L677 849.95L678 849.51L679 849.05L680 848.57L681 848.06L682 847.53L683 846.97L684 846.39L685 845.77L686 845.1L687 844.37L688 843.59L689 842.76L690 841.89L691 840.99L692 840.08L693 839.13L694 838.13L695 837.08L696 835.99L697 834.88L698 833.75L699 832.61L700 831.49L701 830.38L702 829.27L703 828.13L704 826.94L705 825.67L706 824.31L707 822.87L708 821.3L709 819.59L710 817.63L711 815.52L712 813.37L713 811.3L714 809.37L715 807.49L716 805.59L717 803.56L718 801.36L719 799.04L720 796.58L721 793.95L722 791.1L723 787.92L724 784.41L725 780.74L726 777.03L727 773.39L728 769.73L729 765.98L730 762.05L731 757.87L732 753.42L733 748.75L734 743.93L735 739.01L736 733.94L737 728.7L738 723.37L739 718L740 712.54L741 706.97L742 701.42L743 696L744 690.68L745 685.42L746 680.27L747 675.33L748 670.62L749 666.03L750 661.61L751 657.39L752 653.41L753 649.69L754 646.16L755 642.78L756 639.5L757 636.25L758 633.02L759 629.9L760 626.98L761 624.34L762 621.92L763 619.67L764 617.57L765 615.6L766 613.72L767 611.94L768 610.28L769 608.78L770 607.43L771 606.17L772 605.02L773 603.98L774 603.05L775 602.24L776 601.49L777 600.78L778 600.05L779 599.32L780 598.59L781 597.9L782 597.26L783 596.7L784 596.2L785 595.72L786 595.22L787 594.67L788 594.07L789 593.43L790 592.79L791 592.14L792 591.49L793 590.85L794 590.18L795 589.47L796 588.74L797 587.97L798 587.16L799 586.28L800 585.29L801 584.17L802 582.96L803 581.69L804 580.42L805 579.13L806 577.8L807 576.4L808 574.91L809 573.3L810 571.56L811 569.71L812 567.78L813 565.79L814 563.69L815 561.51L816 559.26L817 557L818 554.72L819 552.39L820 550.03L821 547.63L822 545.18L823 542.65L824 540.1L825 537.58L826 535.13L827 532.75L828 530.41L829 528.08L830 525.74L831 523.38L832 521.02L833 518.66L834 516.31L835 513.97L836 511.64L837 509.32L838 507L839 504.67L840 502.32L841 499.97L842 497.62L843 495.27L844 492.9L845 490.49L846 488.1L847 485.8L848 483.63L849 481.55L850 479.54L851 477.6L852 475.7L853 473.83L854 472L855 470.24L856 468.57L857 467.04L858 465.6L859 464.24L860 462.9L861 461.56L862 460.19L863 458.84L864 457.56L865 456.41L866 455.39L867 454.44L868 453.58L869 452.79L870 452.09L871 451.45L872 450.86L873 450.32L874 449.79L875 449.26L876 448.77L877 448.32L878 447.97L879 447.65L880 447.35L881 447.12L882 447L883 447L884 447L885 447L886 447L887 447.02L888 447.18L889 447.44L890 447.76L891 448.11L892 448.59L893 449.19L894 449.85L895 450.5L896 451.15L897 451.84L898 452.54L899 453.25L900 453.95L901 454.64L902 455.34L903 456.04L904 456.74L905 457.44L906 458.13L907 458.83L908 459.53L909 460.23L910 460.93L911 461.62L912 462.32L913 463.02L914 463.7L915 464.39L916 465.09L917 465.83L918 466.63L919 467.45L920 468.25L921 468.97L922 469.58L923 470.13L924 470.68L925 471.27L926 471.94L927 472.65L928 473.39L929 474.16L930 474.94L931 475.74L932 476.57" fill="none" stroke="#43a3d6" stroke-width="1.3" clip-path="url(#cD)"/>
<g fill="#000" clip-path="url(#cD)"><circle cx="500.7" cy="876.08" r="1.95"/><circle cx="505.03" cy="875.89" r="1.95"/><circle cx="509.36" cy="875.78" r="1.95"/><circle cx="513.69" cy="875.7" r="1.95"/><circle cx="518.02" cy="875.63" r="1.95"/><circle cx="522.35" cy="875.55" r="1.95"/><circle cx="526.68" cy="875.42" r="1.95"/><circle cx="531.01" cy="875.28" r="1.95"/><circle cx="535.34" cy="875.14" r="1.95"/><circle cx="539.67" cy="874.98" r="1.95"/><circle cx="544" cy="874.81" r="1.95"/><circle cx="548.33" cy="874.64" r="1.95"/><circle cx="552.66" cy="874.45" r="1.95"/><circle cx="556.99" cy="874.27" r="1.95"/><circle cx="561.32" cy="874.07" r="1.95"/><circle cx="565.65" cy="873.85" r="1.95"/><circle cx="569.98" cy="873.59" r="1.95"/><circle cx="574.31" cy="873.3" r="1.95"/><circle cx="578.64" cy="872.93" r="1.95"/><circle cx="582.97" cy="872.47" r="1.95"/><circle cx="587.3" cy="871.92" r="1.95"/><circle cx="591.63" cy="871.31" r="1.95"/><circle cx="595.96" cy="870.65" r="1.95"/><circle cx="600.29" cy="869.95" r="1.95"/><circle cx="604.62" cy="869.16" r="1.95"/><circle cx="608.95" cy="868.26" r="1.95"/><circle cx="613.28" cy="867.24" r="1.95"/><circle cx="617.61" cy="866.1" r="1.95"/><circle cx="621.94" cy="864.58" r="1.95"/><circle cx="626.27" cy="863.19" r="1.95"/><circle cx="630.6" cy="862.07" r="1.95"/><circle cx="634.93" cy="861.03" r="1.95"/><circle cx="639.26" cy="859.95" r="1.95"/><circle cx="643.59" cy="858.84" r="1.95"/><circle cx="647.92" cy="857.78" r="1.95"/><circle cx="652.25" cy="856.86" r="1.95"/><circle cx="656.58" cy="856.06" r="1.95"/><circle cx="660.91" cy="855.2" r="1.95"/><circle cx="665.24" cy="854.1" r="1.95"/><circle cx="669.57" cy="852.76" r="1.95"/><circle cx="673.9" cy="851.21" r="1.95"/><circle cx="678.23" cy="849.41" r="1.95"/><circle cx="682.56" cy="847.22" r="1.95"/><circle cx="686.89" cy="844.46" r="1.95"/><circle cx="691.22" cy="840.79" r="1.95"/><circle cx="695.55" cy="836.49" r="1.95"/><circle cx="699.88" cy="831.62" r="1.95"/><circle cx="704.21" cy="826.68" r="1.95"/><circle cx="708.54" cy="820.4" r="1.95"/><circle cx="712.87" cy="811.56" r="1.95"/><circle cx="717.2" cy="803.14" r="1.95"/><circle cx="721.53" cy="792.47" r="1.95"/><circle cx="725.86" cy="777.55" r="1.95"/><circle cx="730.19" cy="761.28" r="1.95"/><circle cx="734.52" cy="741.38" r="1.95"/><circle cx="738.85" cy="718.81" r="1.95"/><circle cx="743.18" cy="695.04" r="1.95"/><circle cx="747.51" cy="672.91" r="1.95"/><circle cx="751.84" cy="654.03" r="1.95"/><circle cx="756.17" cy="638.95" r="1.95"/><circle cx="760.5" cy="625.62" r="1.95"/><circle cx="764.83" cy="615.93" r="1.95"/><circle cx="769.16" cy="608.56" r="1.95"/><circle cx="773.49" cy="603.51" r="1.95"/><circle cx="777.82" cy="600.19" r="1.95"/><circle cx="782.15" cy="597.17" r="1.95"/><circle cx="786.48" cy="594.97" r="1.95"/><circle cx="790.81" cy="592.26" r="1.95"/><circle cx="795.14" cy="589.37" r="1.95"/><circle cx="799.47" cy="585.83" r="1.95"/><circle cx="803.8" cy="580.67" r="1.95"/><circle cx="808.13" cy="574.71" r="1.95"/><circle cx="812.46" cy="566.88" r="1.95"/><circle cx="816.79" cy="557.48" r="1.95"/><circle cx="821.12" cy="547.34" r="1.95"/><circle cx="825.45" cy="536.47" r="1.95"/><circle cx="829.78" cy="526.25" r="1.95"/><circle cx="834.11" cy="516.05" r="1.95"/><circle cx="838.44" cy="505.97" r="1.95"/><circle cx="842.77" cy="495.81" r="1.95"/><circle cx="847.1" cy="485.58" r="1.95"/><circle cx="851.43" cy="476.78" r="1.95"/><circle cx="855.76" cy="468.96" r="1.95"/><circle cx="860.09" cy="462.78" r="1.95"/><circle cx="864.42" cy="457.05" r="1.95"/><circle cx="868.75" cy="452.98" r="1.95"/><circle cx="873.08" cy="450.27" r="1.95"/><circle cx="877.41" cy="448.17" r="1.95"/><circle cx="881.74" cy="447.02" r="1.95"/><circle cx="886.07" cy="447" r="1.95"/><circle cx="890.4" cy="447.9" r="1.95"/><circle cx="894.73" cy="450.33" r="1.95"/><circle cx="899.06" cy="453.29" r="1.95"/><circle cx="903.39" cy="456.31" r="1.95"/><circle cx="907.72" cy="459.33" r="1.95"/><circle cx="912.05" cy="462.36" r="1.95"/><circle cx="916.38" cy="465.37" r="1.95"/><circle cx="920.71" cy="468.77" r="1.95"/><circle cx="925.04" cy="471.3" r="1.95"/><circle cx="929.37" cy="474.44" r="1.95"/></g>
<g stroke="#000" stroke-width="2" fill="none"><rect x="66" y="10" width="866.5" height="869"/><line x1="499" y1="10" x2="499" y2="879"/><line x1="66" y1="445" x2="932.5" y2="445"/><line x1="66" y1="415.6" x2="74" y2="415.6"/><line x1="66" y1="386.7" x2="74" y2="386.7"/><line x1="66" y1="357.8" x2="74" y2="357.8"/><line x1="66" y1="328.9" x2="74" y2="328.9"/><line x1="66" y1="300" x2="80" y2="300"/><line x1="66" y1="271.1" x2="74" y2="271.1"/><line x1="66" y1="242.2" x2="74" y2="242.2"/><line x1="66" y1="213.3" x2="74" y2="213.3"/><line x1="66" y1="184.4" x2="74" y2="184.4"/><line x1="66" y1="155.5" x2="80" y2="155.5"/><line x1="66" y1="126.6" x2="74" y2="126.6"/><line x1="66" y1="97.7" x2="74" y2="97.7"/><line x1="66" y1="68.8" x2="74" y2="68.8"/><line x1="66" y1="39.9" x2="74" y2="39.9"/><line x1="66" y1="849.55" x2="74" y2="849.55"/><line x1="66" y1="820.6" x2="74" y2="820.6"/><line x1="66" y1="791.65" x2="74" y2="791.65"/><line x1="66" y1="762.7" x2="74" y2="762.7"/><line x1="66" y1="733.75" x2="80" y2="733.75"/><line x1="66" y1="704.8" x2="74" y2="704.8"/><line x1="66" y1="675.85" x2="74" y2="675.85"/><line x1="66" y1="646.9" x2="74" y2="646.9"/><line x1="66" y1="617.95" x2="74" y2="617.95"/><line x1="66" y1="589" x2="80" y2="589"/><line x1="66" y1="560.05" x2="74" y2="560.05"/><line x1="66" y1="531.1" x2="74" y2="531.1"/><line x1="66" y1="502.15" x2="74" y2="502.15"/><line x1="66" y1="473.2" x2="74" y2="473.2"/><line x1="66" y1="879" x2="66" y2="892"/><line x1="499" y1="879" x2="499" y2="892"/><line x1="87.65" y1="879" x2="87.65" y2="885"/><line x1="520.67" y1="879" x2="520.67" y2="885"/><line x1="109.3" y1="879" x2="109.3" y2="885"/><line x1="542.35" y1="879" x2="542.35" y2="885"/><line x1="130.95" y1="879" x2="130.95" y2="885"/><line x1="564.02" y1="879" x2="564.02" y2="885"/><line x1="152.6" y1="879" x2="152.6" y2="892"/><line x1="585.7" y1="879" x2="585.7" y2="892"/><line x1="174.25" y1="879" x2="174.25" y2="885"/><line x1="607.38" y1="879" x2="607.38" y2="885"/><line x1="195.9" y1="879" x2="195.9" y2="885"/><line x1="629.05" y1="879" x2="629.05" y2="885"/><line x1="217.55" y1="879" x2="217.55" y2="885"/><line x1="650.73" y1="879" x2="650.73" y2="885"/><line x1="239.2" y1="879" x2="239.2" y2="892"/><line x1="672.4" y1="879" x2="672.4" y2="892"/><line x1="260.85" y1="879" x2="260.85" y2="885"/><line x1="694.08" y1="879" x2="694.08" y2="885"/><line x1="282.5" y1="879" x2="282.5" y2="885"/><line x1="715.75" y1="879" x2="715.75" y2="885"/><line x1="304.15" y1="879" x2="304.15" y2="885"/><line x1="737.42" y1="879" x2="737.42" y2="885"/><line x1="325.8" y1="879" x2="325.8" y2="892"/><line x1="759.1" y1="879" x2="759.1" y2="892"/><line x1="347.45" y1="879" x2="347.45" y2="885"/><line x1="780.78" y1="879" x2="780.78" y2="885"/><line x1="369.1" y1="879" x2="369.1" y2="885"/><line x1="802.45" y1="879" x2="802.45" y2="885"/><line x1="390.75" y1="879" x2="390.75" y2="885"/><line x1="824.12" y1="879" x2="824.12" y2="885"/><line x1="412.4" y1="879" x2="412.4" y2="892"/><line x1="845.8" y1="879" x2="845.8" y2="892"/><line x1="434.05" y1="879" x2="434.05" y2="885"/><line x1="867.48" y1="879" x2="867.48" y2="885"/><line x1="455.7" y1="879" x2="455.7" y2="885"/><line x1="889.15" y1="879" x2="889.15" y2="885"/><line x1="477.35" y1="879" x2="477.35" y2="885"/><line x1="910.83" y1="879" x2="910.83" y2="885"/><line x1="499" y1="879" x2="499" y2="892"/><line x1="932.5" y1="879" x2="932.5" y2="892"/></g>
<g text-anchor="end" fill="#000" font-size="22"><g transform="matrix(1 0 0 1.04 0 -0.64)"><text x="59.3" y="16.1">1.5</text></g><g transform="matrix(1 0 0 1.04 0 -6.46)"><text x="59.3" y="161.5">1.0</text></g><g transform="matrix(1 0 0 1.04 0 -12.26)"><text x="59.3" y="306.5">0.5</text></g><g transform="matrix(1 0 0 1.04 0 -23.82)"><text x="59.3" y="595.6">1.0</text></g><g transform="matrix(1 0 0 1.04 0 -29.62)"><text x="59.3" y="740.6">0.5</text></g><g transform="matrix(1 0 0 1.04 0 -35.41)"><text x="59.3" y="885.3">0.0</text></g></g>
<g text-anchor="middle" fill="#000" font-size="22.2"><g transform="matrix(1 0 0 1.04 0 -36.64)"><text x="65.2" y="916">2818</text></g><g transform="matrix(1 0 0 1.04 0 -36.64)"><text x="151.8" y="916">2820</text></g><g transform="matrix(1 0 0 1.04 0 -36.64)"><text x="238.4" y="916">2822</text></g><g transform="matrix(1 0 0 1.04 0 -36.64)"><text x="325" y="916">2824</text></g><g transform="matrix(1 0 0 1.04 0 -36.64)"><text x="411.6" y="916">2826</text></g><g transform="matrix(1 0 0 1.04 0 -36.64)"><text x="584.9" y="916">2820</text></g><g transform="matrix(1 0 0 1.04 0 -36.64)"><text x="671.6" y="916">2822</text></g><g transform="matrix(1 0 0 1.04 0 -36.64)"><text x="758.3" y="916">2824</text></g><g transform="matrix(1 0 0 1.04 0 -36.64)"><text x="845" y="916">2826</text></g><g transform="matrix(1 0 0 1.04 0 -36.64)"><text x="931.7" y="916">2828</text></g></g>
<g transform="matrix(1 0 0 1.04 0 -37.9)"><text class="b" x="495.5" y="947.5" text-anchor="middle" font-size="25" letter-spacing="0.45">Energy (eV)</text></g>
<text class="b" transform="translate(18.9 445.6) rotate(-90) scale(1 1.04)" text-anchor="middle" font-size="25" letter-spacing="0.4">Normalized Intensity</text>
<g transform="matrix(1 0 0 1.04 0 -1.8)"><text class="b" x="119" y="44.9" text-anchor="middle" font-size="21.8">AmCl<tspan font-size="13" dy="3.4">6</tspan><tspan font-size="12.5" dy="-11">3-</tspan></text></g><g transform="matrix(1 0 0 1.04 0 -2.85)"><text x="119" y="71.3" text-anchor="middle" font-size="22">(<tspan class="i">exp</tspan>)</text></g>
<g transform="matrix(1 0 0 1.04 0 -1.8)"><text class="b" x="560" y="44.9" text-anchor="middle" font-size="21.8">EuCl<tspan font-size="13" dy="3.4">6</tspan><tspan font-size="12.5" dy="-11">3-</tspan></text></g><g transform="matrix(1 0 0 1.04 0 -2.85)"><text x="560" y="71.3" text-anchor="middle" font-size="22">(<tspan class="i">exp</tspan>)</text></g>
<g transform="matrix(1 0 0 1.04 0 -19.18)"><text class="b" x="119" y="479.5" text-anchor="middle" font-size="21.8">AmCl<tspan font-size="13" dy="3.4">6</tspan><tspan font-size="12.5" dy="-11">3-</tspan></text></g><g transform="matrix(1 0 0 1.04 0 -20.24)"><text x="119" y="505.9" text-anchor="middle" font-size="22">(<tspan class="i">calc</tspan>)</text></g>
<g transform="matrix(1 0 0 1.04 0 -19.18)"><text class="b" x="560" y="479.5" text-anchor="middle" font-size="21.8">EuCl<tspan font-size="13" dy="3.4">6</tspan><tspan font-size="12.5" dy="-11">3-</tspan></text></g><g transform="matrix(1 0 0 1.04 0 -20.24)"><text x="560" y="505.9" text-anchor="middle" font-size="22">(<tspan class="i">calc</tspan>)</text></g>
<g transform="matrix(1 0 0 1.04 0 -9.23)"><text x="268.5" y="230.8" text-anchor="middle" font-size="22" fill="#1c8558">Am 6<tspan class="i">d</tspan></text></g>
<text class="pi" transform="translate(268.0 -10.32) scale(1.17 1.04)" x="0" y="258" text-anchor="middle" font-size="20" fill="#2a8a2a">π</text>
<g transform="matrix(1 0 0 1.04 0 -11.35)"><text x="268.3" y="283.8" text-anchor="middle" font-size="22" fill="#1c8558">10.3(9)%</text></g>
<g transform="matrix(1 0 0 1.04 0 -11.53)"><text x="441" y="288.3" text-anchor="middle" font-size="22" fill="#5533cc">Am 6<tspan class="i">d</tspan></text></g>
<g transform="matrix(1 0 0 1.04 0 -14.8)"><text x="225" y="370" text-anchor="middle" font-size="22" fill="#e06a2a">Am 5<tspan class="i">f</tspan></text></g>
<g transform="matrix(1 0 0 1.04 0 -15.84)"><text x="224" y="396" text-anchor="middle" font-size="22" fill="#e06a2a">0.54(5)%</text></g>
<g transform="matrix(1 0 0 1.04 0 -9.24)"><text x="692" y="230.9" text-anchor="middle" font-size="22" fill="#1c8558">Eu 5<tspan class="i">d</tspan></text></g>
<text class="pi" transform="translate(691.6 -10.284) scale(1.17 1.04)" x="0" y="257.1" text-anchor="middle" font-size="20" fill="#2a8a2a">π</text>
<g transform="matrix(1 0 0 1.04 0 -11.35)"><text x="691.3" y="283.8" text-anchor="middle" font-size="22" fill="#1c8558">9.2(9)%</text></g>
<g transform="matrix(1 0 0 1.04 0 -16.33)"><text x="638.8" y="408.3" text-anchor="middle" font-size="22" fill="#e06a2a">Eu 4<tspan class="i">f</tspan></text></g>
<g transform="matrix(1 0 0 1.04 0 -24.46)"><text x="415.7" y="611.6" text-anchor="middle" font-size="22" fill="#666666">Am 7<tspan class="i">p</tspan></text></g>
<g transform="matrix(1 0 0 1.04 0 -25.52)"><text x="415.7" y="638" text-anchor="middle" font-size="22" fill="#c9a030">Am 7<tspan class="i">s</tspan></text></g>
<g transform="matrix(1 0 0 1.04 0 -26.57)"><text x="415.7" y="664.2" text-anchor="middle" font-size="22" fill="#1a3fc8">Am 6<tspan class="i">d</tspan></text></g>
<g transform="matrix(1 0 0 1.04 0 -28.75)"><text x="362.8" y="718.7" text-anchor="middle" font-size="22" fill="#2a9a2a">Am 6<tspan class="i">d</tspan></text></g>
<text class="pi" transform="translate(361.7 -29.776) scale(1.17 1.04)" x="0" y="744.4" text-anchor="middle" font-size="20" fill="#2a9a2a">π</text>
<g transform="matrix(1 0 0 1.04 0 -33.55)"><text x="224" y="838.7" text-anchor="middle" font-size="22" fill="#e06a2a">Am 5<tspan class="i">f</tspan></text></g>
<g transform="matrix(1 0 0 1.04 0 -24.46)"><text x="842.3" y="611.5" text-anchor="middle" font-size="22" fill="#666666">Eu 6<tspan class="i">p</tspan></text></g>
<g transform="matrix(1 0 0 1.04 0 -25.5)"><text x="842.3" y="637.5" text-anchor="middle" font-size="22" fill="#c9a030">Eu 6<tspan class="i">s</tspan></text></g>
<g transform="matrix(1 0 0 1.04 0 -26.56)"><text x="842.3" y="663.9" text-anchor="middle" font-size="22" fill="#1a3fc8">Eu 5<tspan class="i">d</tspan></text></g>
<g transform="matrix(1 0 0 1.04 0 -28.75)"><text x="777" y="718.8" text-anchor="middle" font-size="22" fill="#2a9a2a">Eu 5<tspan class="i">d</tspan></text></g>
<text class="pi" transform="translate(776.1 -29.816) scale(1.17 1.04)" x="0" y="745.4" text-anchor="middle" font-size="20" fill="#2a9a2a">π</text>
<g transform="matrix(1 0 0 1.04 0 -33.56)"><text x="639" y="839.1" text-anchor="middle" font-size="22" fill="#e06a2a">Eu 4<tspan class="i">f</tspan></text></g>
</svg></body></html>
